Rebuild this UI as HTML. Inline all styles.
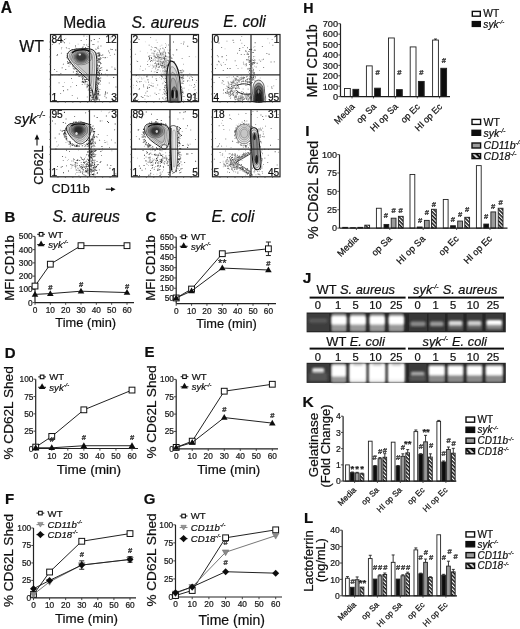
<!DOCTYPE html><html><head><meta charset="utf-8"><style>html,body{margin:0;padding:0;background:#fff;}svg{display:block;}text{stroke:#111;stroke-width:0.22px;}</style></head><body><svg width="520" height="629" viewBox="0 0 520 629" font-family='"Liberation Sans", sans-serif'><defs><filter id="gsoft" x="0" y="0" width="100%" height="100%"><feGaussianBlur stdDeviation="0.35"/></filter></defs><g filter="url(#gsoft)"><rect width="520" height="629" fill="#fff"/><text x="0.80" y="12.60" font-size="15.6" font-weight="bold" fill="#111">A</text>
<text x="84.40" y="28.20" font-size="15.6" text-anchor="middle" fill="#111">Media</text>
<text x="165.30" y="27.60" font-size="15.8" text-anchor="middle" font-style="italic" fill="#111">S. aureus</text>
<text x="244.60" y="27.20" font-size="15.6" text-anchor="middle" font-style="italic" fill="#111">E. coli</text>
<text x="19.30" y="51.90" font-size="15.8" fill="#111">WT</text>
<text x="14.3" y="124.3" font-size="15" font-style="italic" fill="#111">syk<tspan font-size="9" dy="-6.2">-/-</tspan></text>
<text x="43.00" y="165.20" font-size="12.6" text-anchor="middle" transform="rotate(-90 43.00 165.20)" fill="#111">CD62L</text>
<text x="51.60" y="193.40" font-size="12.6" fill="#111">CD11b</text>
<path d="M37 145.5 V138" stroke="#111" stroke-width="1.1"/><path d="M34.6 139.5 L37 134.3 L39.4 139.5 Z" fill="#111"/>
<path d="M105.8 189.2 H112" stroke="#111" stroke-width="1.1"/><path d="M111 186.9 L115.6 189.2 L111 191.5 Z" fill="#111"/>
<defs><filter id="soft" x="-5%" y="-5%" width="110%" height="110%"><feGaussianBlur stdDeviation="0.35"/></filter></defs>
<g filter="url(#soft)">
<path d="M92.7 97.2h0.9v0.9h-0.9zM95.6 92.0h0.9v0.9h-0.9zM95.5 74.2h0.9v0.9h-0.9zM91.7 86.1h0.9v0.9h-0.9zM95.9 84.0h0.9v0.9h-0.9zM93.7 78.2h0.9v0.9h-0.9zM95.1 93.2h0.9v0.9h-0.9zM97.5 93.0h0.9v0.9h-0.9zM93.9 94.1h0.9v0.9h-0.9zM94.1 99.9h0.9v0.9h-0.9zM89.1 92.2h0.9v0.9h-0.9zM96.6 80.0h0.9v0.9h-0.9zM95.0 89.5h0.9v0.9h-0.9zM97.1 87.6h0.9v0.9h-0.9zM97.5 84.1h0.9v0.9h-0.9zM92.8 72.9h0.9v0.9h-0.9zM97.6 72.0h0.9v0.9h-0.9zM95.7 83.0h0.9v0.9h-0.9zM96.6 86.7h0.9v0.9h-0.9zM95.9 95.1h0.9v0.9h-0.9zM96.4 77.4h0.9v0.9h-0.9zM95.5 57.4h0.9v0.9h-0.9zM98.4 98.8h0.9v0.9h-0.9zM95.7 84.8h0.9v0.9h-0.9zM94.5 97.5h0.9v0.9h-0.9zM92.9 85.9h0.9v0.9h-0.9zM95.9 54.3h0.9v0.9h-0.9zM95.8 92.3h0.9v0.9h-0.9zM90.3 87.5h0.9v0.9h-0.9zM94.0 86.8h0.9v0.9h-0.9zM94.7 86.1h0.9v0.9h-0.9zM94.4 98.2h0.9v0.9h-0.9zM94.6 97.8h0.9v0.9h-0.9zM92.4 53.7h0.9v0.9h-0.9zM92.5 72.6h0.9v0.9h-0.9zM94.3 87.9h0.9v0.9h-0.9zM95.8 84.7h0.9v0.9h-0.9zM97.1 97.1h0.9v0.9h-0.9zM95.0 100.0h0.9v0.9h-0.9zM94.1 88.6h0.9v0.9h-0.9zM93.2 90.8h0.9v0.9h-0.9zM94.1 75.5h0.9v0.9h-0.9zM90.8 100.1h0.9v0.9h-0.9zM95.9 88.4h0.9v0.9h-0.9zM96.0 94.6h0.9v0.9h-0.9zM96.1 95.7h0.9v0.9h-0.9zM93.9 87.7h0.9v0.9h-0.9zM96.8 58.2h0.9v0.9h-0.9zM95.6 98.2h0.9v0.9h-0.9zM93.1 69.5h0.9v0.9h-0.9zM95.1 93.3h0.9v0.9h-0.9zM97.0 92.7h0.9v0.9h-0.9zM94.4 81.4h0.9v0.9h-0.9zM93.6 72.8h0.9v0.9h-0.9zM92.6 79.9h0.9v0.9h-0.9zM92.0 97.4h0.9v0.9h-0.9zM97.4 94.4h0.9v0.9h-0.9zM94.5 97.5h0.9v0.9h-0.9zM92.3 65.4h0.9v0.9h-0.9zM96.3 98.1h0.9v0.9h-0.9zM95.2 89.2h0.9v0.9h-0.9zM95.8 53.7h0.9v0.9h-0.9zM96.5 94.4h0.9v0.9h-0.9zM92.3 74.8h0.9v0.9h-0.9zM95.3 85.0h0.9v0.9h-0.9zM96.0 94.3h0.9v0.9h-0.9zM97.3 94.4h0.9v0.9h-0.9zM95.0 99.6h0.9v0.9h-0.9zM99.4 89.0h0.9v0.9h-0.9zM94.8 93.8h0.9v0.9h-0.9zM95.5 88.4h0.9v0.9h-0.9zM92.8 93.9h0.9v0.9h-0.9zM94.6 87.5h0.9v0.9h-0.9zM89.6 66.8h0.9v0.9h-0.9zM90.9 95.7h0.9v0.9h-0.9zM97.0 67.4h0.9v0.9h-0.9zM96.3 93.6h0.9v0.9h-0.9zM94.5 76.7h0.9v0.9h-0.9zM94.0 95.0h0.9v0.9h-0.9zM93.7 92.0h0.9v0.9h-0.9zM95.6 89.3h0.9v0.9h-0.9zM99.7 83.8h0.9v0.9h-0.9zM95.7 91.5h0.9v0.9h-0.9zM93.4 98.1h0.9v0.9h-0.9zM96.6 53.2h0.9v0.9h-0.9zM95.6 95.6h0.9v0.9h-0.9zM95.9 92.3h0.9v0.9h-0.9zM95.0 91.8h0.9v0.9h-0.9zM92.8 66.4h0.9v0.9h-0.9zM93.4 88.2h0.9v0.9h-0.9zM98.1 59.1h0.9v0.9h-0.9zM96.1 68.4h0.9v0.9h-0.9zM95.6 70.6h0.9v0.9h-0.9zM97.5 66.4h0.9v0.9h-0.9zM99.7 55.0h0.9v0.9h-0.9zM99.2 69.9h0.9v0.9h-0.9zM96.9 59.4h0.9v0.9h-0.9zM98.5 53.2h0.9v0.9h-0.9zM97.7 53.6h0.9v0.9h-0.9zM99.0 73.8h0.9v0.9h-0.9zM99.3 72.0h0.9v0.9h-0.9zM98.4 72.9h0.9v0.9h-0.9zM95.4 61.2h0.9v0.9h-0.9zM99.3 58.7h0.9v0.9h-0.9zM97.0 79.4h0.9v0.9h-0.9zM98.1 52.8h0.9v0.9h-0.9zM96.0 76.3h0.9v0.9h-0.9zM101.2 55.0h0.9v0.9h-0.9zM99.0 73.2h0.9v0.9h-0.9zM98.8 57.7h0.9v0.9h-0.9zM75.7 73.4h0.9v0.9h-0.9zM76.6 67.4h0.9v0.9h-0.9zM66.8 58.3h0.9v0.9h-0.9zM78.1 68.5h0.9v0.9h-0.9zM75.9 71.3h0.9v0.9h-0.9zM74.4 60.8h0.9v0.9h-0.9zM80.4 75.5h0.9v0.9h-0.9zM72.1 63.5h0.9v0.9h-0.9zM76.7 67.8h0.9v0.9h-0.9zM90.0 83.7h0.9v0.9h-0.9zM83.3 82.2h0.9v0.9h-0.9zM78.0 72.9h0.9v0.9h-0.9zM77.9 75.5h0.9v0.9h-0.9zM88.6 83.7h0.9v0.9h-0.9zM82.9 75.6h0.9v0.9h-0.9zM82.1 76.2h0.9v0.9h-0.9zM79.3 69.0h0.9v0.9h-0.9zM85.0 81.1h0.9v0.9h-0.9zM73.8 66.7h0.9v0.9h-0.9zM88.8 87.5h0.9v0.9h-0.9zM82.7 77.0h0.9v0.9h-0.9zM71.7 61.9h0.9v0.9h-0.9zM90.1 82.8h0.9v0.9h-0.9zM83.6 77.5h0.9v0.9h-0.9zM88.4 76.0h0.9v0.9h-0.9zM72.8 62.0h0.9v0.9h-0.9zM68.9 58.6h0.9v0.9h-0.9zM92.1 90.5h0.9v0.9h-0.9zM82.4 80.4h0.9v0.9h-0.9zM91.3 87.5h0.9v0.9h-0.9zM88.4 85.6h0.9v0.9h-0.9zM73.0 68.2h0.9v0.9h-0.9zM89.2 88.3h0.9v0.9h-0.9zM79.5 60.3h0.9v0.9h-0.9zM82.9 46.6h0.9v0.9h-0.9zM81.0 48.4h0.9v0.9h-0.9zM61.3 46.9h0.9v0.9h-0.9zM109.8 55.2h0.9v0.9h-0.9zM87.7 47.7h0.9v0.9h-0.9zM81.9 55.0h0.9v0.9h-0.9zM82.8 52.8h0.9v0.9h-0.9zM61.1 48.4h0.9v0.9h-0.9zM97.8 45.8h0.9v0.9h-0.9zM79.8 54.6h0.9v0.9h-0.9zM71.3 53.3h0.9v0.9h-0.9zM68.3 62.1h0.9v0.9h-0.9zM71.8 95.1h0.9v0.9h-0.9zM110.5 38.4h0.9v0.9h-0.9zM55.8 40.4h0.9v0.9h-0.9zM68.9 48.3h0.9v0.9h-0.9zM99.6 61.9h0.9v0.9h-0.9zM111.5 66.5h0.9v0.9h-0.9zM54.6 93.1h0.9v0.9h-0.9zM108.8 82.6h0.9v0.9h-0.9zM76.5 62.7h0.9v0.9h-0.9zM114.7 97.2h0.9v0.9h-0.9zM86.1 39.1h0.9v0.9h-0.9zM86.8 96.5h0.9v0.9h-0.9zM68.5 65.8h0.9v0.9h-0.9zM69.8 50.8h0.9v0.9h-0.9zM106.8 75.4h0.9v0.9h-0.9zM76.2 73.8h0.9v0.9h-0.9zM70.3 86.3h0.9v0.9h-0.9z" fill="#888"/>
<path d="M92.8 92.6h0.9v0.9h-0.9zM95.6 89.4h0.9v0.9h-0.9zM93.4 87.7h0.9v0.9h-0.9zM93.9 99.1h0.9v0.9h-0.9zM94.4 86.3h0.9v0.9h-0.9zM97.5 90.6h0.9v0.9h-0.9zM93.0 89.6h0.9v0.9h-0.9zM94.9 90.6h0.9v0.9h-0.9zM94.6 84.4h0.9v0.9h-0.9zM93.7 89.2h0.9v0.9h-0.9zM99.5 94.6h0.9v0.9h-0.9zM96.1 72.4h0.9v0.9h-0.9zM97.5 97.7h0.9v0.9h-0.9zM93.1 82.7h0.9v0.9h-0.9zM93.3 85.2h0.9v0.9h-0.9zM91.3 90.2h0.9v0.9h-0.9zM92.8 87.1h0.9v0.9h-0.9zM93.3 66.0h0.9v0.9h-0.9zM90.1 85.2h0.9v0.9h-0.9zM96.2 87.5h0.9v0.9h-0.9zM98.0 93.3h0.9v0.9h-0.9zM94.5 91.6h0.9v0.9h-0.9zM98.8 82.3h0.9v0.9h-0.9zM98.0 83.2h0.9v0.9h-0.9zM94.5 91.6h0.9v0.9h-0.9zM93.1 98.8h0.9v0.9h-0.9zM94.3 78.3h0.9v0.9h-0.9zM95.6 97.8h0.9v0.9h-0.9zM97.6 88.3h0.9v0.9h-0.9zM96.6 81.5h0.9v0.9h-0.9zM93.9 85.3h0.9v0.9h-0.9zM92.5 89.7h0.9v0.9h-0.9zM96.8 85.1h0.9v0.9h-0.9zM94.2 68.2h0.9v0.9h-0.9zM96.2 84.2h0.9v0.9h-0.9zM95.9 69.3h0.9v0.9h-0.9zM93.3 75.7h0.9v0.9h-0.9zM94.4 88.9h0.9v0.9h-0.9zM94.9 76.2h0.9v0.9h-0.9zM93.2 76.6h0.9v0.9h-0.9zM92.4 98.9h0.9v0.9h-0.9zM93.6 99.1h0.9v0.9h-0.9zM96.8 98.8h0.9v0.9h-0.9zM93.2 86.4h0.9v0.9h-0.9zM97.6 80.6h0.9v0.9h-0.9zM97.3 79.1h0.9v0.9h-0.9zM94.5 95.4h0.9v0.9h-0.9zM95.5 96.8h0.9v0.9h-0.9zM92.8 98.1h0.9v0.9h-0.9zM96.1 98.9h0.9v0.9h-0.9zM95.2 91.7h0.9v0.9h-0.9zM94.9 93.7h0.9v0.9h-0.9zM94.1 94.4h0.9v0.9h-0.9zM94.6 82.4h0.9v0.9h-0.9zM95.6 99.1h0.9v0.9h-0.9zM98.3 91.0h0.9v0.9h-0.9zM94.9 98.3h0.9v0.9h-0.9zM96.4 88.6h0.9v0.9h-0.9zM92.6 76.5h0.9v0.9h-0.9zM93.6 88.9h0.9v0.9h-0.9zM95.7 91.1h0.9v0.9h-0.9zM94.7 87.5h0.9v0.9h-0.9zM94.7 96.3h0.9v0.9h-0.9zM93.5 85.0h0.9v0.9h-0.9zM95.6 72.8h0.9v0.9h-0.9zM95.8 86.7h0.9v0.9h-0.9zM97.9 78.7h0.9v0.9h-0.9zM96.2 94.3h0.9v0.9h-0.9zM94.3 84.5h0.9v0.9h-0.9zM95.9 98.3h0.9v0.9h-0.9zM91.5 83.5h0.9v0.9h-0.9zM94.5 62.5h0.9v0.9h-0.9zM97.1 88.2h0.9v0.9h-0.9zM92.5 92.1h0.9v0.9h-0.9zM95.7 73.1h0.9v0.9h-0.9zM93.2 91.0h0.9v0.9h-0.9zM97.1 96.2h0.9v0.9h-0.9zM99.0 65.3h0.9v0.9h-0.9zM95.6 76.5h0.9v0.9h-0.9zM95.5 93.1h0.9v0.9h-0.9zM92.3 86.8h0.9v0.9h-0.9zM96.2 77.2h0.9v0.9h-0.9zM93.6 79.5h0.9v0.9h-0.9zM99.0 55.3h0.9v0.9h-0.9zM91.3 85.6h0.9v0.9h-0.9zM93.4 98.4h0.9v0.9h-0.9zM97.1 98.9h0.9v0.9h-0.9zM93.0 85.5h0.9v0.9h-0.9zM90.1 95.6h0.9v0.9h-0.9zM96.4 93.0h0.9v0.9h-0.9zM95.1 91.5h0.9v0.9h-0.9zM94.9 88.6h0.9v0.9h-0.9zM95.0 83.2h0.9v0.9h-0.9zM92.6 99.0h0.9v0.9h-0.9zM94.6 96.0h0.9v0.9h-0.9zM93.4 90.0h0.9v0.9h-0.9zM92.3 89.5h0.9v0.9h-0.9zM97.3 97.3h0.9v0.9h-0.9zM96.4 90.4h0.9v0.9h-0.9zM94.1 95.4h0.9v0.9h-0.9zM94.2 68.1h0.9v0.9h-0.9zM94.6 90.4h0.9v0.9h-0.9zM97.1 65.2h0.9v0.9h-0.9zM99.7 68.2h0.9v0.9h-0.9zM100.2 56.9h0.9v0.9h-0.9zM97.4 55.8h0.9v0.9h-0.9zM97.4 72.5h0.9v0.9h-0.9zM101.3 66.9h0.9v0.9h-0.9zM98.6 56.0h0.9v0.9h-0.9zM98.8 60.7h0.9v0.9h-0.9zM101.1 73.9h0.9v0.9h-0.9zM98.5 61.4h0.9v0.9h-0.9zM96.1 59.4h0.9v0.9h-0.9zM98.0 66.7h0.9v0.9h-0.9zM98.3 58.6h0.9v0.9h-0.9zM96.1 71.5h0.9v0.9h-0.9zM98.9 54.2h0.9v0.9h-0.9zM99.1 53.2h0.9v0.9h-0.9zM97.8 71.5h0.9v0.9h-0.9zM96.8 72.6h0.9v0.9h-0.9zM100.1 62.2h0.9v0.9h-0.9zM98.7 74.7h0.9v0.9h-0.9zM96.9 69.7h0.9v0.9h-0.9zM79.0 68.4h0.9v0.9h-0.9zM91.4 91.5h0.9v0.9h-0.9zM84.8 81.8h0.9v0.9h-0.9zM81.9 72.7h0.9v0.9h-0.9zM72.3 64.6h0.9v0.9h-0.9zM78.8 76.0h0.9v0.9h-0.9zM71.4 61.4h0.9v0.9h-0.9zM72.9 71.6h0.9v0.9h-0.9zM69.2 60.3h0.9v0.9h-0.9zM77.3 71.4h0.9v0.9h-0.9zM75.1 67.2h0.9v0.9h-0.9zM87.0 86.1h0.9v0.9h-0.9zM84.8 79.3h0.9v0.9h-0.9zM76.7 64.4h0.9v0.9h-0.9zM81.8 83.9h0.9v0.9h-0.9zM72.1 57.5h0.9v0.9h-0.9zM75.6 61.2h0.9v0.9h-0.9zM86.0 79.0h0.9v0.9h-0.9zM87.8 89.7h0.9v0.9h-0.9zM77.1 71.7h0.9v0.9h-0.9zM90.9 85.5h0.9v0.9h-0.9zM81.6 76.8h0.9v0.9h-0.9zM82.4 78.8h0.9v0.9h-0.9zM84.5 83.5h0.9v0.9h-0.9zM84.7 81.0h0.9v0.9h-0.9zM86.4 85.7h0.9v0.9h-0.9zM67.2 55.5h0.9v0.9h-0.9zM89.0 85.4h0.9v0.9h-0.9zM86.6 81.4h0.9v0.9h-0.9zM66.8 53.0h0.9v0.9h-0.9zM82.4 55.0h0.9v0.9h-0.9zM81.8 53.2h0.9v0.9h-0.9zM81.9 46.8h0.9v0.9h-0.9zM56.6 55.1h0.9v0.9h-0.9zM64.1 42.3h0.9v0.9h-0.9zM110.2 48.7h0.9v0.9h-0.9zM85.3 53.0h0.9v0.9h-0.9zM76.3 48.2h0.9v0.9h-0.9zM74.0 52.4h0.9v0.9h-0.9zM80.4 54.8h0.9v0.9h-0.9zM60.2 92.9h0.9v0.9h-0.9zM60.9 52.7h0.9v0.9h-0.9zM54.3 94.6h0.9v0.9h-0.9zM95.3 48.7h0.9v0.9h-0.9zM98.2 47.7h0.9v0.9h-0.9zM91.5 82.0h0.9v0.9h-0.9zM106.9 92.5h0.9v0.9h-0.9zM83.5 35.5h0.9v0.9h-0.9zM80.4 69.1h0.9v0.9h-0.9zM67.3 89.3h0.9v0.9h-0.9zM52.5 41.0h0.9v0.9h-0.9zM51.7 74.7h0.9v0.9h-0.9zM89.1 69.6h0.9v0.9h-0.9zM97.6 41.4h0.9v0.9h-0.9zM100.5 45.5h0.9v0.9h-0.9zM106.8 69.8h0.9v0.9h-0.9zM67.2 62.8h0.9v0.9h-0.9zM51.9 43.9h0.9v0.9h-0.9zM114.2 53.8h0.9v0.9h-0.9zM86.3 44.5h0.9v0.9h-0.9zM70.2 61.8h0.9v0.9h-0.9zM56.4 71.2h0.9v0.9h-0.9zM81.4 71.3h0.9v0.9h-0.9zM108.2 50.5h0.9v0.9h-0.9zM87.8 67.5h0.9v0.9h-0.9zM61.1 39.0h0.9v0.9h-0.9z" fill="#555"/>
<path d="M94.1 91.8h0.9v0.9h-0.9zM91.3 85.6h0.9v0.9h-0.9zM93.3 70.1h0.9v0.9h-0.9zM95.7 79.5h0.9v0.9h-0.9zM93.6 79.0h0.9v0.9h-0.9zM90.6 95.2h0.9v0.9h-0.9zM95.3 87.7h0.9v0.9h-0.9zM96.5 91.5h0.9v0.9h-0.9zM90.7 89.6h0.9v0.9h-0.9zM96.3 68.4h0.9v0.9h-0.9zM94.2 82.6h0.9v0.9h-0.9zM92.8 84.0h0.9v0.9h-0.9zM97.1 78.2h0.9v0.9h-0.9zM95.3 98.4h0.9v0.9h-0.9zM98.3 54.8h0.9v0.9h-0.9zM92.4 96.6h0.9v0.9h-0.9zM95.2 91.6h0.9v0.9h-0.9zM94.5 83.8h0.9v0.9h-0.9zM93.9 89.8h0.9v0.9h-0.9zM96.8 74.9h0.9v0.9h-0.9zM94.9 88.3h0.9v0.9h-0.9zM95.8 83.7h0.9v0.9h-0.9zM90.7 75.7h0.9v0.9h-0.9zM94.8 77.1h0.9v0.9h-0.9zM90.8 81.5h0.9v0.9h-0.9zM90.7 81.8h0.9v0.9h-0.9zM93.4 96.8h0.9v0.9h-0.9zM94.2 78.3h0.9v0.9h-0.9zM94.6 86.5h0.9v0.9h-0.9zM94.9 79.8h0.9v0.9h-0.9zM92.2 94.4h0.9v0.9h-0.9zM94.0 92.5h0.9v0.9h-0.9zM92.8 99.4h0.9v0.9h-0.9zM92.6 94.5h0.9v0.9h-0.9zM91.8 89.0h0.9v0.9h-0.9zM93.1 91.6h0.9v0.9h-0.9zM94.6 90.3h0.9v0.9h-0.9zM97.9 83.5h0.9v0.9h-0.9zM94.0 81.8h0.9v0.9h-0.9zM94.8 54.3h0.9v0.9h-0.9zM94.7 96.5h0.9v0.9h-0.9zM92.0 91.9h0.9v0.9h-0.9zM94.2 95.4h0.9v0.9h-0.9zM95.5 90.0h0.9v0.9h-0.9zM95.6 93.6h0.9v0.9h-0.9zM93.1 96.6h0.9v0.9h-0.9zM96.1 83.9h0.9v0.9h-0.9zM95.6 81.6h0.9v0.9h-0.9zM93.0 96.4h0.9v0.9h-0.9zM95.9 92.4h0.9v0.9h-0.9zM94.6 86.9h0.9v0.9h-0.9zM91.1 68.8h0.9v0.9h-0.9zM94.5 95.4h0.9v0.9h-0.9zM94.6 75.1h0.9v0.9h-0.9zM93.7 88.4h0.9v0.9h-0.9zM94.7 87.1h0.9v0.9h-0.9zM90.8 85.1h0.9v0.9h-0.9zM95.5 91.5h0.9v0.9h-0.9zM91.0 75.1h0.9v0.9h-0.9zM91.6 97.2h0.9v0.9h-0.9zM94.4 99.5h0.9v0.9h-0.9zM97.6 94.1h0.9v0.9h-0.9zM94.1 90.1h0.9v0.9h-0.9zM93.2 58.4h0.9v0.9h-0.9zM92.1 63.2h0.9v0.9h-0.9zM95.0 96.4h0.9v0.9h-0.9zM93.8 39.0h0.9v0.9h-0.9zM94.6 96.4h0.9v0.9h-0.9zM93.6 85.9h0.9v0.9h-0.9zM95.6 98.4h0.9v0.9h-0.9zM95.5 83.8h0.9v0.9h-0.9zM96.8 94.8h0.9v0.9h-0.9zM95.3 99.6h0.9v0.9h-0.9zM93.8 88.8h0.9v0.9h-0.9zM94.4 72.5h0.9v0.9h-0.9zM96.1 73.2h0.9v0.9h-0.9zM94.6 94.4h0.9v0.9h-0.9zM94.8 82.4h0.9v0.9h-0.9zM94.1 93.1h0.9v0.9h-0.9zM94.5 89.0h0.9v0.9h-0.9zM96.2 97.2h0.9v0.9h-0.9zM97.2 97.0h0.9v0.9h-0.9zM95.0 84.1h0.9v0.9h-0.9zM93.8 91.1h0.9v0.9h-0.9zM94.1 89.8h0.9v0.9h-0.9zM98.9 99.6h0.9v0.9h-0.9zM97.0 87.7h0.9v0.9h-0.9zM96.4 87.8h0.9v0.9h-0.9zM96.4 56.8h0.9v0.9h-0.9zM96.9 86.8h0.9v0.9h-0.9zM95.1 93.3h0.9v0.9h-0.9zM92.6 87.7h0.9v0.9h-0.9zM94.9 69.8h0.9v0.9h-0.9zM89.6 98.7h0.9v0.9h-0.9zM95.7 60.6h0.9v0.9h-0.9zM95.0 87.4h0.9v0.9h-0.9zM95.8 98.4h0.9v0.9h-0.9zM96.3 73.5h0.9v0.9h-0.9zM97.3 76.7h0.9v0.9h-0.9zM97.5 68.2h0.9v0.9h-0.9zM97.1 64.4h0.9v0.9h-0.9zM97.6 77.1h0.9v0.9h-0.9zM99.2 52.6h0.9v0.9h-0.9zM98.5 54.7h0.9v0.9h-0.9zM100.1 63.3h0.9v0.9h-0.9zM100.4 67.7h0.9v0.9h-0.9zM97.6 78.2h0.9v0.9h-0.9zM99.1 66.2h0.9v0.9h-0.9zM100.2 70.0h0.9v0.9h-0.9zM101.0 72.9h0.9v0.9h-0.9zM98.4 58.3h0.9v0.9h-0.9zM98.9 73.0h0.9v0.9h-0.9zM97.7 71.9h0.9v0.9h-0.9zM97.2 74.1h0.9v0.9h-0.9zM100.4 58.1h0.9v0.9h-0.9zM98.7 59.3h0.9v0.9h-0.9zM100.3 77.5h0.9v0.9h-0.9zM96.7 60.0h0.9v0.9h-0.9zM89.1 86.6h0.9v0.9h-0.9zM74.3 59.4h0.9v0.9h-0.9zM86.4 79.0h0.9v0.9h-0.9zM88.7 88.6h0.9v0.9h-0.9zM86.7 83.8h0.9v0.9h-0.9zM67.0 61.3h0.9v0.9h-0.9zM81.8 75.9h0.9v0.9h-0.9zM90.6 84.9h0.9v0.9h-0.9zM68.3 63.0h0.9v0.9h-0.9zM85.1 81.1h0.9v0.9h-0.9zM86.9 85.9h0.9v0.9h-0.9zM75.3 67.5h0.9v0.9h-0.9zM86.9 83.8h0.9v0.9h-0.9zM75.8 69.3h0.9v0.9h-0.9zM91.0 87.7h0.9v0.9h-0.9zM89.6 87.9h0.9v0.9h-0.9zM81.7 81.6h0.9v0.9h-0.9zM85.0 79.5h0.9v0.9h-0.9zM90.1 87.8h0.9v0.9h-0.9zM76.8 65.4h0.9v0.9h-0.9zM88.1 79.7h0.9v0.9h-0.9zM81.4 73.0h0.9v0.9h-0.9zM69.7 63.7h0.9v0.9h-0.9zM79.0 71.9h0.9v0.9h-0.9zM82.4 78.0h0.9v0.9h-0.9zM72.6 65.9h0.9v0.9h-0.9zM80.8 71.3h0.9v0.9h-0.9zM90.5 82.6h0.9v0.9h-0.9zM82.1 81.3h0.9v0.9h-0.9zM89.1 48.0h0.9v0.9h-0.9zM71.6 56.9h0.9v0.9h-0.9zM91.1 56.4h0.9v0.9h-0.9zM72.5 49.4h0.9v0.9h-0.9zM72.9 50.4h0.9v0.9h-0.9zM81.6 50.7h0.9v0.9h-0.9zM83.6 44.3h0.9v0.9h-0.9zM80.7 40.2h0.9v0.9h-0.9zM79.3 51.3h0.9v0.9h-0.9zM102.3 54.6h0.9v0.9h-0.9zM98.8 58.6h0.9v0.9h-0.9zM87.7 46.1h0.9v0.9h-0.9zM85.0 46.9h0.9v0.9h-0.9zM98.3 71.6h0.9v0.9h-0.9zM82.5 53.7h0.9v0.9h-0.9zM57.0 53.9h0.9v0.9h-0.9zM104.6 57.4h0.9v0.9h-0.9zM106.3 69.8h0.9v0.9h-0.9zM98.9 38.2h0.9v0.9h-0.9zM104.8 57.0h0.9v0.9h-0.9zM108.9 52.4h0.9v0.9h-0.9zM63.0 90.3h0.9v0.9h-0.9zM75.1 45.5h0.9v0.9h-0.9zM58.6 82.4h0.9v0.9h-0.9zM76.1 84.9h0.9v0.9h-0.9zM114.4 67.7h0.9v0.9h-0.9zM84.9 70.1h0.9v0.9h-0.9zM62.7 41.4h0.9v0.9h-0.9zM97.3 47.6h0.9v0.9h-0.9zM60.4 72.9h0.9v0.9h-0.9zM77.0 97.7h0.9v0.9h-0.9zM102.6 57.2h0.9v0.9h-0.9zM66.6 57.0h0.9v0.9h-0.9zM54.1 69.2h0.9v0.9h-0.9zM115.5 86.6h0.9v0.9h-0.9zM104.7 93.8h0.9v0.9h-0.9zM93.5 52.3h0.9v0.9h-0.9zM85.4 63.6h0.9v0.9h-0.9zM71.0 77.9h0.9v0.9h-0.9zM58.6 74.4h0.9v0.9h-0.9zM58.8 43.3h0.9v0.9h-0.9zM71.3 50.8h0.9v0.9h-0.9z" fill="#3a3a3a"/>
<path d="M94.1 95.3h0.9v0.9h-0.9zM96.7 96.5h0.9v0.9h-0.9zM95.4 97.7h0.9v0.9h-0.9zM95.2 93.9h0.9v0.9h-0.9zM94.7 77.5h0.9v0.9h-0.9zM95.6 99.9h0.9v0.9h-0.9zM97.5 94.5h0.9v0.9h-0.9zM92.7 91.4h0.9v0.9h-0.9zM97.2 64.4h0.9v0.9h-0.9zM90.8 55.7h0.9v0.9h-0.9zM97.8 89.9h0.9v0.9h-0.9zM95.6 91.1h0.9v0.9h-0.9zM91.5 77.9h0.9v0.9h-0.9zM92.0 72.0h0.9v0.9h-0.9zM93.3 93.5h0.9v0.9h-0.9zM91.8 98.6h0.9v0.9h-0.9zM94.3 95.6h0.9v0.9h-0.9zM97.4 82.5h0.9v0.9h-0.9zM94.2 96.0h0.9v0.9h-0.9zM98.6 95.2h0.9v0.9h-0.9zM93.5 99.2h0.9v0.9h-0.9zM91.2 94.6h0.9v0.9h-0.9zM94.3 97.6h0.9v0.9h-0.9zM96.7 95.7h0.9v0.9h-0.9zM100.1 80.4h0.9v0.9h-0.9zM96.4 96.2h0.9v0.9h-0.9zM92.5 74.5h0.9v0.9h-0.9zM96.6 97.8h0.9v0.9h-0.9zM95.4 93.6h0.9v0.9h-0.9zM94.8 98.8h0.9v0.9h-0.9zM97.4 96.3h0.9v0.9h-0.9zM90.0 94.0h0.9v0.9h-0.9zM90.9 86.3h0.9v0.9h-0.9zM96.4 90.8h0.9v0.9h-0.9zM95.2 92.7h0.9v0.9h-0.9zM92.7 88.6h0.9v0.9h-0.9zM96.4 99.2h0.9v0.9h-0.9zM90.7 82.4h0.9v0.9h-0.9zM98.2 86.4h0.9v0.9h-0.9zM95.5 97.6h0.9v0.9h-0.9zM95.5 83.6h0.9v0.9h-0.9zM92.7 87.7h0.9v0.9h-0.9zM92.3 97.6h0.9v0.9h-0.9zM96.3 91.3h0.9v0.9h-0.9zM94.6 74.6h0.9v0.9h-0.9zM95.7 100.0h0.9v0.9h-0.9zM97.6 80.0h0.9v0.9h-0.9zM92.5 81.6h0.9v0.9h-0.9zM94.5 87.3h0.9v0.9h-0.9zM94.3 52.0h0.9v0.9h-0.9zM94.1 95.4h0.9v0.9h-0.9zM94.5 85.7h0.9v0.9h-0.9zM94.3 99.8h0.9v0.9h-0.9zM99.2 95.2h0.9v0.9h-0.9zM95.8 58.9h0.9v0.9h-0.9zM95.1 62.8h0.9v0.9h-0.9zM95.8 88.2h0.9v0.9h-0.9zM97.4 88.3h0.9v0.9h-0.9zM94.5 95.4h0.9v0.9h-0.9zM93.6 59.9h0.9v0.9h-0.9zM91.6 71.8h0.9v0.9h-0.9zM100.2 67.4h0.9v0.9h-0.9zM93.6 97.9h0.9v0.9h-0.9zM92.5 89.7h0.9v0.9h-0.9zM93.3 89.6h0.9v0.9h-0.9zM94.4 87.5h0.9v0.9h-0.9zM97.7 95.3h0.9v0.9h-0.9zM96.1 98.6h0.9v0.9h-0.9zM92.2 95.0h0.9v0.9h-0.9zM93.9 82.0h0.9v0.9h-0.9zM93.2 94.3h0.9v0.9h-0.9zM96.4 62.2h0.9v0.9h-0.9zM93.3 89.5h0.9v0.9h-0.9zM94.7 99.8h0.9v0.9h-0.9zM91.5 72.0h0.9v0.9h-0.9zM95.0 98.3h0.9v0.9h-0.9zM94.7 95.8h0.9v0.9h-0.9zM94.8 80.7h0.9v0.9h-0.9zM95.7 96.0h0.9v0.9h-0.9zM93.8 85.5h0.9v0.9h-0.9zM96.5 89.0h0.9v0.9h-0.9zM92.4 82.5h0.9v0.9h-0.9zM96.1 86.3h0.9v0.9h-0.9zM94.4 69.8h0.9v0.9h-0.9zM96.4 99.9h0.9v0.9h-0.9zM94.0 90.6h0.9v0.9h-0.9zM95.5 97.8h0.9v0.9h-0.9zM93.2 93.1h0.9v0.9h-0.9zM93.3 86.4h0.9v0.9h-0.9zM94.9 92.1h0.9v0.9h-0.9zM91.4 81.3h0.9v0.9h-0.9zM95.2 90.9h0.9v0.9h-0.9zM97.1 95.1h0.9v0.9h-0.9zM96.1 87.2h0.9v0.9h-0.9zM95.6 98.0h0.9v0.9h-0.9zM98.8 54.1h0.9v0.9h-0.9zM96.3 94.3h0.9v0.9h-0.9zM96.4 86.3h0.9v0.9h-0.9zM101.7 69.6h0.9v0.9h-0.9zM101.0 63.0h0.9v0.9h-0.9zM98.5 52.9h0.9v0.9h-0.9zM98.6 56.2h0.9v0.9h-0.9zM98.5 62.0h0.9v0.9h-0.9zM98.8 68.5h0.9v0.9h-0.9zM100.2 57.7h0.9v0.9h-0.9zM100.1 78.3h0.9v0.9h-0.9zM97.1 54.9h0.9v0.9h-0.9zM97.1 70.6h0.9v0.9h-0.9zM99.0 76.0h0.9v0.9h-0.9zM96.6 68.0h0.9v0.9h-0.9zM99.3 60.6h0.9v0.9h-0.9zM99.2 74.9h0.9v0.9h-0.9zM99.7 53.8h0.9v0.9h-0.9zM96.9 57.8h0.9v0.9h-0.9zM98.8 75.7h0.9v0.9h-0.9zM75.4 65.7h0.9v0.9h-0.9zM88.7 86.0h0.9v0.9h-0.9zM89.1 87.2h0.9v0.9h-0.9zM87.4 81.4h0.9v0.9h-0.9zM94.0 90.4h0.9v0.9h-0.9zM83.5 81.4h0.9v0.9h-0.9zM72.6 67.5h0.9v0.9h-0.9zM89.9 87.6h0.9v0.9h-0.9zM92.3 90.2h0.9v0.9h-0.9zM79.5 75.5h0.9v0.9h-0.9zM88.2 84.4h0.9v0.9h-0.9zM68.8 59.0h0.9v0.9h-0.9zM92.2 92.0h0.9v0.9h-0.9zM74.9 63.6h0.9v0.9h-0.9zM76.5 67.7h0.9v0.9h-0.9zM88.7 86.0h0.9v0.9h-0.9zM74.9 64.1h0.9v0.9h-0.9zM70.1 63.0h0.9v0.9h-0.9zM86.7 87.1h0.9v0.9h-0.9zM88.2 89.0h0.9v0.9h-0.9zM81.8 74.5h0.9v0.9h-0.9zM87.2 86.5h0.9v0.9h-0.9zM90.3 83.4h0.9v0.9h-0.9zM78.2 74.3h0.9v0.9h-0.9zM81.7 73.4h0.9v0.9h-0.9zM86.3 87.3h0.9v0.9h-0.9zM79.5 71.1h0.9v0.9h-0.9zM83.9 81.3h0.9v0.9h-0.9zM95.4 56.7h0.9v0.9h-0.9zM70.1 55.5h0.9v0.9h-0.9zM78.0 51.9h0.9v0.9h-0.9zM96.1 49.2h0.9v0.9h-0.9zM79.9 53.4h0.9v0.9h-0.9zM98.5 60.7h0.9v0.9h-0.9zM79.4 58.4h0.9v0.9h-0.9zM75.2 47.6h0.9v0.9h-0.9zM74.4 52.9h0.9v0.9h-0.9zM78.7 48.8h0.9v0.9h-0.9zM94.0 44.2h0.9v0.9h-0.9zM87.0 56.2h0.9v0.9h-0.9zM65.4 38.3h0.9v0.9h-0.9zM106.8 56.9h0.9v0.9h-0.9zM67.8 48.0h0.9v0.9h-0.9zM104.9 73.6h0.9v0.9h-0.9zM72.0 82.2h0.9v0.9h-0.9zM86.5 35.9h0.9v0.9h-0.9zM53.5 42.8h0.9v0.9h-0.9zM83.6 68.1h0.9v0.9h-0.9zM69.2 42.7h0.9v0.9h-0.9zM77.7 43.7h0.9v0.9h-0.9zM109.8 36.8h0.9v0.9h-0.9zM96.0 52.8h0.9v0.9h-0.9zM92.1 51.3h0.9v0.9h-0.9zM88.7 78.1h0.9v0.9h-0.9zM64.0 82.2h0.9v0.9h-0.9z" fill="#aaa"/>
<path d="M96.8 93.4h0.9v0.9h-0.9zM91.2 69.6h0.9v0.9h-0.9zM95.9 96.5h0.9v0.9h-0.9zM93.7 83.8h0.9v0.9h-0.9zM93.0 96.6h0.9v0.9h-0.9zM94.8 77.6h0.9v0.9h-0.9zM95.8 90.0h0.9v0.9h-0.9zM91.7 96.7h0.9v0.9h-0.9zM92.4 83.4h0.9v0.9h-0.9zM96.8 98.2h0.9v0.9h-0.9zM95.7 98.3h0.9v0.9h-0.9zM95.2 89.3h0.9v0.9h-0.9zM94.8 80.4h0.9v0.9h-0.9zM96.9 85.5h0.9v0.9h-0.9zM96.1 90.8h0.9v0.9h-0.9zM93.7 94.3h0.9v0.9h-0.9zM95.4 96.7h0.9v0.9h-0.9zM96.3 74.2h0.9v0.9h-0.9zM96.8 52.7h0.9v0.9h-0.9zM96.0 74.1h0.9v0.9h-0.9zM95.0 79.5h0.9v0.9h-0.9zM96.2 98.5h0.9v0.9h-0.9zM94.4 73.4h0.9v0.9h-0.9zM91.5 73.8h0.9v0.9h-0.9zM94.6 80.5h0.9v0.9h-0.9zM94.4 90.1h0.9v0.9h-0.9zM97.6 82.6h0.9v0.9h-0.9zM96.9 74.2h0.9v0.9h-0.9zM95.2 90.0h0.9v0.9h-0.9zM94.6 86.0h0.9v0.9h-0.9zM94.5 82.3h0.9v0.9h-0.9zM93.5 81.7h0.9v0.9h-0.9zM91.5 89.5h0.9v0.9h-0.9zM91.5 98.9h0.9v0.9h-0.9zM89.9 95.1h0.9v0.9h-0.9zM96.0 96.0h0.9v0.9h-0.9zM97.3 89.1h0.9v0.9h-0.9zM95.5 63.5h0.9v0.9h-0.9zM98.5 69.4h0.9v0.9h-0.9zM95.2 86.1h0.9v0.9h-0.9zM99.9 80.5h0.9v0.9h-0.9zM95.2 88.4h0.9v0.9h-0.9zM97.3 68.4h0.9v0.9h-0.9zM95.2 97.7h0.9v0.9h-0.9zM93.8 83.5h0.9v0.9h-0.9zM92.2 76.8h0.9v0.9h-0.9zM92.9 96.3h0.9v0.9h-0.9zM95.5 94.2h0.9v0.9h-0.9zM95.9 97.2h0.9v0.9h-0.9zM95.4 82.0h0.9v0.9h-0.9zM90.8 99.9h0.9v0.9h-0.9zM93.8 76.4h0.9v0.9h-0.9zM94.2 55.2h0.9v0.9h-0.9zM95.3 80.7h0.9v0.9h-0.9zM93.7 64.8h0.9v0.9h-0.9zM98.3 91.7h0.9v0.9h-0.9zM90.9 81.8h0.9v0.9h-0.9zM95.6 72.4h0.9v0.9h-0.9zM91.6 97.4h0.9v0.9h-0.9zM95.2 78.0h0.9v0.9h-0.9zM97.0 82.7h0.9v0.9h-0.9zM93.2 88.1h0.9v0.9h-0.9zM92.7 94.6h0.9v0.9h-0.9zM95.7 63.2h0.9v0.9h-0.9zM96.1 95.5h0.9v0.9h-0.9zM92.8 89.5h0.9v0.9h-0.9zM96.4 69.5h0.9v0.9h-0.9zM95.5 94.4h0.9v0.9h-0.9zM97.6 90.7h0.9v0.9h-0.9zM98.0 93.3h0.9v0.9h-0.9zM95.1 60.8h0.9v0.9h-0.9zM95.2 96.5h0.9v0.9h-0.9zM93.5 92.7h0.9v0.9h-0.9zM96.3 87.4h0.9v0.9h-0.9zM95.2 71.1h0.9v0.9h-0.9zM94.9 82.6h0.9v0.9h-0.9zM93.9 87.8h0.9v0.9h-0.9zM93.4 92.0h0.9v0.9h-0.9zM95.7 72.5h0.9v0.9h-0.9zM92.0 56.2h0.9v0.9h-0.9zM94.5 93.5h0.9v0.9h-0.9zM94.1 82.0h0.9v0.9h-0.9zM94.6 66.1h0.9v0.9h-0.9zM97.0 70.3h0.9v0.9h-0.9zM93.0 93.4h0.9v0.9h-0.9zM95.5 98.2h0.9v0.9h-0.9zM95.5 91.6h0.9v0.9h-0.9zM95.3 79.2h0.9v0.9h-0.9zM92.6 87.1h0.9v0.9h-0.9zM92.8 59.3h0.9v0.9h-0.9zM94.4 89.0h0.9v0.9h-0.9zM91.2 80.3h0.9v0.9h-0.9zM91.8 70.5h0.9v0.9h-0.9zM93.9 63.1h0.9v0.9h-0.9zM92.0 89.1h0.9v0.9h-0.9zM92.6 94.7h0.9v0.9h-0.9zM93.7 99.6h0.9v0.9h-0.9zM94.2 70.0h0.9v0.9h-0.9zM98.8 79.7h0.9v0.9h-0.9zM98.5 75.0h0.9v0.9h-0.9zM99.1 70.3h0.9v0.9h-0.9zM97.5 78.2h0.9v0.9h-0.9zM98.6 61.8h0.9v0.9h-0.9zM97.8 60.4h0.9v0.9h-0.9zM98.6 65.0h0.9v0.9h-0.9zM98.3 79.0h0.9v0.9h-0.9zM97.7 77.4h0.9v0.9h-0.9zM98.7 55.0h0.9v0.9h-0.9zM98.7 78.0h0.9v0.9h-0.9zM97.9 52.6h0.9v0.9h-0.9zM99.7 59.2h0.9v0.9h-0.9zM74.8 64.7h0.9v0.9h-0.9zM70.0 60.4h0.9v0.9h-0.9zM90.4 90.3h0.9v0.9h-0.9zM87.8 85.1h0.9v0.9h-0.9zM81.2 72.7h0.9v0.9h-0.9zM73.8 68.6h0.9v0.9h-0.9zM93.7 91.9h0.9v0.9h-0.9zM93.5 88.3h0.9v0.9h-0.9zM82.8 81.6h0.9v0.9h-0.9zM78.5 67.4h0.9v0.9h-0.9zM76.3 71.1h0.9v0.9h-0.9zM76.5 73.2h0.9v0.9h-0.9zM83.4 82.2h0.9v0.9h-0.9zM92.5 93.2h0.9v0.9h-0.9zM78.5 70.3h0.9v0.9h-0.9zM76.3 73.7h0.9v0.9h-0.9zM89.1 82.3h0.9v0.9h-0.9zM78.4 68.8h0.9v0.9h-0.9zM93.0 88.4h0.9v0.9h-0.9zM75.9 67.2h0.9v0.9h-0.9zM75.2 62.0h0.9v0.9h-0.9zM85.7 80.9h0.9v0.9h-0.9zM82.4 80.9h0.9v0.9h-0.9zM81.4 71.2h0.9v0.9h-0.9zM75.5 68.1h0.9v0.9h-0.9zM79.8 72.0h0.9v0.9h-0.9zM84.0 79.3h0.9v0.9h-0.9zM81.7 74.5h0.9v0.9h-0.9zM81.1 74.2h0.9v0.9h-0.9zM77.2 74.0h0.9v0.9h-0.9zM84.0 74.8h0.9v0.9h-0.9zM77.5 68.3h0.9v0.9h-0.9zM79.4 67.4h0.9v0.9h-0.9zM79.6 74.7h0.9v0.9h-0.9zM72.4 58.6h0.9v0.9h-0.9zM74.5 61.9h0.9v0.9h-0.9zM68.7 62.0h0.9v0.9h-0.9zM91.2 83.5h0.9v0.9h-0.9zM87.6 85.2h0.9v0.9h-0.9zM82.0 78.7h0.9v0.9h-0.9zM91.6 92.4h0.9v0.9h-0.9zM86.6 59.0h0.9v0.9h-0.9zM89.7 51.9h0.9v0.9h-0.9zM81.4 49.2h0.9v0.9h-0.9zM90.8 40.3h0.9v0.9h-0.9zM83.1 51.0h0.9v0.9h-0.9zM71.8 49.1h0.9v0.9h-0.9zM80.5 53.4h0.9v0.9h-0.9zM79.7 56.7h0.9v0.9h-0.9zM62.4 40.4h0.9v0.9h-0.9zM65.9 47.4h0.9v0.9h-0.9zM87.0 54.7h0.9v0.9h-0.9zM84.3 63.5h0.9v0.9h-0.9zM92.6 44.1h0.9v0.9h-0.9zM61.7 67.4h0.9v0.9h-0.9zM99.2 54.2h0.9v0.9h-0.9zM62.9 63.7h0.9v0.9h-0.9zM111.6 49.1h0.9v0.9h-0.9zM88.8 43.8h0.9v0.9h-0.9zM62.6 86.2h0.9v0.9h-0.9zM91.3 67.7h0.9v0.9h-0.9zM64.1 38.9h0.9v0.9h-0.9zM75.4 74.4h0.9v0.9h-0.9zM105.2 92.6h0.9v0.9h-0.9zM115.3 49.5h0.9v0.9h-0.9zM90.2 92.3h0.9v0.9h-0.9zM105.8 97.4h0.9v0.9h-0.9zM104.4 95.7h0.9v0.9h-0.9zM105.1 91.4h0.9v0.9h-0.9zM92.9 59.0h0.9v0.9h-0.9zM79.5 68.4h0.9v0.9h-0.9zM113.3 77.0h0.9v0.9h-0.9zM114.6 69.0h0.9v0.9h-0.9zM91.6 66.0h0.9v0.9h-0.9zM65.3 68.9h0.9v0.9h-0.9z" fill="#222"/>
<path d="M67.40 54.50C67.72 53.45 68.48 52.03 69.50 51.20C70.52 50.37 71.75 49.90 73.50 49.50C75.25 49.10 77.92 48.95 80.00 48.80C82.08 48.65 84.17 48.53 86.00 48.60C87.83 48.67 89.57 48.75 91.00 49.20C92.43 49.65 93.70 50.17 94.60 51.30C95.50 52.43 96.02 54.05 96.40 56.00C96.78 57.95 96.85 60.67 96.90 63.00C96.95 65.33 96.82 67.67 96.70 70.00C96.58 72.33 96.35 74.67 96.20 77.00C96.05 79.33 95.93 81.83 95.80 84.00C95.67 86.17 95.60 88.25 95.40 90.00C95.20 91.75 94.93 93.62 94.60 94.50C94.27 95.38 93.75 95.88 93.40 95.30C93.05 94.72 92.83 92.63 92.50 91.00C92.17 89.37 91.90 87.17 91.40 85.50C90.90 83.83 90.57 82.45 89.50 81.00C88.43 79.55 86.67 78.33 85.00 76.80C83.33 75.27 81.33 73.52 79.50 71.80C77.67 70.08 75.63 68.30 74.00 66.50C72.37 64.70 70.77 62.50 69.70 61.00C68.63 59.50 67.98 58.58 67.60 57.50C67.22 56.42 67.08 55.55 67.40 54.50Z" fill="#ececec" stroke="#1a1a1a" stroke-width="1.0"/>
<path d="M69.44 54.92C69.72 54.02 70.38 52.80 71.25 52.08C72.12 51.37 73.19 50.96 74.69 50.62C76.19 50.28 78.49 50.15 80.28 50.02C82.07 49.89 83.86 49.79 85.44 49.85C87.02 49.90 88.51 49.98 89.74 50.36C90.97 50.75 92.06 51.19 92.84 52.17C93.61 53.14 94.05 54.53 94.38 56.21C94.71 57.89 94.77 60.22 94.81 62.23C94.86 64.24 94.74 66.24 94.64 68.25C94.54 70.26 94.34 72.26 94.21 74.27C94.08 76.28 93.98 78.43 93.87 80.29C93.75 82.15 93.70 83.95 93.52 85.45C93.35 86.95 93.12 88.56 92.84 89.32C92.55 90.08 92.11 90.51 91.80 90.01C91.50 89.51 91.32 87.71 91.03 86.31C90.74 84.91 90.51 83.01 90.08 81.58C89.65 80.15 89.37 78.96 88.45 77.71C87.53 76.46 86.01 75.42 84.58 74.10C83.15 72.78 81.43 71.27 79.85 69.80C78.27 68.32 76.52 66.79 75.12 65.24C73.72 63.69 72.34 61.80 71.42 60.51C70.50 59.22 69.95 58.43 69.62 57.50C69.29 56.57 69.17 55.82 69.44 54.92Z" fill="#dcdcdc" stroke="#555" stroke-width="0.5"/>
<path d="M71.49 55.34C71.72 54.58 72.27 53.56 73.00 52.96C73.73 52.36 74.62 52.03 75.88 51.74C77.14 51.45 79.06 51.34 80.56 51.24C82.06 51.13 83.56 51.04 84.88 51.09C86.20 51.14 87.45 51.20 88.48 51.52C89.51 51.85 90.42 52.22 91.07 53.04C91.72 53.85 92.09 55.02 92.37 56.42C92.64 57.82 92.69 59.78 92.73 61.46C92.76 63.14 92.67 64.82 92.58 66.50C92.50 68.18 92.33 69.86 92.22 71.54C92.12 73.22 92.03 75.02 91.94 76.58C91.84 78.14 91.79 79.64 91.65 80.90C91.50 82.16 91.31 83.50 91.07 84.14C90.83 84.78 90.46 85.14 90.21 84.72C89.96 84.30 89.80 82.80 89.56 81.62C89.32 80.44 89.13 78.86 88.77 77.66C88.41 76.46 88.17 75.46 87.40 74.42C86.63 73.38 85.36 72.50 84.16 71.40C82.96 70.29 81.52 69.03 80.20 67.80C78.88 66.56 77.42 65.28 76.24 63.98C75.06 62.68 73.91 61.10 73.14 60.02C72.38 58.94 71.91 58.28 71.63 57.50C71.36 56.72 71.26 56.10 71.49 55.34Z" fill="#cacaca" stroke="#555" stroke-width="0.5"/>
<ellipse cx="81.20" cy="57.00" rx="10.50" ry="7.80" transform="rotate(0 81.20 57.00)" fill="#c4c4c4" stroke="#333" stroke-width="0.45"/>
<ellipse cx="81.20" cy="57.00" rx="8.71" ry="6.47" transform="rotate(0 81.20 57.00)" fill="#adadad" stroke="#333" stroke-width="0.45"/>
<ellipse cx="81.20" cy="57.00" rx="7.23" ry="5.37" transform="rotate(0 81.20 57.00)" fill="#939393" stroke="#333" stroke-width="0.45"/>
<ellipse cx="81.20" cy="57.00" rx="6.00" ry="4.46" transform="rotate(0 81.20 57.00)" fill="#777" stroke="#333" stroke-width="0.45"/>
<ellipse cx="81.20" cy="57.00" rx="4.98" ry="3.70" transform="rotate(0 81.20 57.00)" fill="#555" stroke="#333" stroke-width="0.45"/>
<ellipse cx="81.20" cy="57.00" rx="4.14" ry="3.07" transform="rotate(0 81.20 57.00)" fill="#383838" stroke="#333" stroke-width="0.45"/>
<path d="M72 53 C74.5 50.3 79 49.6 84 49.8 C87 50 89 50.8 90 52" fill="none" stroke="#111" stroke-width="1.6"/>
<ellipse cx="79.8" cy="54.6" rx="1.3" ry="1.1" fill="#ddd"/>
<path d="M160.4 58.4h0.9v0.9h-0.9zM164.5 65.0h0.9v0.9h-0.9zM165.0 42.9h0.9v0.9h-0.9zM164.9 65.5h0.9v0.9h-0.9zM161.4 44.7h0.9v0.9h-0.9zM163.3 62.8h0.9v0.9h-0.9zM170.1 63.2h0.9v0.9h-0.9zM158.6 54.5h0.9v0.9h-0.9zM170.7 71.5h0.9v0.9h-0.9zM151.9 64.8h0.9v0.9h-0.9zM171.1 61.1h0.9v0.9h-0.9zM175.9 78.7h0.9v0.9h-0.9zM161.3 57.7h0.9v0.9h-0.9zM163.6 73.8h0.9v0.9h-0.9zM159.3 59.7h0.9v0.9h-0.9zM166.2 80.4h0.9v0.9h-0.9zM155.6 63.1h0.9v0.9h-0.9zM155.7 39.7h0.9v0.9h-0.9zM150.9 46.3h0.9v0.9h-0.9zM168.8 53.3h0.9v0.9h-0.9zM162.2 54.0h0.9v0.9h-0.9zM164.4 57.0h0.9v0.9h-0.9zM167.4 66.9h0.9v0.9h-0.9zM145.0 68.5h0.9v0.9h-0.9zM162.7 57.1h0.9v0.9h-0.9zM159.9 53.9h0.9v0.9h-0.9zM161.6 61.5h0.9v0.9h-0.9zM156.1 64.5h0.9v0.9h-0.9zM157.4 48.8h0.9v0.9h-0.9zM161.0 61.6h0.9v0.9h-0.9zM159.0 51.5h0.9v0.9h-0.9zM167.8 65.0h0.9v0.9h-0.9zM156.0 56.9h0.9v0.9h-0.9zM160.8 72.7h0.9v0.9h-0.9zM165.3 53.2h0.9v0.9h-0.9zM147.9 59.7h0.9v0.9h-0.9zM168.5 67.8h0.9v0.9h-0.9zM169.9 60.8h0.9v0.9h-0.9zM170.2 69.9h0.9v0.9h-0.9zM170.0 78.7h0.9v0.9h-0.9zM167.7 57.4h0.9v0.9h-0.9zM163.9 73.2h0.9v0.9h-0.9zM165.4 66.7h0.9v0.9h-0.9zM164.0 66.3h0.9v0.9h-0.9zM173.7 63.1h0.9v0.9h-0.9zM163.0 65.8h0.9v0.9h-0.9zM157.8 67.1h0.9v0.9h-0.9zM154.9 68.7h0.9v0.9h-0.9zM168.5 61.7h0.9v0.9h-0.9zM156.5 63.7h0.9v0.9h-0.9zM162.3 60.9h0.9v0.9h-0.9zM170.6 68.8h0.9v0.9h-0.9zM147.1 60.9h0.9v0.9h-0.9zM152.8 55.6h0.9v0.9h-0.9zM166.2 74.7h0.9v0.9h-0.9zM165.4 84.9h0.9v0.9h-0.9zM165.5 91.7h0.9v0.9h-0.9zM164.4 99.6h0.9v0.9h-0.9zM165.1 75.5h0.9v0.9h-0.9zM167.4 99.5h0.9v0.9h-0.9zM167.0 79.6h0.9v0.9h-0.9zM168.9 94.6h0.9v0.9h-0.9zM164.7 74.3h0.9v0.9h-0.9zM166.3 83.8h0.9v0.9h-0.9zM164.7 88.2h0.9v0.9h-0.9zM166.2 76.1h0.9v0.9h-0.9zM164.3 72.4h0.9v0.9h-0.9zM166.9 88.4h0.9v0.9h-0.9zM167.3 75.6h0.9v0.9h-0.9zM165.8 92.8h0.9v0.9h-0.9zM164.7 70.3h0.9v0.9h-0.9zM166.8 62.1h0.9v0.9h-0.9zM164.0 63.5h0.9v0.9h-0.9zM166.8 75.3h0.9v0.9h-0.9zM166.4 90.3h0.9v0.9h-0.9zM164.8 69.7h0.9v0.9h-0.9zM168.3 99.0h0.9v0.9h-0.9zM166.0 77.0h0.9v0.9h-0.9zM164.5 86.8h0.9v0.9h-0.9zM165.7 90.3h0.9v0.9h-0.9zM166.4 89.8h0.9v0.9h-0.9zM163.8 90.9h0.9v0.9h-0.9zM166.8 100.1h0.9v0.9h-0.9zM166.3 98.3h0.9v0.9h-0.9zM167.1 68.0h0.9v0.9h-0.9zM168.0 96.7h0.9v0.9h-0.9zM166.2 93.2h0.9v0.9h-0.9zM166.6 83.3h0.9v0.9h-0.9zM164.1 66.8h0.9v0.9h-0.9zM167.5 79.2h0.9v0.9h-0.9zM169.0 89.6h0.9v0.9h-0.9zM166.2 71.7h0.9v0.9h-0.9zM163.2 77.9h0.9v0.9h-0.9zM163.0 70.3h0.9v0.9h-0.9zM165.5 62.5h0.9v0.9h-0.9zM169.0 72.1h0.9v0.9h-0.9zM143.3 86.5h0.9v0.9h-0.9zM196.1 92.0h0.9v0.9h-0.9zM149.8 95.4h0.9v0.9h-0.9zM141.1 77.4h0.9v0.9h-0.9zM148.4 84.6h0.9v0.9h-0.9zM174.5 87.4h0.9v0.9h-0.9zM162.3 93.9h0.9v0.9h-0.9zM137.1 81.9h0.9v0.9h-0.9zM141.2 96.3h0.9v0.9h-0.9zM160.9 78.6h0.9v0.9h-0.9zM158.4 93.0h0.9v0.9h-0.9zM141.5 78.5h0.9v0.9h-0.9zM170.7 86.9h0.9v0.9h-0.9zM180.8 99.7h0.9v0.9h-0.9zM181.4 99.7h0.9v0.9h-0.9zM183.0 77.2h0.9v0.9h-0.9zM181.9 82.6h0.9v0.9h-0.9zM182.0 87.9h0.9v0.9h-0.9zM181.1 91.0h0.9v0.9h-0.9zM182.0 79.3h0.9v0.9h-0.9zM182.0 96.3h0.9v0.9h-0.9zM180.6 70.5h0.9v0.9h-0.9zM182.9 77.1h0.9v0.9h-0.9zM181.6 89.3h0.9v0.9h-0.9zM181.3 87.4h0.9v0.9h-0.9zM181.5 81.9h0.9v0.9h-0.9zM181.0 77.5h0.9v0.9h-0.9zM181.2 86.5h0.9v0.9h-0.9zM180.1 89.1h0.9v0.9h-0.9zM152.6 82.9h0.9v0.9h-0.9zM135.2 75.4h0.9v0.9h-0.9zM137.5 37.8h0.9v0.9h-0.9zM183.1 63.8h0.9v0.9h-0.9zM137.8 99.2h0.9v0.9h-0.9zM143.1 85.8h0.9v0.9h-0.9zM163.2 98.7h0.9v0.9h-0.9zM162.7 82.5h0.9v0.9h-0.9zM148.6 66.0h0.9v0.9h-0.9zM159.5 89.6h0.9v0.9h-0.9zM156.8 41.9h0.9v0.9h-0.9zM190.9 85.2h0.9v0.9h-0.9z" fill="#aaa"/>
<path d="M160.6 63.4h0.9v0.9h-0.9zM165.6 70.3h0.9v0.9h-0.9zM158.4 56.2h0.9v0.9h-0.9zM161.5 60.8h0.9v0.9h-0.9zM165.2 55.3h0.9v0.9h-0.9zM153.5 53.9h0.9v0.9h-0.9zM162.6 58.0h0.9v0.9h-0.9zM168.3 60.8h0.9v0.9h-0.9zM164.8 54.5h0.9v0.9h-0.9zM163.3 66.6h0.9v0.9h-0.9zM157.8 58.9h0.9v0.9h-0.9zM159.7 61.3h0.9v0.9h-0.9zM182.2 71.7h0.9v0.9h-0.9zM158.9 50.1h0.9v0.9h-0.9zM169.8 56.0h0.9v0.9h-0.9zM162.2 70.5h0.9v0.9h-0.9zM164.2 60.5h0.9v0.9h-0.9zM173.3 65.4h0.9v0.9h-0.9zM153.7 55.8h0.9v0.9h-0.9zM155.2 56.9h0.9v0.9h-0.9zM153.5 59.8h0.9v0.9h-0.9zM163.9 58.3h0.9v0.9h-0.9zM165.3 66.5h0.9v0.9h-0.9zM157.8 58.4h0.9v0.9h-0.9zM160.3 64.8h0.9v0.9h-0.9zM164.5 68.9h0.9v0.9h-0.9zM161.2 62.0h0.9v0.9h-0.9zM156.7 61.0h0.9v0.9h-0.9zM161.2 54.8h0.9v0.9h-0.9zM172.6 63.1h0.9v0.9h-0.9zM171.1 66.0h0.9v0.9h-0.9zM166.1 56.3h0.9v0.9h-0.9zM173.1 71.3h0.9v0.9h-0.9zM162.7 52.0h0.9v0.9h-0.9zM171.9 68.4h0.9v0.9h-0.9zM174.5 65.7h0.9v0.9h-0.9zM165.0 59.2h0.9v0.9h-0.9zM181.9 69.6h0.9v0.9h-0.9zM161.7 66.1h0.9v0.9h-0.9zM157.1 55.5h0.9v0.9h-0.9zM164.1 59.6h0.9v0.9h-0.9zM164.9 54.1h0.9v0.9h-0.9zM161.3 65.1h0.9v0.9h-0.9zM154.3 63.0h0.9v0.9h-0.9zM161.8 76.0h0.9v0.9h-0.9zM161.0 56.7h0.9v0.9h-0.9zM171.9 68.6h0.9v0.9h-0.9zM168.1 44.5h0.9v0.9h-0.9zM155.7 65.1h0.9v0.9h-0.9zM161.6 53.2h0.9v0.9h-0.9zM161.1 57.3h0.9v0.9h-0.9zM165.1 60.7h0.9v0.9h-0.9zM159.0 66.2h0.9v0.9h-0.9zM159.8 58.8h0.9v0.9h-0.9zM156.5 54.2h0.9v0.9h-0.9zM170.1 65.9h0.9v0.9h-0.9zM148.8 55.3h0.9v0.9h-0.9zM163.3 60.8h0.9v0.9h-0.9zM174.0 65.4h0.9v0.9h-0.9zM162.4 57.2h0.9v0.9h-0.9zM171.4 58.0h0.9v0.9h-0.9zM170.3 62.0h0.9v0.9h-0.9zM162.3 74.3h0.9v0.9h-0.9zM167.6 56.6h0.9v0.9h-0.9zM156.3 66.4h0.9v0.9h-0.9zM158.2 54.2h0.9v0.9h-0.9zM150.9 70.8h0.9v0.9h-0.9zM174.1 70.3h0.9v0.9h-0.9zM152.2 60.6h0.9v0.9h-0.9zM170.6 57.1h0.9v0.9h-0.9zM165.4 73.4h0.9v0.9h-0.9zM165.7 72.8h0.9v0.9h-0.9zM164.0 93.0h0.9v0.9h-0.9zM165.6 66.2h0.9v0.9h-0.9zM165.2 99.6h0.9v0.9h-0.9zM164.5 67.9h0.9v0.9h-0.9zM165.8 84.1h0.9v0.9h-0.9zM167.7 91.4h0.9v0.9h-0.9zM164.2 66.3h0.9v0.9h-0.9zM167.4 74.0h0.9v0.9h-0.9zM164.9 91.0h0.9v0.9h-0.9zM165.4 77.7h0.9v0.9h-0.9zM167.8 81.5h0.9v0.9h-0.9zM168.4 91.0h0.9v0.9h-0.9zM164.5 94.0h0.9v0.9h-0.9zM164.6 67.1h0.9v0.9h-0.9zM165.8 86.6h0.9v0.9h-0.9zM168.8 93.4h0.9v0.9h-0.9zM165.5 79.7h0.9v0.9h-0.9zM164.8 69.4h0.9v0.9h-0.9zM166.4 86.6h0.9v0.9h-0.9zM166.9 93.0h0.9v0.9h-0.9zM164.8 70.2h0.9v0.9h-0.9zM169.0 89.7h0.9v0.9h-0.9zM164.3 86.9h0.9v0.9h-0.9zM166.4 64.1h0.9v0.9h-0.9zM166.6 71.4h0.9v0.9h-0.9zM167.3 79.9h0.9v0.9h-0.9zM165.9 95.1h0.9v0.9h-0.9zM167.3 74.7h0.9v0.9h-0.9zM168.2 96.7h0.9v0.9h-0.9zM167.9 83.0h0.9v0.9h-0.9zM177.5 93.3h0.9v0.9h-0.9zM155.7 78.6h0.9v0.9h-0.9zM139.1 88.0h0.9v0.9h-0.9zM151.8 85.8h0.9v0.9h-0.9zM187.3 75.6h0.9v0.9h-0.9zM187.0 80.9h0.9v0.9h-0.9zM188.8 96.3h0.9v0.9h-0.9zM192.1 79.0h0.9v0.9h-0.9zM175.2 90.1h0.9v0.9h-0.9zM146.5 76.5h0.9v0.9h-0.9zM157.2 84.6h0.9v0.9h-0.9zM147.0 86.6h0.9v0.9h-0.9zM181.4 89.9h0.9v0.9h-0.9zM194.7 88.9h0.9v0.9h-0.9zM145.3 92.6h0.9v0.9h-0.9zM155.7 78.0h0.9v0.9h-0.9zM191.9 77.0h0.9v0.9h-0.9zM147.1 87.6h0.9v0.9h-0.9zM169.1 93.9h0.9v0.9h-0.9zM190.9 76.3h0.9v0.9h-0.9zM175.3 88.5h0.9v0.9h-0.9zM196.0 80.0h0.9v0.9h-0.9zM182.5 75.6h0.9v0.9h-0.9zM180.4 81.4h0.9v0.9h-0.9zM180.3 94.8h0.9v0.9h-0.9zM182.6 76.4h0.9v0.9h-0.9zM181.2 90.6h0.9v0.9h-0.9zM181.4 83.0h0.9v0.9h-0.9zM181.3 75.0h0.9v0.9h-0.9zM181.4 72.6h0.9v0.9h-0.9zM181.1 92.6h0.9v0.9h-0.9zM183.4 80.6h0.9v0.9h-0.9zM180.5 98.8h0.9v0.9h-0.9zM182.0 91.5h0.9v0.9h-0.9zM181.8 93.9h0.9v0.9h-0.9zM179.5 70.0h0.9v0.9h-0.9zM152.8 66.5h0.9v0.9h-0.9zM162.0 77.2h0.9v0.9h-0.9zM150.2 37.0h0.9v0.9h-0.9zM140.1 65.8h0.9v0.9h-0.9zM173.0 54.6h0.9v0.9h-0.9zM136.1 84.9h0.9v0.9h-0.9zM134.9 53.8h0.9v0.9h-0.9zM180.7 43.2h0.9v0.9h-0.9zM138.7 89.1h0.9v0.9h-0.9zM154.2 51.1h0.9v0.9h-0.9zM188.8 56.1h0.9v0.9h-0.9zM154.4 47.1h0.9v0.9h-0.9zM146.7 95.5h0.9v0.9h-0.9z" fill="#888"/>
<path d="M169.1 56.6h0.9v0.9h-0.9zM166.5 60.3h0.9v0.9h-0.9zM160.0 54.2h0.9v0.9h-0.9zM158.7 66.5h0.9v0.9h-0.9zM154.6 50.4h0.9v0.9h-0.9zM162.8 58.1h0.9v0.9h-0.9zM154.1 55.4h0.9v0.9h-0.9zM163.1 61.9h0.9v0.9h-0.9zM169.6 66.9h0.9v0.9h-0.9zM158.6 57.9h0.9v0.9h-0.9zM163.4 56.2h0.9v0.9h-0.9zM156.2 72.0h0.9v0.9h-0.9zM156.2 80.0h0.9v0.9h-0.9zM166.0 58.4h0.9v0.9h-0.9zM156.7 54.2h0.9v0.9h-0.9zM150.7 49.3h0.9v0.9h-0.9zM155.3 67.5h0.9v0.9h-0.9zM176.3 49.4h0.9v0.9h-0.9zM157.1 72.0h0.9v0.9h-0.9zM167.0 68.4h0.9v0.9h-0.9zM147.2 64.0h0.9v0.9h-0.9zM163.2 61.3h0.9v0.9h-0.9zM160.5 54.4h0.9v0.9h-0.9zM160.0 54.4h0.9v0.9h-0.9zM156.9 52.4h0.9v0.9h-0.9zM164.0 71.1h0.9v0.9h-0.9zM151.0 58.1h0.9v0.9h-0.9zM162.7 54.2h0.9v0.9h-0.9zM171.4 57.7h0.9v0.9h-0.9zM163.8 49.6h0.9v0.9h-0.9zM160.7 52.4h0.9v0.9h-0.9zM163.9 57.1h0.9v0.9h-0.9zM159.1 57.1h0.9v0.9h-0.9zM166.3 60.2h0.9v0.9h-0.9zM161.2 65.4h0.9v0.9h-0.9zM167.4 59.7h0.9v0.9h-0.9zM164.5 58.4h0.9v0.9h-0.9zM181.7 57.9h0.9v0.9h-0.9zM162.5 52.8h0.9v0.9h-0.9zM148.7 44.7h0.9v0.9h-0.9zM168.3 70.1h0.9v0.9h-0.9zM164.2 64.2h0.9v0.9h-0.9zM167.9 68.5h0.9v0.9h-0.9zM166.6 70.1h0.9v0.9h-0.9zM164.6 60.0h0.9v0.9h-0.9zM165.2 54.8h0.9v0.9h-0.9zM165.1 47.0h0.9v0.9h-0.9zM169.0 53.4h0.9v0.9h-0.9zM169.7 49.4h0.9v0.9h-0.9zM165.5 61.1h0.9v0.9h-0.9zM148.3 56.0h0.9v0.9h-0.9zM173.8 60.9h0.9v0.9h-0.9zM160.2 61.7h0.9v0.9h-0.9zM168.5 52.7h0.9v0.9h-0.9zM165.1 55.3h0.9v0.9h-0.9zM158.5 55.4h0.9v0.9h-0.9zM166.9 65.7h0.9v0.9h-0.9zM164.6 67.0h0.9v0.9h-0.9zM164.7 76.5h0.9v0.9h-0.9zM169.9 61.7h0.9v0.9h-0.9zM169.6 79.0h0.9v0.9h-0.9zM151.1 60.0h0.9v0.9h-0.9zM162.5 67.5h0.9v0.9h-0.9zM159.1 51.4h0.9v0.9h-0.9zM168.8 67.6h0.9v0.9h-0.9zM167.0 72.4h0.9v0.9h-0.9zM165.2 97.8h0.9v0.9h-0.9zM163.5 89.0h0.9v0.9h-0.9zM165.5 93.4h0.9v0.9h-0.9zM168.6 82.3h0.9v0.9h-0.9zM167.4 81.6h0.9v0.9h-0.9zM164.1 89.5h0.9v0.9h-0.9zM166.8 93.5h0.9v0.9h-0.9zM165.8 97.9h0.9v0.9h-0.9zM168.4 79.7h0.9v0.9h-0.9zM163.8 67.0h0.9v0.9h-0.9zM165.6 71.8h0.9v0.9h-0.9zM166.6 76.8h0.9v0.9h-0.9zM167.9 62.4h0.9v0.9h-0.9zM167.4 64.8h0.9v0.9h-0.9zM164.3 80.9h0.9v0.9h-0.9zM167.3 69.8h0.9v0.9h-0.9zM168.0 85.4h0.9v0.9h-0.9zM168.1 86.9h0.9v0.9h-0.9zM168.4 82.0h0.9v0.9h-0.9zM164.4 85.2h0.9v0.9h-0.9zM166.3 62.9h0.9v0.9h-0.9zM165.5 66.3h0.9v0.9h-0.9zM167.8 75.7h0.9v0.9h-0.9zM166.0 65.7h0.9v0.9h-0.9zM164.8 77.9h0.9v0.9h-0.9zM163.9 93.1h0.9v0.9h-0.9zM168.2 94.6h0.9v0.9h-0.9zM166.6 66.1h0.9v0.9h-0.9zM167.0 82.7h0.9v0.9h-0.9zM171.6 93.4h0.9v0.9h-0.9zM151.9 76.5h0.9v0.9h-0.9zM180.3 77.3h0.9v0.9h-0.9zM194.0 84.0h0.9v0.9h-0.9zM175.7 90.5h0.9v0.9h-0.9zM175.8 79.6h0.9v0.9h-0.9zM140.8 95.9h0.9v0.9h-0.9zM147.2 75.6h0.9v0.9h-0.9zM189.0 77.7h0.9v0.9h-0.9zM180.5 76.8h0.9v0.9h-0.9zM181.1 89.2h0.9v0.9h-0.9zM172.0 92.3h0.9v0.9h-0.9zM146.7 90.8h0.9v0.9h-0.9zM146.0 75.8h0.9v0.9h-0.9zM144.3 94.9h0.9v0.9h-0.9zM153.1 85.7h0.9v0.9h-0.9zM154.5 92.7h0.9v0.9h-0.9zM140.7 81.2h0.9v0.9h-0.9zM166.5 90.4h0.9v0.9h-0.9zM158.9 98.6h0.9v0.9h-0.9zM194.6 85.7h0.9v0.9h-0.9zM196.3 98.1h0.9v0.9h-0.9zM183.6 87.7h0.9v0.9h-0.9zM179.5 72.3h0.9v0.9h-0.9zM181.0 93.0h0.9v0.9h-0.9zM182.8 75.4h0.9v0.9h-0.9zM183.2 77.9h0.9v0.9h-0.9zM180.9 86.6h0.9v0.9h-0.9zM181.2 72.2h0.9v0.9h-0.9zM183.1 74.6h0.9v0.9h-0.9zM181.1 94.7h0.9v0.9h-0.9zM182.0 77.2h0.9v0.9h-0.9zM181.6 90.5h0.9v0.9h-0.9zM180.7 94.6h0.9v0.9h-0.9zM183.5 41.6h0.9v0.9h-0.9zM163.9 51.4h0.9v0.9h-0.9zM179.2 86.2h0.9v0.9h-0.9zM156.4 64.5h0.9v0.9h-0.9zM193.6 97.2h0.9v0.9h-0.9zM183.0 43.6h0.9v0.9h-0.9zM143.1 84.5h0.9v0.9h-0.9zM149.3 59.0h0.9v0.9h-0.9z" fill="#666"/>
<path d="M168.8 66.1h0.9v0.9h-0.9zM171.3 67.3h0.9v0.9h-0.9zM147.2 52.4h0.9v0.9h-0.9zM153.1 58.8h0.9v0.9h-0.9zM163.4 54.8h0.9v0.9h-0.9zM170.3 67.5h0.9v0.9h-0.9zM162.0 68.3h0.9v0.9h-0.9zM163.0 51.2h0.9v0.9h-0.9zM164.3 70.6h0.9v0.9h-0.9zM169.7 75.6h0.9v0.9h-0.9zM167.7 72.1h0.9v0.9h-0.9zM154.7 71.2h0.9v0.9h-0.9zM159.7 45.7h0.9v0.9h-0.9zM164.2 61.4h0.9v0.9h-0.9zM170.3 56.5h0.9v0.9h-0.9zM170.0 66.3h0.9v0.9h-0.9zM154.6 55.4h0.9v0.9h-0.9zM155.5 75.4h0.9v0.9h-0.9zM167.2 56.2h0.9v0.9h-0.9zM161.0 53.6h0.9v0.9h-0.9zM163.1 65.1h0.9v0.9h-0.9zM163.8 60.0h0.9v0.9h-0.9zM154.1 47.1h0.9v0.9h-0.9zM164.8 55.8h0.9v0.9h-0.9zM166.3 60.4h0.9v0.9h-0.9zM155.5 60.0h0.9v0.9h-0.9zM150.4 55.1h0.9v0.9h-0.9zM165.6 58.0h0.9v0.9h-0.9zM169.7 59.6h0.9v0.9h-0.9zM157.2 56.4h0.9v0.9h-0.9zM159.9 70.6h0.9v0.9h-0.9zM161.2 58.8h0.9v0.9h-0.9zM169.9 59.8h0.9v0.9h-0.9zM164.8 63.8h0.9v0.9h-0.9zM174.4 69.3h0.9v0.9h-0.9zM159.0 58.1h0.9v0.9h-0.9zM163.9 70.3h0.9v0.9h-0.9zM149.6 57.1h0.9v0.9h-0.9zM155.9 53.3h0.9v0.9h-0.9zM165.5 64.3h0.9v0.9h-0.9zM165.1 57.9h0.9v0.9h-0.9zM164.0 60.8h0.9v0.9h-0.9zM153.8 71.5h0.9v0.9h-0.9zM162.7 72.6h0.9v0.9h-0.9zM160.5 56.6h0.9v0.9h-0.9zM156.4 70.3h0.9v0.9h-0.9zM154.4 58.0h0.9v0.9h-0.9zM163.5 64.9h0.9v0.9h-0.9zM178.0 68.9h0.9v0.9h-0.9zM157.1 58.2h0.9v0.9h-0.9zM164.4 61.5h0.9v0.9h-0.9zM155.2 50.7h0.9v0.9h-0.9zM165.4 71.5h0.9v0.9h-0.9zM167.7 52.1h0.9v0.9h-0.9zM158.5 49.2h0.9v0.9h-0.9zM153.6 65.1h0.9v0.9h-0.9zM165.2 51.8h0.9v0.9h-0.9zM160.2 64.3h0.9v0.9h-0.9zM160.4 52.9h0.9v0.9h-0.9zM151.9 47.2h0.9v0.9h-0.9zM169.1 69.0h0.9v0.9h-0.9zM170.1 57.6h0.9v0.9h-0.9zM165.9 67.3h0.9v0.9h-0.9zM164.3 68.3h0.9v0.9h-0.9zM167.4 68.3h0.9v0.9h-0.9zM165.4 64.1h0.9v0.9h-0.9zM165.8 99.7h0.9v0.9h-0.9zM168.7 71.5h0.9v0.9h-0.9zM167.2 82.7h0.9v0.9h-0.9zM164.8 67.2h0.9v0.9h-0.9zM163.8 75.2h0.9v0.9h-0.9zM166.7 95.2h0.9v0.9h-0.9zM164.7 84.4h0.9v0.9h-0.9zM166.3 88.4h0.9v0.9h-0.9zM165.2 86.5h0.9v0.9h-0.9zM165.4 94.3h0.9v0.9h-0.9zM166.9 86.5h0.9v0.9h-0.9zM168.4 63.1h0.9v0.9h-0.9zM165.9 64.8h0.9v0.9h-0.9zM165.8 75.3h0.9v0.9h-0.9zM165.8 64.4h0.9v0.9h-0.9zM167.4 86.7h0.9v0.9h-0.9zM164.5 93.4h0.9v0.9h-0.9zM166.7 68.0h0.9v0.9h-0.9zM166.6 66.2h0.9v0.9h-0.9zM167.6 66.9h0.9v0.9h-0.9zM166.7 89.6h0.9v0.9h-0.9zM164.9 88.2h0.9v0.9h-0.9zM168.1 80.4h0.9v0.9h-0.9zM170.0 77.3h0.9v0.9h-0.9zM166.6 98.3h0.9v0.9h-0.9zM166.2 100.0h0.9v0.9h-0.9zM165.6 89.7h0.9v0.9h-0.9zM168.7 83.7h0.9v0.9h-0.9zM166.4 73.3h0.9v0.9h-0.9zM163.4 92.0h0.9v0.9h-0.9zM166.0 85.8h0.9v0.9h-0.9zM168.3 90.0h0.9v0.9h-0.9zM163.9 96.2h0.9v0.9h-0.9zM165.5 76.3h0.9v0.9h-0.9zM165.5 97.6h0.9v0.9h-0.9zM164.9 65.5h0.9v0.9h-0.9zM181.5 95.0h0.9v0.9h-0.9zM133.4 93.3h0.9v0.9h-0.9zM176.4 82.2h0.9v0.9h-0.9zM148.1 96.1h0.9v0.9h-0.9zM144.5 80.7h0.9v0.9h-0.9zM189.8 76.2h0.9v0.9h-0.9zM176.0 97.2h0.9v0.9h-0.9zM163.6 79.5h0.9v0.9h-0.9zM155.7 87.4h0.9v0.9h-0.9zM194.3 89.7h0.9v0.9h-0.9zM161.9 83.3h0.9v0.9h-0.9zM143.6 75.1h0.9v0.9h-0.9zM175.2 88.6h0.9v0.9h-0.9zM133.1 87.4h0.9v0.9h-0.9zM188.9 84.7h0.9v0.9h-0.9zM170.6 100.0h0.9v0.9h-0.9zM173.1 80.6h0.9v0.9h-0.9zM133.0 84.8h0.9v0.9h-0.9zM147.2 79.3h0.9v0.9h-0.9zM175.8 97.9h0.9v0.9h-0.9zM159.6 89.0h0.9v0.9h-0.9zM180.7 94.4h0.9v0.9h-0.9zM179.8 97.1h0.9v0.9h-0.9zM183.4 100.1h0.9v0.9h-0.9zM180.5 74.3h0.9v0.9h-0.9zM180.0 76.0h0.9v0.9h-0.9zM181.7 79.0h0.9v0.9h-0.9zM182.0 95.6h0.9v0.9h-0.9zM165.9 44.6h0.9v0.9h-0.9zM166.4 58.8h0.9v0.9h-0.9zM139.8 50.8h0.9v0.9h-0.9zM196.6 42.3h0.9v0.9h-0.9zM148.9 84.2h0.9v0.9h-0.9zM144.5 98.8h0.9v0.9h-0.9zM189.3 73.1h0.9v0.9h-0.9zM195.3 56.4h0.9v0.9h-0.9zM188.3 89.4h0.9v0.9h-0.9zM156.6 58.2h0.9v0.9h-0.9zM147.9 96.2h0.9v0.9h-0.9z" fill="#bbb"/>
<path d="M157.5 69.3h0.9v0.9h-0.9zM170.0 59.9h0.9v0.9h-0.9zM159.9 48.4h0.9v0.9h-0.9zM157.5 60.6h0.9v0.9h-0.9zM171.1 68.5h0.9v0.9h-0.9zM148.9 56.8h0.9v0.9h-0.9zM162.1 62.3h0.9v0.9h-0.9zM176.8 67.7h0.9v0.9h-0.9zM168.7 72.8h0.9v0.9h-0.9zM165.7 64.8h0.9v0.9h-0.9zM168.0 68.8h0.9v0.9h-0.9zM167.8 59.9h0.9v0.9h-0.9zM161.9 65.1h0.9v0.9h-0.9zM162.3 63.6h0.9v0.9h-0.9zM157.9 62.8h0.9v0.9h-0.9zM157.6 63.6h0.9v0.9h-0.9zM163.5 64.7h0.9v0.9h-0.9zM161.2 75.8h0.9v0.9h-0.9zM169.7 60.1h0.9v0.9h-0.9zM154.6 56.5h0.9v0.9h-0.9zM168.9 50.4h0.9v0.9h-0.9zM153.5 66.4h0.9v0.9h-0.9zM159.8 60.8h0.9v0.9h-0.9zM160.1 52.8h0.9v0.9h-0.9zM158.4 64.0h0.9v0.9h-0.9zM165.1 70.7h0.9v0.9h-0.9zM163.9 58.9h0.9v0.9h-0.9zM164.9 52.6h0.9v0.9h-0.9zM155.8 65.8h0.9v0.9h-0.9zM155.0 56.6h0.9v0.9h-0.9zM149.0 58.0h0.9v0.9h-0.9zM171.7 68.3h0.9v0.9h-0.9zM155.0 62.6h0.9v0.9h-0.9zM158.5 66.7h0.9v0.9h-0.9zM160.6 65.2h0.9v0.9h-0.9zM156.4 57.0h0.9v0.9h-0.9zM167.9 65.1h0.9v0.9h-0.9zM150.0 60.8h0.9v0.9h-0.9zM164.4 58.4h0.9v0.9h-0.9zM157.5 56.0h0.9v0.9h-0.9zM164.1 58.5h0.9v0.9h-0.9zM161.0 66.7h0.9v0.9h-0.9zM160.7 75.0h0.9v0.9h-0.9zM161.3 58.7h0.9v0.9h-0.9zM167.4 74.2h0.9v0.9h-0.9zM161.8 63.2h0.9v0.9h-0.9zM151.6 52.7h0.9v0.9h-0.9zM151.0 57.3h0.9v0.9h-0.9zM153.5 52.8h0.9v0.9h-0.9zM158.3 56.9h0.9v0.9h-0.9zM164.9 56.0h0.9v0.9h-0.9zM168.7 60.9h0.9v0.9h-0.9zM171.1 70.6h0.9v0.9h-0.9zM160.2 63.5h0.9v0.9h-0.9zM168.3 52.4h0.9v0.9h-0.9zM156.6 54.6h0.9v0.9h-0.9zM157.9 60.5h0.9v0.9h-0.9zM155.4 47.2h0.9v0.9h-0.9zM170.0 64.3h0.9v0.9h-0.9zM165.6 62.6h0.9v0.9h-0.9zM156.2 47.7h0.9v0.9h-0.9zM169.7 71.2h0.9v0.9h-0.9zM174.2 69.1h0.9v0.9h-0.9zM164.4 58.1h0.9v0.9h-0.9zM165.8 87.3h0.9v0.9h-0.9zM166.9 76.8h0.9v0.9h-0.9zM167.5 72.1h0.9v0.9h-0.9zM164.1 86.7h0.9v0.9h-0.9zM166.8 100.0h0.9v0.9h-0.9zM166.6 89.3h0.9v0.9h-0.9zM166.9 64.3h0.9v0.9h-0.9zM167.0 79.4h0.9v0.9h-0.9zM165.4 70.5h0.9v0.9h-0.9zM166.6 81.7h0.9v0.9h-0.9zM165.1 82.0h0.9v0.9h-0.9zM165.5 85.0h0.9v0.9h-0.9zM166.1 89.4h0.9v0.9h-0.9zM167.2 89.3h0.9v0.9h-0.9zM166.1 68.4h0.9v0.9h-0.9zM166.6 92.3h0.9v0.9h-0.9zM162.3 97.6h0.9v0.9h-0.9zM167.6 90.6h0.9v0.9h-0.9zM167.1 67.2h0.9v0.9h-0.9zM164.2 63.7h0.9v0.9h-0.9zM165.2 74.6h0.9v0.9h-0.9zM166.5 97.3h0.9v0.9h-0.9zM167.1 76.9h0.9v0.9h-0.9zM166.3 89.0h0.9v0.9h-0.9zM168.4 64.4h0.9v0.9h-0.9zM166.5 70.9h0.9v0.9h-0.9zM166.3 93.3h0.9v0.9h-0.9zM165.7 62.7h0.9v0.9h-0.9zM163.7 66.0h0.9v0.9h-0.9zM165.5 91.7h0.9v0.9h-0.9zM167.0 67.8h0.9v0.9h-0.9zM164.0 62.3h0.9v0.9h-0.9zM165.2 78.1h0.9v0.9h-0.9zM167.1 96.6h0.9v0.9h-0.9zM166.0 87.3h0.9v0.9h-0.9zM148.1 81.7h0.9v0.9h-0.9zM136.0 75.2h0.9v0.9h-0.9zM177.7 86.7h0.9v0.9h-0.9zM155.9 94.2h0.9v0.9h-0.9zM150.6 85.0h0.9v0.9h-0.9zM182.7 80.8h0.9v0.9h-0.9zM136.3 80.8h0.9v0.9h-0.9zM147.6 79.4h0.9v0.9h-0.9zM193.4 87.2h0.9v0.9h-0.9zM147.2 88.2h0.9v0.9h-0.9zM194.9 94.6h0.9v0.9h-0.9zM192.0 79.7h0.9v0.9h-0.9zM187.4 80.2h0.9v0.9h-0.9zM142.4 97.0h0.9v0.9h-0.9zM148.8 87.0h0.9v0.9h-0.9zM135.0 99.3h0.9v0.9h-0.9zM139.3 81.3h0.9v0.9h-0.9zM181.0 77.3h0.9v0.9h-0.9zM181.4 92.0h0.9v0.9h-0.9zM178.7 97.9h0.9v0.9h-0.9zM180.2 93.8h0.9v0.9h-0.9zM181.9 76.7h0.9v0.9h-0.9zM183.5 95.9h0.9v0.9h-0.9zM180.4 70.1h0.9v0.9h-0.9zM183.2 70.6h0.9v0.9h-0.9zM182.6 82.9h0.9v0.9h-0.9zM180.4 71.7h0.9v0.9h-0.9zM181.7 91.6h0.9v0.9h-0.9zM180.5 94.9h0.9v0.9h-0.9zM182.2 91.9h0.9v0.9h-0.9zM182.6 92.5h0.9v0.9h-0.9zM182.3 78.1h0.9v0.9h-0.9zM193.9 93.4h0.9v0.9h-0.9zM162.4 47.8h0.9v0.9h-0.9zM176.3 49.4h0.9v0.9h-0.9zM173.0 41.5h0.9v0.9h-0.9zM137.2 60.9h0.9v0.9h-0.9zM138.6 39.2h0.9v0.9h-0.9zM142.5 70.2h0.9v0.9h-0.9zM187.3 45.8h0.9v0.9h-0.9zM160.0 57.2h0.9v0.9h-0.9zM191.2 95.2h0.9v0.9h-0.9zM172.1 94.8h0.9v0.9h-0.9z" fill="#444"/>
<path d="M167.3 49.6h0.9v0.9h-0.9zM158.6 53.6h0.9v0.9h-0.9zM164.7 61.7h0.9v0.9h-0.9zM161.1 63.2h0.9v0.9h-0.9zM157.8 55.4h0.9v0.9h-0.9zM162.2 55.5h0.9v0.9h-0.9zM163.4 55.4h0.9v0.9h-0.9zM167.2 62.6h0.9v0.9h-0.9zM165.9 63.0h0.9v0.9h-0.9zM150.2 64.5h0.9v0.9h-0.9zM163.0 65.9h0.9v0.9h-0.9zM162.6 48.0h0.9v0.9h-0.9zM161.3 66.7h0.9v0.9h-0.9zM165.9 76.5h0.9v0.9h-0.9zM165.2 58.7h0.9v0.9h-0.9zM161.8 58.9h0.9v0.9h-0.9zM166.8 72.4h0.9v0.9h-0.9zM168.9 72.8h0.9v0.9h-0.9zM157.9 65.7h0.9v0.9h-0.9zM161.9 61.5h0.9v0.9h-0.9zM159.5 61.9h0.9v0.9h-0.9zM159.0 63.2h0.9v0.9h-0.9zM157.5 51.9h0.9v0.9h-0.9zM144.9 41.4h0.9v0.9h-0.9zM163.4 71.2h0.9v0.9h-0.9zM152.3 58.7h0.9v0.9h-0.9zM168.2 74.8h0.9v0.9h-0.9zM165.1 54.0h0.9v0.9h-0.9zM166.3 64.1h0.9v0.9h-0.9zM161.5 55.1h0.9v0.9h-0.9zM154.6 63.4h0.9v0.9h-0.9zM161.3 62.9h0.9v0.9h-0.9zM155.5 61.2h0.9v0.9h-0.9zM165.9 65.7h0.9v0.9h-0.9zM164.7 63.7h0.9v0.9h-0.9zM167.7 56.2h0.9v0.9h-0.9zM155.7 57.8h0.9v0.9h-0.9zM170.3 54.8h0.9v0.9h-0.9zM163.1 63.4h0.9v0.9h-0.9zM155.2 59.8h0.9v0.9h-0.9zM169.0 66.3h0.9v0.9h-0.9zM158.0 49.8h0.9v0.9h-0.9zM165.9 45.5h0.9v0.9h-0.9zM161.2 61.6h0.9v0.9h-0.9zM158.7 64.9h0.9v0.9h-0.9zM164.9 59.5h0.9v0.9h-0.9zM156.3 58.2h0.9v0.9h-0.9zM164.6 68.6h0.9v0.9h-0.9zM163.3 75.5h0.9v0.9h-0.9zM168.9 64.9h0.9v0.9h-0.9zM153.1 50.3h0.9v0.9h-0.9zM161.9 58.3h0.9v0.9h-0.9zM162.7 70.6h0.9v0.9h-0.9zM160.2 61.7h0.9v0.9h-0.9zM162.8 72.6h0.9v0.9h-0.9zM160.9 56.7h0.9v0.9h-0.9zM160.5 63.4h0.9v0.9h-0.9zM153.8 74.3h0.9v0.9h-0.9zM154.9 59.0h0.9v0.9h-0.9zM162.6 51.0h0.9v0.9h-0.9zM172.0 62.6h0.9v0.9h-0.9zM166.3 58.2h0.9v0.9h-0.9zM156.8 54.0h0.9v0.9h-0.9zM166.7 62.4h0.9v0.9h-0.9zM151.8 68.0h0.9v0.9h-0.9zM168.9 59.0h0.9v0.9h-0.9zM165.8 77.3h0.9v0.9h-0.9zM166.0 91.1h0.9v0.9h-0.9zM167.2 96.2h0.9v0.9h-0.9zM166.1 74.2h0.9v0.9h-0.9zM166.6 98.8h0.9v0.9h-0.9zM167.2 69.7h0.9v0.9h-0.9zM165.1 86.6h0.9v0.9h-0.9zM166.0 72.1h0.9v0.9h-0.9zM166.3 94.2h0.9v0.9h-0.9zM166.4 98.7h0.9v0.9h-0.9zM168.7 94.7h0.9v0.9h-0.9zM167.3 91.4h0.9v0.9h-0.9zM165.7 72.7h0.9v0.9h-0.9zM164.5 64.6h0.9v0.9h-0.9zM164.3 72.6h0.9v0.9h-0.9zM165.0 64.8h0.9v0.9h-0.9zM167.7 92.9h0.9v0.9h-0.9zM168.6 82.9h0.9v0.9h-0.9zM166.3 88.6h0.9v0.9h-0.9zM165.3 69.6h0.9v0.9h-0.9zM166.8 90.7h0.9v0.9h-0.9zM166.5 83.9h0.9v0.9h-0.9zM164.2 70.0h0.9v0.9h-0.9zM168.8 90.2h0.9v0.9h-0.9zM167.3 63.7h0.9v0.9h-0.9zM166.1 68.8h0.9v0.9h-0.9zM166.6 98.9h0.9v0.9h-0.9zM163.9 62.5h0.9v0.9h-0.9zM167.3 80.1h0.9v0.9h-0.9zM166.8 86.7h0.9v0.9h-0.9zM167.1 68.3h0.9v0.9h-0.9zM167.6 97.7h0.9v0.9h-0.9zM166.2 94.0h0.9v0.9h-0.9zM166.1 91.1h0.9v0.9h-0.9zM165.7 78.7h0.9v0.9h-0.9zM166.8 89.0h0.9v0.9h-0.9zM166.5 85.4h0.9v0.9h-0.9zM164.5 90.6h0.9v0.9h-0.9zM164.9 63.2h0.9v0.9h-0.9zM165.1 78.8h0.9v0.9h-0.9zM166.2 75.6h0.9v0.9h-0.9zM167.0 87.5h0.9v0.9h-0.9zM166.3 97.9h0.9v0.9h-0.9zM165.1 92.2h0.9v0.9h-0.9zM164.7 94.2h0.9v0.9h-0.9zM145.5 81.8h0.9v0.9h-0.9zM171.1 92.4h0.9v0.9h-0.9zM196.5 93.2h0.9v0.9h-0.9zM143.4 77.5h0.9v0.9h-0.9zM166.5 77.8h0.9v0.9h-0.9zM160.9 77.9h0.9v0.9h-0.9zM137.8 78.0h0.9v0.9h-0.9zM139.4 76.6h0.9v0.9h-0.9zM189.4 80.5h0.9v0.9h-0.9zM195.6 82.0h0.9v0.9h-0.9zM138.5 75.3h0.9v0.9h-0.9zM150.9 82.5h0.9v0.9h-0.9zM188.4 96.4h0.9v0.9h-0.9zM175.6 90.5h0.9v0.9h-0.9zM185.2 98.9h0.9v0.9h-0.9zM180.3 90.8h0.9v0.9h-0.9zM182.7 91.0h0.9v0.9h-0.9zM181.9 78.2h0.9v0.9h-0.9zM182.7 99.2h0.9v0.9h-0.9zM180.1 83.6h0.9v0.9h-0.9zM179.2 93.8h0.9v0.9h-0.9zM180.2 91.9h0.9v0.9h-0.9zM180.0 100.0h0.9v0.9h-0.9zM182.2 70.1h0.9v0.9h-0.9zM180.6 79.9h0.9v0.9h-0.9zM182.6 75.9h0.9v0.9h-0.9zM179.3 72.9h0.9v0.9h-0.9zM180.8 89.7h0.9v0.9h-0.9zM183.2 76.9h0.9v0.9h-0.9zM179.9 98.0h0.9v0.9h-0.9zM178.3 79.6h0.9v0.9h-0.9zM139.5 68.5h0.9v0.9h-0.9zM136.2 60.5h0.9v0.9h-0.9zM172.0 53.9h0.9v0.9h-0.9zM159.0 77.2h0.9v0.9h-0.9z" fill="#ccc"/>
<path d="M168.30 101.30C167.03 99.67 167.63 94.88 167.40 92.00C167.17 89.12 167.00 86.50 166.90 84.00C166.80 81.50 166.72 79.42 166.80 77.00C166.88 74.58 167.07 71.67 167.40 69.50C167.73 67.33 168.23 65.37 168.80 64.00C169.37 62.63 170.07 61.67 170.80 61.30C171.53 60.93 172.40 61.27 173.20 61.80C174.00 62.33 174.83 63.22 175.60 64.50C176.37 65.78 177.17 67.42 177.80 69.50C178.43 71.58 178.98 74.42 179.40 77.00C179.82 79.58 180.05 82.33 180.30 85.00C180.55 87.67 180.75 90.28 180.90 93.00C181.05 95.72 182.18 99.83 181.20 101.30C180.22 102.77 177.15 101.80 175.00 101.80C172.85 101.80 169.57 102.93 168.30 101.30Z" fill="#e6e6e6" stroke="#111" stroke-width="1.2"/>
<path d="M169.48 101.26C168.47 99.85 168.95 95.74 168.76 93.26C168.57 90.78 168.44 88.53 168.36 86.38C168.28 84.23 168.21 82.44 168.28 80.36C168.35 78.28 168.49 75.77 168.76 73.91C169.03 72.05 169.43 70.36 169.88 69.18C170.33 68.00 170.89 67.17 171.48 66.86C172.07 66.54 172.76 66.83 173.40 67.29C174.04 67.75 174.71 68.51 175.32 69.61C175.93 70.71 176.57 72.12 177.08 73.91C177.59 75.70 178.03 78.14 178.36 80.36C178.69 82.58 178.88 84.95 179.08 87.24C179.28 89.53 179.44 91.78 179.56 94.12C179.68 96.46 180.59 100.00 179.80 101.26C179.01 102.52 176.56 101.69 174.84 101.69C173.12 101.69 170.49 102.66 169.48 101.26Z" fill="#d6d6d6" stroke="#555" stroke-width="0.5"/>
<path d="M170.42 101.22C169.61 100.04 170.00 96.60 169.85 94.52C169.70 92.44 169.59 90.56 169.53 88.76C169.46 86.96 169.41 85.46 169.46 83.72C169.52 81.98 169.63 79.88 169.85 78.32C170.06 76.76 170.38 75.34 170.74 74.36C171.11 73.38 171.55 72.68 172.02 72.42C172.49 72.15 173.05 72.39 173.56 72.78C174.07 73.16 174.61 73.80 175.10 74.72C175.59 75.64 176.10 76.82 176.50 78.32C176.91 79.82 177.26 81.86 177.53 83.72C177.79 85.58 177.94 87.56 178.10 89.48C178.26 91.40 178.39 93.28 178.49 95.24C178.58 97.20 179.31 100.16 178.68 101.22C178.05 102.27 176.09 101.58 174.71 101.58C173.34 101.58 171.23 102.39 170.42 101.22Z" fill="#c4c4c4" stroke="#555" stroke-width="0.5"/>
<path d="M171.25 101.17C170.62 100.23 170.92 97.45 170.80 95.78C170.68 94.11 170.60 92.59 170.55 91.14C170.50 89.69 170.46 88.48 170.50 87.08C170.54 85.68 170.63 83.99 170.80 82.73C170.97 81.47 171.22 80.33 171.50 79.54C171.78 78.75 172.13 78.19 172.50 77.97C172.87 77.76 173.30 77.95 173.70 78.26C174.10 78.57 174.52 79.09 174.90 79.83C175.28 80.57 175.68 81.52 176.00 82.73C176.32 83.94 176.59 85.58 176.80 87.08C177.01 88.58 177.12 90.17 177.25 91.72C177.38 93.27 177.48 94.78 177.55 96.36C177.62 97.94 178.19 100.32 177.70 101.17C177.21 102.02 175.67 101.46 174.60 101.46C173.53 101.46 171.88 102.12 171.25 101.17Z" fill="#aaaaaa" stroke="#444" stroke-width="0.5"/>
<path d="M170.6 101.3 C170.6 95 171 89 174.2 86.5 C177.4 89 177.8 95 178 101.3 Z" fill="#6a6a6a" stroke="#333" stroke-width="0.6"/>
<ellipse cx="172.6" cy="94" rx="1.3" ry="4.3" fill="#111"/>
<ellipse cx="176.6" cy="94" rx="1.2" ry="4" fill="#1a1a1a"/>
<ellipse cx="174.6" cy="95" rx="0.7" ry="4" fill="#aaa"/>
<path d="M249.9 98.2h0.9v0.9h-0.9zM240.8 82.4h0.9v0.9h-0.9zM229.2 91.9h0.9v0.9h-0.9zM231.2 89.8h0.9v0.9h-0.9zM249.1 94.4h0.9v0.9h-0.9zM240.3 96.1h0.9v0.9h-0.9zM249.8 81.0h0.9v0.9h-0.9zM240.1 96.8h0.9v0.9h-0.9zM234.2 86.7h0.9v0.9h-0.9zM234.1 98.3h0.9v0.9h-0.9zM233.6 90.0h0.9v0.9h-0.9zM248.4 84.2h0.9v0.9h-0.9zM245.0 80.7h0.9v0.9h-0.9zM242.2 94.3h0.9v0.9h-0.9zM235.5 97.1h0.9v0.9h-0.9zM246.5 97.0h0.9v0.9h-0.9zM231.0 90.2h0.9v0.9h-0.9zM228.9 93.8h0.9v0.9h-0.9zM243.8 98.9h0.9v0.9h-0.9zM250.0 93.3h0.9v0.9h-0.9zM235.5 93.2h0.9v0.9h-0.9zM248.6 99.5h0.9v0.9h-0.9zM240.8 94.5h0.9v0.9h-0.9zM230.4 81.2h0.9v0.9h-0.9zM231.5 86.8h0.9v0.9h-0.9zM234.5 78.1h0.9v0.9h-0.9zM232.8 86.7h0.9v0.9h-0.9zM244.5 98.0h0.9v0.9h-0.9zM239.2 98.0h0.9v0.9h-0.9zM244.4 94.3h0.9v0.9h-0.9zM234.3 77.4h0.9v0.9h-0.9zM235.4 96.2h0.9v0.9h-0.9zM229.9 94.9h0.9v0.9h-0.9zM245.1 96.9h0.9v0.9h-0.9zM238.6 83.9h0.9v0.9h-0.9zM229.5 93.5h0.9v0.9h-0.9zM250.6 78.7h0.9v0.9h-0.9zM249.6 81.1h0.9v0.9h-0.9zM245.2 80.7h0.9v0.9h-0.9zM235.7 90.1h0.9v0.9h-0.9zM243.4 96.6h0.9v0.9h-0.9zM237.9 86.0h0.9v0.9h-0.9zM248.1 99.3h0.9v0.9h-0.9zM235.1 96.0h0.9v0.9h-0.9zM241.6 95.8h0.9v0.9h-0.9zM233.4 87.5h0.9v0.9h-0.9zM249.8 76.2h0.9v0.9h-0.9zM235.4 88.3h0.9v0.9h-0.9zM251.5 94.2h0.9v0.9h-0.9zM235.1 78.5h0.9v0.9h-0.9zM234.4 80.7h0.9v0.9h-0.9zM231.9 82.0h0.9v0.9h-0.9zM237.3 82.6h0.9v0.9h-0.9zM238.7 81.8h0.9v0.9h-0.9zM243.7 77.8h0.9v0.9h-0.9zM237.7 76.5h0.9v0.9h-0.9zM236.4 92.0h0.9v0.9h-0.9zM241.0 78.8h0.9v0.9h-0.9zM223.5 84.1h0.9v0.9h-0.9zM250.9 97.8h0.9v0.9h-0.9zM230.3 90.4h0.9v0.9h-0.9zM233.8 96.5h0.9v0.9h-0.9zM235.0 96.6h0.9v0.9h-0.9zM235.4 87.8h0.9v0.9h-0.9zM232.2 92.9h0.9v0.9h-0.9zM245.9 63.6h0.9v0.9h-0.9zM254.8 50.1h0.9v0.9h-0.9zM252.8 73.0h0.9v0.9h-0.9zM250.4 75.5h0.9v0.9h-0.9zM254.0 61.4h0.9v0.9h-0.9zM253.9 65.7h0.9v0.9h-0.9zM254.9 59.7h0.9v0.9h-0.9zM250.0 65.6h0.9v0.9h-0.9zM246.4 59.2h0.9v0.9h-0.9zM253.2 56.1h0.9v0.9h-0.9zM248.4 62.2h0.9v0.9h-0.9zM245.2 63.9h0.9v0.9h-0.9zM248.3 71.5h0.9v0.9h-0.9zM249.7 49.4h0.9v0.9h-0.9zM254.3 49.6h0.9v0.9h-0.9zM249.9 49.0h0.9v0.9h-0.9zM249.7 58.6h0.9v0.9h-0.9zM258.8 59.5h0.9v0.9h-0.9zM253.3 79.3h0.9v0.9h-0.9zM242.7 88.6h0.9v0.9h-0.9zM222.8 81.1h0.9v0.9h-0.9zM226.1 55.1h0.9v0.9h-0.9zM258.3 88.6h0.9v0.9h-0.9zM235.9 65.0h0.9v0.9h-0.9zM271.7 39.0h0.9v0.9h-0.9zM220.4 63.8h0.9v0.9h-0.9zM242.5 47.1h0.9v0.9h-0.9zM241.4 67.7h0.9v0.9h-0.9zM221.2 56.3h0.9v0.9h-0.9zM252.3 75.6h0.9v0.9h-0.9zM248.7 67.8h0.9v0.9h-0.9zM238.8 49.7h0.9v0.9h-0.9zM263.1 85.5h0.9v0.9h-0.9zM275.7 78.9h0.9v0.9h-0.9zM241.4 42.8h0.9v0.9h-0.9zM261.6 59.4h0.9v0.9h-0.9zM237.6 68.0h0.9v0.9h-0.9zM226.6 77.0h0.9v0.9h-0.9z" fill="#999"/>
<path d="M235.7 97.2h0.9v0.9h-0.9zM240.6 97.6h0.9v0.9h-0.9zM233.2 91.8h0.9v0.9h-0.9zM250.1 96.8h0.9v0.9h-0.9zM246.5 95.7h0.9v0.9h-0.9zM230.7 91.2h0.9v0.9h-0.9zM242.1 97.4h0.9v0.9h-0.9zM231.8 91.0h0.9v0.9h-0.9zM227.9 92.3h0.9v0.9h-0.9zM238.0 100.1h0.9v0.9h-0.9zM228.4 83.6h0.9v0.9h-0.9zM227.4 91.5h0.9v0.9h-0.9zM245.8 78.9h0.9v0.9h-0.9zM243.0 79.7h0.9v0.9h-0.9zM233.1 95.2h0.9v0.9h-0.9zM234.4 91.3h0.9v0.9h-0.9zM254.0 99.4h0.9v0.9h-0.9zM240.6 98.5h0.9v0.9h-0.9zM231.7 89.6h0.9v0.9h-0.9zM239.2 78.6h0.9v0.9h-0.9zM241.4 91.3h0.9v0.9h-0.9zM249.7 77.8h0.9v0.9h-0.9zM251.9 95.2h0.9v0.9h-0.9zM234.9 83.3h0.9v0.9h-0.9zM235.4 84.5h0.9v0.9h-0.9zM235.4 95.9h0.9v0.9h-0.9zM253.4 78.2h0.9v0.9h-0.9zM238.3 80.2h0.9v0.9h-0.9zM242.1 99.8h0.9v0.9h-0.9zM231.0 86.0h0.9v0.9h-0.9zM249.9 83.2h0.9v0.9h-0.9zM253.6 95.6h0.9v0.9h-0.9zM232.7 94.3h0.9v0.9h-0.9zM248.0 94.6h0.9v0.9h-0.9zM236.9 84.5h0.9v0.9h-0.9zM249.0 81.2h0.9v0.9h-0.9zM243.1 80.9h0.9v0.9h-0.9zM235.2 84.8h0.9v0.9h-0.9zM252.4 78.5h0.9v0.9h-0.9zM248.7 97.9h0.9v0.9h-0.9zM241.3 76.7h0.9v0.9h-0.9zM235.5 99.2h0.9v0.9h-0.9zM234.3 96.9h0.9v0.9h-0.9zM231.6 82.9h0.9v0.9h-0.9zM242.1 99.3h0.9v0.9h-0.9zM229.4 91.6h0.9v0.9h-0.9zM246.5 81.0h0.9v0.9h-0.9zM226.7 92.4h0.9v0.9h-0.9zM234.8 99.3h0.9v0.9h-0.9zM244.0 77.1h0.9v0.9h-0.9zM246.8 75.9h0.9v0.9h-0.9zM239.7 97.6h0.9v0.9h-0.9zM245.9 76.6h0.9v0.9h-0.9zM226.9 91.2h0.9v0.9h-0.9zM236.7 94.0h0.9v0.9h-0.9zM238.9 80.2h0.9v0.9h-0.9zM241.5 99.7h0.9v0.9h-0.9zM231.2 82.1h0.9v0.9h-0.9zM232.0 92.9h0.9v0.9h-0.9zM250.7 96.7h0.9v0.9h-0.9zM240.8 78.7h0.9v0.9h-0.9zM250.4 76.9h0.9v0.9h-0.9zM225.1 92.1h0.9v0.9h-0.9zM231.4 94.0h0.9v0.9h-0.9zM235.1 88.0h0.9v0.9h-0.9zM243.0 98.9h0.9v0.9h-0.9zM232.5 80.9h0.9v0.9h-0.9zM228.2 93.7h0.9v0.9h-0.9zM233.6 85.6h0.9v0.9h-0.9zM236.8 93.3h0.9v0.9h-0.9zM237.3 99.5h0.9v0.9h-0.9zM226.4 85.7h0.9v0.9h-0.9zM246.3 58.9h0.9v0.9h-0.9zM252.5 63.6h0.9v0.9h-0.9zM246.0 64.8h0.9v0.9h-0.9zM252.7 52.0h0.9v0.9h-0.9zM245.8 63.4h0.9v0.9h-0.9zM249.9 74.5h0.9v0.9h-0.9zM247.8 59.3h0.9v0.9h-0.9zM251.4 71.6h0.9v0.9h-0.9zM252.9 52.1h0.9v0.9h-0.9zM247.3 53.4h0.9v0.9h-0.9zM249.3 60.0h0.9v0.9h-0.9zM248.6 51.2h0.9v0.9h-0.9zM243.9 53.9h0.9v0.9h-0.9zM251.0 48.9h0.9v0.9h-0.9zM253.8 72.0h0.9v0.9h-0.9zM254.3 61.9h0.9v0.9h-0.9zM252.9 60.1h0.9v0.9h-0.9zM249.1 72.9h0.9v0.9h-0.9zM251.6 76.9h0.9v0.9h-0.9zM253.6 72.4h0.9v0.9h-0.9zM251.9 78.2h0.9v0.9h-0.9zM251.5 64.7h0.9v0.9h-0.9zM251.2 66.4h0.9v0.9h-0.9zM249.6 78.4h0.9v0.9h-0.9zM253.0 77.1h0.9v0.9h-0.9zM253.0 79.1h0.9v0.9h-0.9zM252.7 77.1h0.9v0.9h-0.9zM250.0 67.9h0.9v0.9h-0.9zM255.0 77.4h0.9v0.9h-0.9zM252.8 70.3h0.9v0.9h-0.9zM229.9 94.8h0.9v0.9h-0.9zM224.8 63.9h0.9v0.9h-0.9zM247.7 88.7h0.9v0.9h-0.9zM254.0 59.5h0.9v0.9h-0.9zM262.5 96.2h0.9v0.9h-0.9zM216.1 97.8h0.9v0.9h-0.9zM271.6 87.9h0.9v0.9h-0.9zM247.0 47.3h0.9v0.9h-0.9zM268.9 99.2h0.9v0.9h-0.9zM271.6 93.1h0.9v0.9h-0.9zM233.3 42.2h0.9v0.9h-0.9zM247.0 78.9h0.9v0.9h-0.9zM232.7 94.9h0.9v0.9h-0.9zM240.1 39.7h0.9v0.9h-0.9zM262.9 58.8h0.9v0.9h-0.9zM270.6 61.5h0.9v0.9h-0.9zM244.1 45.2h0.9v0.9h-0.9zM216.9 54.9h0.9v0.9h-0.9zM241.6 76.9h0.9v0.9h-0.9z" fill="#666"/>
<path d="M236.7 76.1h0.9v0.9h-0.9zM237.4 80.2h0.9v0.9h-0.9zM232.9 94.0h0.9v0.9h-0.9zM230.2 92.4h0.9v0.9h-0.9zM247.7 96.3h0.9v0.9h-0.9zM247.2 82.3h0.9v0.9h-0.9zM250.9 82.5h0.9v0.9h-0.9zM249.0 97.1h0.9v0.9h-0.9zM243.1 77.8h0.9v0.9h-0.9zM230.3 92.9h0.9v0.9h-0.9zM246.4 97.8h0.9v0.9h-0.9zM244.2 98.4h0.9v0.9h-0.9zM245.5 84.9h0.9v0.9h-0.9zM239.8 77.4h0.9v0.9h-0.9zM236.0 78.8h0.9v0.9h-0.9zM249.5 83.7h0.9v0.9h-0.9zM248.8 93.3h0.9v0.9h-0.9zM251.4 96.9h0.9v0.9h-0.9zM235.9 91.9h0.9v0.9h-0.9zM232.4 86.9h0.9v0.9h-0.9zM232.8 79.7h0.9v0.9h-0.9zM235.6 78.1h0.9v0.9h-0.9zM246.8 95.1h0.9v0.9h-0.9zM242.9 76.7h0.9v0.9h-0.9zM229.4 95.9h0.9v0.9h-0.9zM247.2 78.6h0.9v0.9h-0.9zM229.9 97.7h0.9v0.9h-0.9zM230.8 89.7h0.9v0.9h-0.9zM252.0 79.6h0.9v0.9h-0.9zM237.8 98.6h0.9v0.9h-0.9zM250.0 96.4h0.9v0.9h-0.9zM254.7 80.6h0.9v0.9h-0.9zM240.1 79.4h0.9v0.9h-0.9zM235.1 79.7h0.9v0.9h-0.9zM231.5 85.6h0.9v0.9h-0.9zM236.4 83.9h0.9v0.9h-0.9zM237.7 86.7h0.9v0.9h-0.9zM249.2 79.0h0.9v0.9h-0.9zM228.0 87.0h0.9v0.9h-0.9zM228.4 86.4h0.9v0.9h-0.9zM234.6 79.5h0.9v0.9h-0.9zM232.7 92.2h0.9v0.9h-0.9zM241.8 77.9h0.9v0.9h-0.9zM245.3 80.1h0.9v0.9h-0.9zM247.2 80.7h0.9v0.9h-0.9zM242.3 96.6h0.9v0.9h-0.9zM227.9 82.6h0.9v0.9h-0.9zM241.0 96.8h0.9v0.9h-0.9zM234.4 96.6h0.9v0.9h-0.9zM248.9 82.0h0.9v0.9h-0.9zM233.8 85.1h0.9v0.9h-0.9zM229.9 91.3h0.9v0.9h-0.9zM229.8 83.9h0.9v0.9h-0.9zM241.8 80.8h0.9v0.9h-0.9zM243.0 97.4h0.9v0.9h-0.9zM235.5 79.7h0.9v0.9h-0.9zM223.0 89.5h0.9v0.9h-0.9zM225.5 92.6h0.9v0.9h-0.9zM241.5 77.7h0.9v0.9h-0.9zM238.6 81.0h0.9v0.9h-0.9zM240.0 98.4h0.9v0.9h-0.9zM229.7 87.6h0.9v0.9h-0.9zM249.6 98.3h0.9v0.9h-0.9zM241.7 94.4h0.9v0.9h-0.9zM246.3 98.4h0.9v0.9h-0.9zM236.4 89.9h0.9v0.9h-0.9zM229.4 88.3h0.9v0.9h-0.9zM248.4 84.0h0.9v0.9h-0.9zM231.1 88.1h0.9v0.9h-0.9zM226.8 90.5h0.9v0.9h-0.9zM238.0 96.6h0.9v0.9h-0.9zM236.5 82.6h0.9v0.9h-0.9zM248.2 81.4h0.9v0.9h-0.9zM252.3 79.4h0.9v0.9h-0.9zM249.2 49.0h0.9v0.9h-0.9zM251.5 63.3h0.9v0.9h-0.9zM256.7 62.8h0.9v0.9h-0.9zM248.5 56.1h0.9v0.9h-0.9zM249.8 60.9h0.9v0.9h-0.9zM248.6 60.6h0.9v0.9h-0.9zM246.7 53.9h0.9v0.9h-0.9zM247.3 68.4h0.9v0.9h-0.9zM245.1 50.4h0.9v0.9h-0.9zM251.7 59.5h0.9v0.9h-0.9zM249.1 70.1h0.9v0.9h-0.9zM245.6 50.8h0.9v0.9h-0.9zM254.1 62.8h0.9v0.9h-0.9zM248.6 68.5h0.9v0.9h-0.9zM253.0 62.1h0.9v0.9h-0.9zM248.8 68.3h0.9v0.9h-0.9zM253.7 72.9h0.9v0.9h-0.9zM253.0 69.2h0.9v0.9h-0.9zM254.0 73.9h0.9v0.9h-0.9zM252.6 75.2h0.9v0.9h-0.9zM249.6 75.9h0.9v0.9h-0.9zM252.9 77.2h0.9v0.9h-0.9zM253.4 76.3h0.9v0.9h-0.9zM253.2 75.4h0.9v0.9h-0.9zM252.6 71.8h0.9v0.9h-0.9zM263.2 67.2h0.9v0.9h-0.9zM221.2 46.9h0.9v0.9h-0.9zM222.3 79.9h0.9v0.9h-0.9zM213.9 93.1h0.9v0.9h-0.9zM249.0 64.2h0.9v0.9h-0.9zM273.8 61.4h0.9v0.9h-0.9zM254.7 42.3h0.9v0.9h-0.9zM239.3 48.0h0.9v0.9h-0.9zM252.2 63.7h0.9v0.9h-0.9zM218.5 42.5h0.9v0.9h-0.9zM218.2 60.8h0.9v0.9h-0.9zM268.6 53.8h0.9v0.9h-0.9zM271.3 86.5h0.9v0.9h-0.9zM229.6 68.1h0.9v0.9h-0.9zM266.4 52.9h0.9v0.9h-0.9zM259.6 80.3h0.9v0.9h-0.9zM218.8 77.2h0.9v0.9h-0.9zM226.2 59.4h0.9v0.9h-0.9zM257.2 80.5h0.9v0.9h-0.9zM234.7 60.4h0.9v0.9h-0.9zM232.6 39.8h0.9v0.9h-0.9zM227.0 67.9h0.9v0.9h-0.9zM222.8 69.9h0.9v0.9h-0.9zM264.0 98.0h0.9v0.9h-0.9zM251.2 49.3h0.9v0.9h-0.9z" fill="#444"/>
<path d="M249.1 79.8h0.9v0.9h-0.9zM230.4 97.4h0.9v0.9h-0.9zM250.5 83.1h0.9v0.9h-0.9zM241.4 83.3h0.9v0.9h-0.9zM229.6 87.5h0.9v0.9h-0.9zM237.7 99.7h0.9v0.9h-0.9zM245.7 94.3h0.9v0.9h-0.9zM238.7 96.3h0.9v0.9h-0.9zM230.4 82.1h0.9v0.9h-0.9zM229.8 84.2h0.9v0.9h-0.9zM241.4 83.0h0.9v0.9h-0.9zM238.5 95.5h0.9v0.9h-0.9zM241.0 97.4h0.9v0.9h-0.9zM228.4 85.4h0.9v0.9h-0.9zM250.8 95.5h0.9v0.9h-0.9zM245.0 96.4h0.9v0.9h-0.9zM236.4 80.8h0.9v0.9h-0.9zM233.6 81.0h0.9v0.9h-0.9zM254.0 80.6h0.9v0.9h-0.9zM232.5 85.5h0.9v0.9h-0.9zM247.0 96.5h0.9v0.9h-0.9zM249.3 93.3h0.9v0.9h-0.9zM242.7 98.6h0.9v0.9h-0.9zM250.4 79.5h0.9v0.9h-0.9zM231.5 77.4h0.9v0.9h-0.9zM228.0 82.7h0.9v0.9h-0.9zM229.9 87.1h0.9v0.9h-0.9zM247.2 92.9h0.9v0.9h-0.9zM249.5 97.1h0.9v0.9h-0.9zM231.3 88.4h0.9v0.9h-0.9zM236.4 78.8h0.9v0.9h-0.9zM234.4 97.2h0.9v0.9h-0.9zM249.5 98.5h0.9v0.9h-0.9zM254.6 97.8h0.9v0.9h-0.9zM246.5 84.9h0.9v0.9h-0.9zM234.8 87.0h0.9v0.9h-0.9zM253.8 95.8h0.9v0.9h-0.9zM241.2 93.2h0.9v0.9h-0.9zM229.1 89.2h0.9v0.9h-0.9zM248.8 77.2h0.9v0.9h-0.9zM237.7 96.5h0.9v0.9h-0.9zM235.9 87.2h0.9v0.9h-0.9zM242.8 96.8h0.9v0.9h-0.9zM227.0 91.7h0.9v0.9h-0.9zM246.2 95.3h0.9v0.9h-0.9zM229.6 83.8h0.9v0.9h-0.9zM233.7 94.5h0.9v0.9h-0.9zM240.7 75.2h0.9v0.9h-0.9zM240.8 97.6h0.9v0.9h-0.9zM237.9 99.0h0.9v0.9h-0.9zM239.1 81.1h0.9v0.9h-0.9zM232.8 94.9h0.9v0.9h-0.9zM240.5 95.0h0.9v0.9h-0.9zM242.5 79.0h0.9v0.9h-0.9zM250.9 83.1h0.9v0.9h-0.9zM247.9 78.1h0.9v0.9h-0.9zM227.5 89.2h0.9v0.9h-0.9zM228.3 95.4h0.9v0.9h-0.9zM233.4 92.5h0.9v0.9h-0.9zM232.9 84.6h0.9v0.9h-0.9zM227.5 88.2h0.9v0.9h-0.9zM228.6 84.8h0.9v0.9h-0.9zM237.5 84.2h0.9v0.9h-0.9zM246.5 95.2h0.9v0.9h-0.9zM232.5 94.0h0.9v0.9h-0.9zM236.2 94.8h0.9v0.9h-0.9zM244.3 94.6h0.9v0.9h-0.9zM254.5 97.0h0.9v0.9h-0.9zM234.1 83.4h0.9v0.9h-0.9zM235.0 82.7h0.9v0.9h-0.9zM228.0 85.2h0.9v0.9h-0.9zM233.6 82.2h0.9v0.9h-0.9zM247.9 52.9h0.9v0.9h-0.9zM256.8 75.2h0.9v0.9h-0.9zM251.9 73.7h0.9v0.9h-0.9zM250.8 74.6h0.9v0.9h-0.9zM250.3 60.3h0.9v0.9h-0.9zM254.4 48.9h0.9v0.9h-0.9zM244.2 64.4h0.9v0.9h-0.9zM253.0 57.7h0.9v0.9h-0.9zM259.2 70.0h0.9v0.9h-0.9zM252.5 68.8h0.9v0.9h-0.9zM250.2 74.4h0.9v0.9h-0.9zM247.2 68.8h0.9v0.9h-0.9zM249.6 70.8h0.9v0.9h-0.9zM246.9 75.6h0.9v0.9h-0.9zM245.5 65.6h0.9v0.9h-0.9zM253.3 62.9h0.9v0.9h-0.9zM250.2 69.7h0.9v0.9h-0.9zM254.2 74.8h0.9v0.9h-0.9zM251.9 79.6h0.9v0.9h-0.9zM251.4 76.5h0.9v0.9h-0.9zM251.5 76.7h0.9v0.9h-0.9zM253.3 78.0h0.9v0.9h-0.9zM251.7 71.5h0.9v0.9h-0.9zM253.3 78.8h0.9v0.9h-0.9zM269.0 42.6h0.9v0.9h-0.9zM253.3 46.8h0.9v0.9h-0.9zM224.6 48.4h0.9v0.9h-0.9zM259.8 77.5h0.9v0.9h-0.9zM235.6 77.5h0.9v0.9h-0.9zM223.0 62.0h0.9v0.9h-0.9zM254.4 46.1h0.9v0.9h-0.9zM228.7 76.6h0.9v0.9h-0.9zM267.4 38.3h0.9v0.9h-0.9zM267.3 85.7h0.9v0.9h-0.9zM228.4 88.8h0.9v0.9h-0.9zM254.3 55.9h0.9v0.9h-0.9z" fill="#bbb"/>
<path d="M251.8 82.0h0.9v0.9h-0.9zM241.3 97.6h0.9v0.9h-0.9zM243.0 98.9h0.9v0.9h-0.9zM230.4 87.9h0.9v0.9h-0.9zM247.4 82.3h0.9v0.9h-0.9zM237.6 79.0h0.9v0.9h-0.9zM238.7 99.6h0.9v0.9h-0.9zM232.6 93.2h0.9v0.9h-0.9zM248.6 95.6h0.9v0.9h-0.9zM248.6 95.9h0.9v0.9h-0.9zM242.4 99.7h0.9v0.9h-0.9zM235.6 95.6h0.9v0.9h-0.9zM243.4 81.0h0.9v0.9h-0.9zM244.9 95.4h0.9v0.9h-0.9zM237.1 98.6h0.9v0.9h-0.9zM247.9 98.6h0.9v0.9h-0.9zM231.6 81.9h0.9v0.9h-0.9zM227.8 92.7h0.9v0.9h-0.9zM225.5 87.9h0.9v0.9h-0.9zM242.1 97.7h0.9v0.9h-0.9zM235.3 94.8h0.9v0.9h-0.9zM229.0 87.7h0.9v0.9h-0.9zM238.3 98.3h0.9v0.9h-0.9zM230.6 89.8h0.9v0.9h-0.9zM245.1 80.7h0.9v0.9h-0.9zM227.6 81.4h0.9v0.9h-0.9zM235.5 79.3h0.9v0.9h-0.9zM247.5 99.8h0.9v0.9h-0.9zM239.6 98.3h0.9v0.9h-0.9zM230.3 94.6h0.9v0.9h-0.9zM237.2 93.2h0.9v0.9h-0.9zM246.3 99.0h0.9v0.9h-0.9zM232.3 88.1h0.9v0.9h-0.9zM239.7 95.4h0.9v0.9h-0.9zM233.0 80.8h0.9v0.9h-0.9zM245.5 81.5h0.9v0.9h-0.9zM241.0 81.2h0.9v0.9h-0.9zM249.2 78.1h0.9v0.9h-0.9zM226.6 93.0h0.9v0.9h-0.9zM233.2 82.1h0.9v0.9h-0.9zM235.7 97.5h0.9v0.9h-0.9zM236.8 82.2h0.9v0.9h-0.9zM250.2 82.2h0.9v0.9h-0.9zM233.6 82.9h0.9v0.9h-0.9zM243.0 92.0h0.9v0.9h-0.9zM246.3 92.8h0.9v0.9h-0.9zM227.6 89.0h0.9v0.9h-0.9zM227.1 86.6h0.9v0.9h-0.9zM254.9 76.3h0.9v0.9h-0.9zM245.5 95.7h0.9v0.9h-0.9zM236.0 90.2h0.9v0.9h-0.9zM251.8 94.7h0.9v0.9h-0.9zM235.7 90.2h0.9v0.9h-0.9zM232.7 85.3h0.9v0.9h-0.9zM233.5 82.5h0.9v0.9h-0.9zM231.6 83.5h0.9v0.9h-0.9zM231.4 82.0h0.9v0.9h-0.9zM234.4 85.2h0.9v0.9h-0.9zM247.9 95.3h0.9v0.9h-0.9zM222.9 92.7h0.9v0.9h-0.9zM235.8 95.4h0.9v0.9h-0.9zM239.7 100.0h0.9v0.9h-0.9zM236.2 96.2h0.9v0.9h-0.9zM232.8 84.9h0.9v0.9h-0.9zM231.0 84.1h0.9v0.9h-0.9zM251.7 78.8h0.9v0.9h-0.9zM232.2 81.7h0.9v0.9h-0.9zM251.9 51.9h0.9v0.9h-0.9zM251.3 69.9h0.9v0.9h-0.9zM248.0 54.0h0.9v0.9h-0.9zM246.8 52.5h0.9v0.9h-0.9zM255.7 66.6h0.9v0.9h-0.9zM249.0 62.0h0.9v0.9h-0.9zM252.7 62.7h0.9v0.9h-0.9zM250.9 73.8h0.9v0.9h-0.9zM248.2 57.3h0.9v0.9h-0.9zM253.6 49.9h0.9v0.9h-0.9zM254.4 62.1h0.9v0.9h-0.9zM246.5 59.6h0.9v0.9h-0.9zM250.7 48.8h0.9v0.9h-0.9zM242.9 61.7h0.9v0.9h-0.9zM248.3 50.9h0.9v0.9h-0.9zM249.5 61.1h0.9v0.9h-0.9zM252.3 67.5h0.9v0.9h-0.9zM250.2 74.0h0.9v0.9h-0.9zM252.5 70.4h0.9v0.9h-0.9zM250.6 64.6h0.9v0.9h-0.9zM250.7 62.8h0.9v0.9h-0.9zM252.2 62.0h0.9v0.9h-0.9zM272.4 44.8h0.9v0.9h-0.9zM233.2 95.0h0.9v0.9h-0.9zM216.2 95.7h0.9v0.9h-0.9zM260.2 60.8h0.9v0.9h-0.9zM218.8 61.5h0.9v0.9h-0.9zM221.0 64.9h0.9v0.9h-0.9zM236.9 91.6h0.9v0.9h-0.9zM240.8 54.1h0.9v0.9h-0.9zM233.0 76.3h0.9v0.9h-0.9zM216.7 64.3h0.9v0.9h-0.9zM239.2 50.0h0.9v0.9h-0.9zM250.1 83.0h0.9v0.9h-0.9zM213.6 82.1h0.9v0.9h-0.9zM241.3 35.9h0.9v0.9h-0.9zM243.2 63.6h0.9v0.9h-0.9zM251.0 77.0h0.9v0.9h-0.9zM215.0 68.0h0.9v0.9h-0.9zM261.9 46.1h0.9v0.9h-0.9zM226.5 40.7h0.9v0.9h-0.9zM222.1 56.3h0.9v0.9h-0.9zM217.8 56.3h0.9v0.9h-0.9zM273.3 85.4h0.9v0.9h-0.9zM221.6 82.5h0.9v0.9h-0.9zM237.0 52.8h0.9v0.9h-0.9zM250.0 60.3h0.9v0.9h-0.9z" fill="#777"/>
<path d="M236.5 86 C240 83.6 245 83 250.5 85.2" fill="none" stroke="#222" stroke-width="1"/>
<path d="M237 91.5 C241 94 246 94.8 250.5 94" fill="none" stroke="#222" stroke-width="1"/>
<path d="M235 89 C237 87.8 238.5 87.8 240 88.5" fill="none" stroke="#555" stroke-width="0.6"/>
<path d="M252.60 101.30C250.58 99.75 252.57 94.68 252.70 92.00C252.83 89.32 252.92 86.97 253.40 85.20C253.88 83.43 254.73 82.25 255.60 81.40C256.47 80.55 257.60 80.10 258.60 80.10C259.60 80.10 260.72 80.55 261.60 81.40C262.48 82.25 263.40 83.43 263.90 85.20C264.40 86.97 264.45 89.32 264.60 92.00C264.75 94.68 266.80 99.75 264.80 101.30C262.80 102.85 254.62 102.85 252.60 101.30Z" fill="#e8e8e8" stroke="#444" stroke-width="0.8"/>
<path d="M253.82 101.26C252.21 99.92 253.79 95.57 253.90 93.26C254.01 90.95 254.07 88.93 254.46 87.41C254.85 85.89 255.53 84.88 256.22 84.14C256.91 83.41 257.82 83.03 258.62 83.03C259.42 83.03 260.31 83.41 261.02 84.14C261.73 84.88 262.46 85.89 262.86 87.41C263.26 88.93 263.30 90.95 263.42 93.26C263.54 95.57 265.18 99.92 263.58 101.26C261.98 102.59 255.43 102.59 253.82 101.26Z" fill="#8a8a8a" stroke="#222" stroke-width="0.6"/>
<path d="M254.67 101.22C253.34 100.10 254.65 96.45 254.74 94.52C254.83 92.59 254.88 90.90 255.20 89.62C255.52 88.35 256.08 87.50 256.65 86.89C257.23 86.28 257.97 85.95 258.63 85.95C259.29 85.95 260.03 86.28 260.61 86.89C261.20 87.50 261.80 88.35 262.13 89.62C262.46 90.90 262.50 92.59 262.59 94.52C262.69 96.45 264.05 100.10 262.73 101.22C261.41 102.33 256.00 102.33 254.67 101.22Z" fill="#5a5a5a" stroke="#222" stroke-width="0.6"/>
<path d="M255.53 101.17C254.48 100.30 255.51 97.46 255.58 95.96C255.65 94.46 255.69 93.14 255.94 92.15C256.20 91.16 256.64 90.50 257.09 90.02C257.54 89.55 258.13 89.30 258.65 89.30C259.17 89.30 259.75 89.55 260.21 90.02C260.67 90.50 261.14 91.16 261.40 92.15C261.66 93.14 261.69 94.46 261.77 95.96C261.85 97.46 262.91 100.30 261.87 101.17C260.83 102.04 256.58 102.04 255.53 101.17Z" fill="#3a3a3a" stroke="#111" stroke-width="0.6"/>
<path d="M256.38 101.12C255.62 100.50 256.37 98.47 256.42 97.40C256.47 96.33 256.50 95.39 256.69 94.68C256.87 93.97 257.19 93.50 257.52 93.16C257.85 92.82 258.28 92.64 258.66 92.64C259.04 92.64 259.47 92.82 259.80 93.16C260.14 93.50 260.49 93.97 260.68 94.68C260.87 95.39 260.88 96.33 260.94 97.40C261.00 98.47 261.78 100.50 261.02 101.12C260.26 101.74 257.15 101.74 256.38 101.12Z" fill="#1a1a1a" stroke="#111" stroke-width="0.5"/>
<ellipse cx="258.5" cy="91.5" rx="0.7" ry="2.2" fill="#888"/>
<path d="M93.0 143.6h0.9v0.9h-0.9zM91.2 149.5h0.9v0.9h-0.9zM91.7 150.4h0.9v0.9h-0.9zM90.0 165.5h0.9v0.9h-0.9zM91.3 152.5h0.9v0.9h-0.9zM87.5 151.4h0.9v0.9h-0.9zM90.3 169.2h0.9v0.9h-0.9zM92.6 173.9h0.9v0.9h-0.9zM91.8 163.0h0.9v0.9h-0.9zM92.2 174.3h0.9v0.9h-0.9zM91.1 144.0h0.9v0.9h-0.9zM94.7 159.8h0.9v0.9h-0.9zM92.5 142.9h0.9v0.9h-0.9zM89.4 166.7h0.9v0.9h-0.9zM89.9 164.9h0.9v0.9h-0.9zM94.0 171.3h0.9v0.9h-0.9zM92.0 152.6h0.9v0.9h-0.9zM85.4 147.9h0.9v0.9h-0.9zM89.7 139.0h0.9v0.9h-0.9zM92.7 159.9h0.9v0.9h-0.9zM88.5 172.2h0.9v0.9h-0.9zM90.8 138.7h0.9v0.9h-0.9zM91.8 165.2h0.9v0.9h-0.9zM90.6 151.6h0.9v0.9h-0.9zM91.7 169.2h0.9v0.9h-0.9zM89.0 138.1h0.9v0.9h-0.9zM89.8 169.5h0.9v0.9h-0.9zM94.1 144.8h0.9v0.9h-0.9zM91.1 152.2h0.9v0.9h-0.9zM87.9 138.7h0.9v0.9h-0.9zM93.6 155.7h0.9v0.9h-0.9zM90.9 146.7h0.9v0.9h-0.9zM91.0 155.0h0.9v0.9h-0.9zM90.9 174.3h0.9v0.9h-0.9zM87.8 164.1h0.9v0.9h-0.9zM88.5 165.3h0.9v0.9h-0.9zM91.5 164.2h0.9v0.9h-0.9zM90.9 151.6h0.9v0.9h-0.9zM87.2 142.7h0.9v0.9h-0.9zM90.8 142.7h0.9v0.9h-0.9zM91.8 155.0h0.9v0.9h-0.9zM91.0 158.3h0.9v0.9h-0.9zM88.9 167.0h0.9v0.9h-0.9zM89.6 150.1h0.9v0.9h-0.9zM90.8 153.9h0.9v0.9h-0.9zM92.0 170.2h0.9v0.9h-0.9zM91.4 153.4h0.9v0.9h-0.9zM93.7 162.7h0.9v0.9h-0.9zM94.7 174.4h0.9v0.9h-0.9zM93.7 173.5h0.9v0.9h-0.9zM73.2 160.6h0.9v0.9h-0.9zM95.3 167.4h0.9v0.9h-0.9zM80.8 162.1h0.9v0.9h-0.9zM88.3 168.6h0.9v0.9h-0.9zM85.8 166.4h0.9v0.9h-0.9zM92.8 171.0h0.9v0.9h-0.9zM83.5 174.0h0.9v0.9h-0.9zM89.2 164.0h0.9v0.9h-0.9zM78.6 171.8h0.9v0.9h-0.9zM76.5 172.1h0.9v0.9h-0.9zM79.5 169.5h0.9v0.9h-0.9zM71.4 160.6h0.9v0.9h-0.9zM81.7 158.9h0.9v0.9h-0.9zM79.5 166.6h0.9v0.9h-0.9zM81.4 158.7h0.9v0.9h-0.9zM77.6 170.2h0.9v0.9h-0.9zM85.9 164.2h0.9v0.9h-0.9zM84.0 165.9h0.9v0.9h-0.9zM88.7 168.7h0.9v0.9h-0.9zM89.0 165.0h0.9v0.9h-0.9zM74.9 165.3h0.9v0.9h-0.9zM90.1 140.8h0.9v0.9h-0.9zM92.7 137.4h0.9v0.9h-0.9zM82.7 122.1h0.9v0.9h-0.9zM89.8 141.7h0.9v0.9h-0.9zM93.3 131.4h0.9v0.9h-0.9zM89.1 124.1h0.9v0.9h-0.9zM68.0 125.5h0.9v0.9h-0.9zM80.9 121.8h0.9v0.9h-0.9zM81.5 145.4h0.9v0.9h-0.9zM93.9 132.5h0.9v0.9h-0.9zM64.7 135.5h0.9v0.9h-0.9zM64.6 131.0h0.9v0.9h-0.9zM92.1 125.8h0.9v0.9h-0.9zM71.9 143.2h0.9v0.9h-0.9zM64.9 136.2h0.9v0.9h-0.9zM65.1 133.5h0.9v0.9h-0.9zM65.2 136.2h0.9v0.9h-0.9zM74.8 121.7h0.9v0.9h-0.9zM63.8 136.4h0.9v0.9h-0.9zM91.0 126.7h0.9v0.9h-0.9zM88.7 124.8h0.9v0.9h-0.9zM75.0 122.4h0.9v0.9h-0.9zM65.2 129.6h0.9v0.9h-0.9zM93.7 133.2h0.9v0.9h-0.9zM90.9 127.0h0.9v0.9h-0.9zM68.4 126.6h0.9v0.9h-0.9zM79.7 121.1h0.9v0.9h-0.9zM67.1 139.7h0.9v0.9h-0.9zM66.1 134.2h0.9v0.9h-0.9zM69.7 123.3h0.9v0.9h-0.9zM68.6 140.8h0.9v0.9h-0.9zM89.2 124.2h0.9v0.9h-0.9zM93.1 134.1h0.9v0.9h-0.9zM81.5 122.2h0.9v0.9h-0.9zM65.1 135.5h0.9v0.9h-0.9zM76.3 122.8h0.9v0.9h-0.9zM69.2 124.9h0.9v0.9h-0.9zM93.8 133.0h0.9v0.9h-0.9zM72.1 144.3h0.9v0.9h-0.9zM65.7 137.9h0.9v0.9h-0.9zM64.3 135.2h0.9v0.9h-0.9zM64.1 133.0h0.9v0.9h-0.9zM70.5 123.8h0.9v0.9h-0.9zM79.5 120.7h0.9v0.9h-0.9zM94.1 136.7h0.9v0.9h-0.9zM65.6 138.8h0.9v0.9h-0.9zM70.6 144.4h0.9v0.9h-0.9zM87.7 142.8h0.9v0.9h-0.9zM91.9 129.7h0.9v0.9h-0.9zM81.3 121.1h0.9v0.9h-0.9zM93.0 130.7h0.9v0.9h-0.9zM88.0 143.3h0.9v0.9h-0.9zM65.2 129.9h0.9v0.9h-0.9zM89.2 124.5h0.9v0.9h-0.9zM65.6 127.9h0.9v0.9h-0.9zM70.6 124.1h0.9v0.9h-0.9zM64.4 131.7h0.9v0.9h-0.9zM84.5 144.2h0.9v0.9h-0.9zM88.6 140.4h0.9v0.9h-0.9zM67.5 141.3h0.9v0.9h-0.9zM66.2 129.5h0.9v0.9h-0.9zM65.2 156.8h0.9v0.9h-0.9zM91.9 157.4h0.9v0.9h-0.9zM109.0 111.7h0.9v0.9h-0.9zM101.0 155.1h0.9v0.9h-0.9zM69.8 146.3h0.9v0.9h-0.9zM62.2 130.2h0.9v0.9h-0.9zM111.1 139.5h0.9v0.9h-0.9zM111.4 150.4h0.9v0.9h-0.9zM75.6 141.5h0.9v0.9h-0.9zM61.3 130.6h0.9v0.9h-0.9zM101.6 120.4h0.9v0.9h-0.9zM92.9 125.6h0.9v0.9h-0.9zM59.9 129.8h0.9v0.9h-0.9zM92.8 146.3h0.9v0.9h-0.9z" fill="#888"/>
<path d="M92.0 142.9h0.9v0.9h-0.9zM94.4 167.8h0.9v0.9h-0.9zM87.1 158.9h0.9v0.9h-0.9zM91.7 142.6h0.9v0.9h-0.9zM95.7 149.9h0.9v0.9h-0.9zM92.0 159.6h0.9v0.9h-0.9zM92.7 168.4h0.9v0.9h-0.9zM90.2 158.6h0.9v0.9h-0.9zM89.8 157.0h0.9v0.9h-0.9zM89.9 165.8h0.9v0.9h-0.9zM91.3 160.2h0.9v0.9h-0.9zM94.6 170.2h0.9v0.9h-0.9zM91.5 140.2h0.9v0.9h-0.9zM91.6 145.3h0.9v0.9h-0.9zM92.1 138.2h0.9v0.9h-0.9zM95.3 154.2h0.9v0.9h-0.9zM90.4 160.7h0.9v0.9h-0.9zM89.2 158.2h0.9v0.9h-0.9zM87.6 153.9h0.9v0.9h-0.9zM86.8 145.8h0.9v0.9h-0.9zM93.2 145.2h0.9v0.9h-0.9zM89.8 154.1h0.9v0.9h-0.9zM89.7 141.6h0.9v0.9h-0.9zM91.2 165.1h0.9v0.9h-0.9zM93.4 150.6h0.9v0.9h-0.9zM88.4 147.7h0.9v0.9h-0.9zM92.7 150.5h0.9v0.9h-0.9zM95.5 166.7h0.9v0.9h-0.9zM89.6 148.4h0.9v0.9h-0.9zM89.5 173.9h0.9v0.9h-0.9zM92.0 170.9h0.9v0.9h-0.9zM91.1 170.3h0.9v0.9h-0.9zM89.4 151.3h0.9v0.9h-0.9zM91.2 154.1h0.9v0.9h-0.9zM91.5 142.8h0.9v0.9h-0.9zM92.6 140.3h0.9v0.9h-0.9zM90.1 156.8h0.9v0.9h-0.9zM94.4 164.7h0.9v0.9h-0.9zM83.9 166.9h0.9v0.9h-0.9zM83.1 166.4h0.9v0.9h-0.9zM79.3 170.1h0.9v0.9h-0.9zM85.6 164.1h0.9v0.9h-0.9zM92.9 170.7h0.9v0.9h-0.9zM88.2 155.7h0.9v0.9h-0.9zM86.4 169.7h0.9v0.9h-0.9zM77.1 159.4h0.9v0.9h-0.9zM83.3 161.8h0.9v0.9h-0.9zM80.2 156.7h0.9v0.9h-0.9zM75.1 167.4h0.9v0.9h-0.9zM83.8 166.9h0.9v0.9h-0.9zM98.9 169.4h0.9v0.9h-0.9zM92.8 170.0h0.9v0.9h-0.9zM86.6 163.4h0.9v0.9h-0.9zM89.0 168.8h0.9v0.9h-0.9zM87.7 162.4h0.9v0.9h-0.9zM88.8 161.7h0.9v0.9h-0.9zM82.8 169.4h0.9v0.9h-0.9zM73.0 158.4h0.9v0.9h-0.9zM85.5 169.8h0.9v0.9h-0.9zM76.7 162.7h0.9v0.9h-0.9zM85.4 165.8h0.9v0.9h-0.9zM88.7 170.0h0.9v0.9h-0.9zM80.8 164.3h0.9v0.9h-0.9zM83.0 159.7h0.9v0.9h-0.9zM87.1 164.1h0.9v0.9h-0.9zM86.4 163.0h0.9v0.9h-0.9zM85.6 166.8h0.9v0.9h-0.9zM90.0 170.6h0.9v0.9h-0.9zM77.5 167.8h0.9v0.9h-0.9zM86.0 123.0h0.9v0.9h-0.9zM93.5 131.1h0.9v0.9h-0.9zM79.9 123.6h0.9v0.9h-0.9zM66.8 126.2h0.9v0.9h-0.9zM78.9 145.8h0.9v0.9h-0.9zM92.9 130.8h0.9v0.9h-0.9zM69.8 141.8h0.9v0.9h-0.9zM69.4 124.0h0.9v0.9h-0.9zM72.3 145.1h0.9v0.9h-0.9zM69.1 124.8h0.9v0.9h-0.9zM63.2 133.5h0.9v0.9h-0.9zM65.6 137.8h0.9v0.9h-0.9zM82.0 145.3h0.9v0.9h-0.9zM92.3 128.8h0.9v0.9h-0.9zM92.0 128.1h0.9v0.9h-0.9zM91.8 135.9h0.9v0.9h-0.9zM94.1 137.1h0.9v0.9h-0.9zM86.2 143.5h0.9v0.9h-0.9zM70.1 123.8h0.9v0.9h-0.9zM88.9 124.2h0.9v0.9h-0.9zM89.6 140.4h0.9v0.9h-0.9zM91.4 139.3h0.9v0.9h-0.9zM90.3 126.9h0.9v0.9h-0.9zM64.1 134.8h0.9v0.9h-0.9zM70.8 123.0h0.9v0.9h-0.9zM63.6 134.6h0.9v0.9h-0.9zM91.9 136.9h0.9v0.9h-0.9zM78.2 145.7h0.9v0.9h-0.9zM70.5 144.5h0.9v0.9h-0.9zM94.0 128.3h0.9v0.9h-0.9zM76.8 144.4h0.9v0.9h-0.9zM92.4 139.1h0.9v0.9h-0.9zM76.6 145.6h0.9v0.9h-0.9zM91.1 138.6h0.9v0.9h-0.9zM92.4 139.3h0.9v0.9h-0.9zM91.6 129.9h0.9v0.9h-0.9zM71.6 143.5h0.9v0.9h-0.9zM72.0 144.9h0.9v0.9h-0.9zM64.8 131.6h0.9v0.9h-0.9zM66.3 138.1h0.9v0.9h-0.9zM85.2 145.0h0.9v0.9h-0.9zM69.3 141.9h0.9v0.9h-0.9zM64.5 132.5h0.9v0.9h-0.9zM74.2 123.9h0.9v0.9h-0.9zM92.8 135.3h0.9v0.9h-0.9zM90.1 143.3h0.9v0.9h-0.9zM74.0 145.0h0.9v0.9h-0.9zM63.9 133.7h0.9v0.9h-0.9zM90.9 146.7h0.9v0.9h-0.9zM88.4 110.8h0.9v0.9h-0.9zM94.3 150.8h0.9v0.9h-0.9zM62.1 156.0h0.9v0.9h-0.9zM110.4 165.1h0.9v0.9h-0.9zM94.4 145.9h0.9v0.9h-0.9zM65.6 118.6h0.9v0.9h-0.9zM96.9 172.0h0.9v0.9h-0.9zM62.8 159.9h0.9v0.9h-0.9zM99.2 139.8h0.9v0.9h-0.9zM54.8 123.4h0.9v0.9h-0.9zM60.7 166.8h0.9v0.9h-0.9zM66.1 149.8h0.9v0.9h-0.9zM93.9 115.6h0.9v0.9h-0.9zM54.7 137.6h0.9v0.9h-0.9zM109.0 147.2h0.9v0.9h-0.9zM100.4 161.0h0.9v0.9h-0.9zM112.0 169.7h0.9v0.9h-0.9zM61.9 131.2h0.9v0.9h-0.9zM65.2 122.8h0.9v0.9h-0.9zM98.8 148.9h0.9v0.9h-0.9z" fill="#555"/>
<path d="M91.2 161.5h0.9v0.9h-0.9zM88.8 159.5h0.9v0.9h-0.9zM91.3 150.9h0.9v0.9h-0.9zM93.7 153.9h0.9v0.9h-0.9zM90.7 169.0h0.9v0.9h-0.9zM92.4 150.4h0.9v0.9h-0.9zM92.7 167.1h0.9v0.9h-0.9zM88.4 159.0h0.9v0.9h-0.9zM88.5 141.5h0.9v0.9h-0.9zM87.7 140.0h0.9v0.9h-0.9zM90.0 168.5h0.9v0.9h-0.9zM89.0 163.3h0.9v0.9h-0.9zM90.2 155.5h0.9v0.9h-0.9zM92.6 141.0h0.9v0.9h-0.9zM90.6 146.6h0.9v0.9h-0.9zM89.1 164.3h0.9v0.9h-0.9zM90.4 156.1h0.9v0.9h-0.9zM88.5 149.2h0.9v0.9h-0.9zM87.4 169.8h0.9v0.9h-0.9zM90.9 151.8h0.9v0.9h-0.9zM88.4 150.8h0.9v0.9h-0.9zM93.7 166.6h0.9v0.9h-0.9zM90.4 152.1h0.9v0.9h-0.9zM91.3 163.4h0.9v0.9h-0.9zM90.6 170.9h0.9v0.9h-0.9zM89.4 171.5h0.9v0.9h-0.9zM91.9 142.2h0.9v0.9h-0.9zM89.9 144.3h0.9v0.9h-0.9zM93.4 153.7h0.9v0.9h-0.9zM87.6 161.8h0.9v0.9h-0.9zM91.6 154.5h0.9v0.9h-0.9zM92.0 159.4h0.9v0.9h-0.9zM93.9 150.8h0.9v0.9h-0.9zM88.3 145.9h0.9v0.9h-0.9zM91.8 149.9h0.9v0.9h-0.9zM90.9 156.6h0.9v0.9h-0.9zM91.0 154.8h0.9v0.9h-0.9zM88.9 148.3h0.9v0.9h-0.9zM91.4 168.4h0.9v0.9h-0.9zM90.0 153.2h0.9v0.9h-0.9zM88.6 155.1h0.9v0.9h-0.9zM90.5 151.3h0.9v0.9h-0.9zM93.6 169.8h0.9v0.9h-0.9zM93.4 142.4h0.9v0.9h-0.9zM91.1 166.3h0.9v0.9h-0.9zM91.5 160.7h0.9v0.9h-0.9zM93.7 165.4h0.9v0.9h-0.9zM92.1 162.0h0.9v0.9h-0.9zM91.8 157.9h0.9v0.9h-0.9zM85.2 168.1h0.9v0.9h-0.9zM82.4 159.0h0.9v0.9h-0.9zM95.3 167.2h0.9v0.9h-0.9zM92.3 156.2h0.9v0.9h-0.9zM75.8 169.5h0.9v0.9h-0.9zM84.0 158.6h0.9v0.9h-0.9zM81.1 157.6h0.9v0.9h-0.9zM99.7 162.0h0.9v0.9h-0.9zM84.8 175.3h0.9v0.9h-0.9zM106.9 164.6h0.9v0.9h-0.9zM84.6 161.5h0.9v0.9h-0.9zM82.1 167.1h0.9v0.9h-0.9zM81.9 168.6h0.9v0.9h-0.9zM76.7 164.9h0.9v0.9h-0.9zM86.5 166.1h0.9v0.9h-0.9zM84.7 171.5h0.9v0.9h-0.9zM85.8 161.2h0.9v0.9h-0.9zM74.6 164.3h0.9v0.9h-0.9zM82.0 172.9h0.9v0.9h-0.9zM86.2 165.6h0.9v0.9h-0.9zM80.9 166.0h0.9v0.9h-0.9zM87.3 171.6h0.9v0.9h-0.9zM80.0 166.6h0.9v0.9h-0.9zM91.4 163.7h0.9v0.9h-0.9zM95.5 169.8h0.9v0.9h-0.9zM66.0 165.4h0.9v0.9h-0.9zM94.3 130.9h0.9v0.9h-0.9zM93.4 134.2h0.9v0.9h-0.9zM67.1 129.4h0.9v0.9h-0.9zM66.9 125.3h0.9v0.9h-0.9zM88.6 123.3h0.9v0.9h-0.9zM65.6 135.8h0.9v0.9h-0.9zM70.1 143.0h0.9v0.9h-0.9zM69.0 124.4h0.9v0.9h-0.9zM82.2 122.1h0.9v0.9h-0.9zM92.9 135.8h0.9v0.9h-0.9zM67.0 126.0h0.9v0.9h-0.9zM70.0 123.7h0.9v0.9h-0.9zM63.0 130.1h0.9v0.9h-0.9zM71.9 123.5h0.9v0.9h-0.9zM89.8 142.9h0.9v0.9h-0.9zM65.3 132.7h0.9v0.9h-0.9zM93.2 135.2h0.9v0.9h-0.9zM87.7 124.2h0.9v0.9h-0.9zM78.2 121.6h0.9v0.9h-0.9zM70.1 142.7h0.9v0.9h-0.9zM63.2 133.4h0.9v0.9h-0.9zM93.7 131.4h0.9v0.9h-0.9zM79.9 121.8h0.9v0.9h-0.9zM87.2 124.7h0.9v0.9h-0.9zM88.7 142.4h0.9v0.9h-0.9zM65.9 130.1h0.9v0.9h-0.9zM66.1 138.3h0.9v0.9h-0.9zM72.5 123.7h0.9v0.9h-0.9zM71.1 123.6h0.9v0.9h-0.9zM68.3 125.6h0.9v0.9h-0.9zM69.0 125.7h0.9v0.9h-0.9zM66.5 128.1h0.9v0.9h-0.9zM69.7 124.8h0.9v0.9h-0.9zM94.3 136.1h0.9v0.9h-0.9zM99.8 120.5h0.9v0.9h-0.9zM52.0 120.6h0.9v0.9h-0.9zM114.7 142.4h0.9v0.9h-0.9zM96.3 136.3h0.9v0.9h-0.9zM68.0 170.6h0.9v0.9h-0.9zM56.4 168.9h0.9v0.9h-0.9zM87.6 173.3h0.9v0.9h-0.9zM84.5 145.9h0.9v0.9h-0.9zM74.2 116.2h0.9v0.9h-0.9zM73.0 144.2h0.9v0.9h-0.9zM76.8 137.8h0.9v0.9h-0.9zM94.9 142.8h0.9v0.9h-0.9zM100.4 151.0h0.9v0.9h-0.9zM97.7 164.1h0.9v0.9h-0.9zM69.1 151.2h0.9v0.9h-0.9zM64.0 111.9h0.9v0.9h-0.9zM58.8 133.6h0.9v0.9h-0.9zM107.0 121.1h0.9v0.9h-0.9zM88.4 145.0h0.9v0.9h-0.9zM91.6 131.4h0.9v0.9h-0.9zM105.9 115.5h0.9v0.9h-0.9z" fill="#3a3a3a"/>
<path d="M89.8 171.2h0.9v0.9h-0.9zM90.0 169.0h0.9v0.9h-0.9zM90.1 174.4h0.9v0.9h-0.9zM88.1 148.0h0.9v0.9h-0.9zM94.6 169.7h0.9v0.9h-0.9zM89.9 158.0h0.9v0.9h-0.9zM88.0 152.1h0.9v0.9h-0.9zM91.8 139.5h0.9v0.9h-0.9zM92.0 164.2h0.9v0.9h-0.9zM94.1 153.5h0.9v0.9h-0.9zM88.8 156.7h0.9v0.9h-0.9zM87.9 164.7h0.9v0.9h-0.9zM87.2 158.6h0.9v0.9h-0.9zM92.1 141.0h0.9v0.9h-0.9zM92.5 154.5h0.9v0.9h-0.9zM91.1 148.7h0.9v0.9h-0.9zM90.7 159.9h0.9v0.9h-0.9zM93.5 162.0h0.9v0.9h-0.9zM91.1 166.8h0.9v0.9h-0.9zM93.5 170.9h0.9v0.9h-0.9zM93.7 161.0h0.9v0.9h-0.9zM86.3 174.9h0.9v0.9h-0.9zM93.8 160.4h0.9v0.9h-0.9zM90.7 148.0h0.9v0.9h-0.9zM89.5 160.9h0.9v0.9h-0.9zM93.3 152.4h0.9v0.9h-0.9zM93.4 173.0h0.9v0.9h-0.9zM91.9 139.4h0.9v0.9h-0.9zM89.1 152.0h0.9v0.9h-0.9zM89.0 168.4h0.9v0.9h-0.9zM91.0 161.8h0.9v0.9h-0.9zM92.5 168.9h0.9v0.9h-0.9zM85.8 141.2h0.9v0.9h-0.9zM91.9 150.1h0.9v0.9h-0.9zM94.5 162.1h0.9v0.9h-0.9zM93.9 148.5h0.9v0.9h-0.9zM82.8 166.2h0.9v0.9h-0.9zM84.7 174.7h0.9v0.9h-0.9zM82.3 166.0h0.9v0.9h-0.9zM82.6 171.9h0.9v0.9h-0.9zM82.7 170.5h0.9v0.9h-0.9zM75.8 159.9h0.9v0.9h-0.9zM82.5 173.8h0.9v0.9h-0.9zM80.8 167.9h0.9v0.9h-0.9zM90.2 160.3h0.9v0.9h-0.9zM76.3 162.0h0.9v0.9h-0.9zM77.2 165.0h0.9v0.9h-0.9zM93.3 151.0h0.9v0.9h-0.9zM76.6 163.3h0.9v0.9h-0.9zM76.2 166.4h0.9v0.9h-0.9zM80.5 166.2h0.9v0.9h-0.9zM67.0 160.2h0.9v0.9h-0.9zM78.5 175.0h0.9v0.9h-0.9zM71.4 166.5h0.9v0.9h-0.9zM77.8 169.5h0.9v0.9h-0.9zM89.8 164.6h0.9v0.9h-0.9zM68.1 158.9h0.9v0.9h-0.9zM85.1 156.7h0.9v0.9h-0.9zM83.9 163.1h0.9v0.9h-0.9zM85.9 159.8h0.9v0.9h-0.9zM88.1 171.5h0.9v0.9h-0.9zM88.4 161.8h0.9v0.9h-0.9zM67.5 125.5h0.9v0.9h-0.9zM66.3 127.6h0.9v0.9h-0.9zM73.8 143.7h0.9v0.9h-0.9zM92.4 128.9h0.9v0.9h-0.9zM94.1 135.5h0.9v0.9h-0.9zM69.6 124.1h0.9v0.9h-0.9zM91.3 127.8h0.9v0.9h-0.9zM65.4 135.7h0.9v0.9h-0.9zM83.5 144.4h0.9v0.9h-0.9zM65.3 135.3h0.9v0.9h-0.9zM74.9 122.7h0.9v0.9h-0.9zM63.9 129.8h0.9v0.9h-0.9zM65.4 129.2h0.9v0.9h-0.9zM91.8 130.3h0.9v0.9h-0.9zM88.0 143.7h0.9v0.9h-0.9zM74.6 121.1h0.9v0.9h-0.9zM73.4 145.2h0.9v0.9h-0.9zM75.6 122.4h0.9v0.9h-0.9zM63.6 130.0h0.9v0.9h-0.9zM63.9 132.4h0.9v0.9h-0.9zM87.1 123.6h0.9v0.9h-0.9zM89.1 122.8h0.9v0.9h-0.9zM64.2 131.4h0.9v0.9h-0.9zM75.6 144.3h0.9v0.9h-0.9zM68.1 141.2h0.9v0.9h-0.9zM87.8 143.1h0.9v0.9h-0.9zM74.1 146.1h0.9v0.9h-0.9zM76.0 146.1h0.9v0.9h-0.9zM70.9 123.9h0.9v0.9h-0.9zM85.1 144.9h0.9v0.9h-0.9zM91.2 126.9h0.9v0.9h-0.9zM78.9 144.8h0.9v0.9h-0.9zM69.3 142.7h0.9v0.9h-0.9zM92.0 140.2h0.9v0.9h-0.9zM64.2 134.5h0.9v0.9h-0.9zM89.3 125.7h0.9v0.9h-0.9zM106.8 135.0h0.9v0.9h-0.9zM108.0 112.4h0.9v0.9h-0.9zM106.5 141.6h0.9v0.9h-0.9zM65.0 136.9h0.9v0.9h-0.9zM101.7 149.9h0.9v0.9h-0.9zM73.2 164.8h0.9v0.9h-0.9zM104.2 140.1h0.9v0.9h-0.9zM77.0 163.1h0.9v0.9h-0.9zM78.0 149.7h0.9v0.9h-0.9zM81.5 137.3h0.9v0.9h-0.9zM56.7 145.8h0.9v0.9h-0.9zM70.7 167.9h0.9v0.9h-0.9zM65.5 142.1h0.9v0.9h-0.9zM68.7 143.9h0.9v0.9h-0.9zM58.1 144.5h0.9v0.9h-0.9zM87.3 130.4h0.9v0.9h-0.9zM75.1 173.6h0.9v0.9h-0.9zM53.0 173.8h0.9v0.9h-0.9zM56.2 141.3h0.9v0.9h-0.9zM83.5 174.5h0.9v0.9h-0.9zM101.9 148.1h0.9v0.9h-0.9zM107.3 143.7h0.9v0.9h-0.9zM97.1 136.9h0.9v0.9h-0.9zM100.9 110.7h0.9v0.9h-0.9z" fill="#aaa"/>
<path d="M90.6 164.8h0.9v0.9h-0.9zM89.9 163.7h0.9v0.9h-0.9zM91.9 153.7h0.9v0.9h-0.9zM92.9 153.7h0.9v0.9h-0.9zM94.8 150.6h0.9v0.9h-0.9zM86.5 143.7h0.9v0.9h-0.9zM93.5 156.0h0.9v0.9h-0.9zM92.6 165.0h0.9v0.9h-0.9zM89.6 153.7h0.9v0.9h-0.9zM93.5 159.7h0.9v0.9h-0.9zM87.1 144.1h0.9v0.9h-0.9zM96.8 164.5h0.9v0.9h-0.9zM94.5 169.1h0.9v0.9h-0.9zM94.6 155.6h0.9v0.9h-0.9zM95.9 165.9h0.9v0.9h-0.9zM91.2 157.1h0.9v0.9h-0.9zM91.8 151.2h0.9v0.9h-0.9zM88.6 155.3h0.9v0.9h-0.9zM89.9 151.5h0.9v0.9h-0.9zM90.0 140.9h0.9v0.9h-0.9zM89.6 148.6h0.9v0.9h-0.9zM89.2 142.4h0.9v0.9h-0.9zM95.3 149.9h0.9v0.9h-0.9zM96.3 170.2h0.9v0.9h-0.9zM92.7 152.3h0.9v0.9h-0.9zM94.6 141.7h0.9v0.9h-0.9zM92.0 174.1h0.9v0.9h-0.9zM91.4 143.7h0.9v0.9h-0.9zM87.4 138.2h0.9v0.9h-0.9zM90.4 169.1h0.9v0.9h-0.9zM89.1 145.2h0.9v0.9h-0.9zM92.9 173.8h0.9v0.9h-0.9zM94.0 164.1h0.9v0.9h-0.9zM93.2 167.6h0.9v0.9h-0.9zM93.3 156.4h0.9v0.9h-0.9zM88.2 164.9h0.9v0.9h-0.9zM93.3 174.6h0.9v0.9h-0.9zM87.2 151.5h0.9v0.9h-0.9zM93.8 162.7h0.9v0.9h-0.9zM91.5 145.9h0.9v0.9h-0.9zM91.0 172.4h0.9v0.9h-0.9zM90.4 149.7h0.9v0.9h-0.9zM91.4 170.4h0.9v0.9h-0.9zM96.8 173.2h0.9v0.9h-0.9zM89.3 171.4h0.9v0.9h-0.9zM91.1 154.2h0.9v0.9h-0.9zM91.0 150.7h0.9v0.9h-0.9zM90.9 143.0h0.9v0.9h-0.9zM86.4 171.1h0.9v0.9h-0.9zM88.0 160.1h0.9v0.9h-0.9zM94.5 166.5h0.9v0.9h-0.9zM74.8 162.0h0.9v0.9h-0.9zM80.0 171.5h0.9v0.9h-0.9zM87.7 166.1h0.9v0.9h-0.9zM88.8 162.1h0.9v0.9h-0.9zM74.7 165.9h0.9v0.9h-0.9zM87.2 169.5h0.9v0.9h-0.9zM76.7 160.0h0.9v0.9h-0.9zM81.2 167.6h0.9v0.9h-0.9zM85.8 170.9h0.9v0.9h-0.9zM84.2 162.3h0.9v0.9h-0.9zM70.4 164.2h0.9v0.9h-0.9zM83.1 161.9h0.9v0.9h-0.9zM79.1 165.2h0.9v0.9h-0.9zM83.2 169.4h0.9v0.9h-0.9zM86.9 168.2h0.9v0.9h-0.9zM74.9 162.7h0.9v0.9h-0.9zM79.3 159.9h0.9v0.9h-0.9zM89.6 163.6h0.9v0.9h-0.9zM86.3 171.7h0.9v0.9h-0.9zM81.8 171.5h0.9v0.9h-0.9zM77.5 159.7h0.9v0.9h-0.9zM96.6 160.9h0.9v0.9h-0.9zM71.7 164.8h0.9v0.9h-0.9zM85.1 170.5h0.9v0.9h-0.9zM82.6 164.5h0.9v0.9h-0.9zM68.6 124.9h0.9v0.9h-0.9zM90.5 141.5h0.9v0.9h-0.9zM70.5 123.3h0.9v0.9h-0.9zM83.0 122.5h0.9v0.9h-0.9zM64.7 132.9h0.9v0.9h-0.9zM63.9 132.7h0.9v0.9h-0.9zM69.7 142.3h0.9v0.9h-0.9zM89.8 140.3h0.9v0.9h-0.9zM65.2 127.8h0.9v0.9h-0.9zM70.2 143.1h0.9v0.9h-0.9zM87.5 125.5h0.9v0.9h-0.9zM84.3 122.4h0.9v0.9h-0.9zM65.8 127.8h0.9v0.9h-0.9zM64.2 130.1h0.9v0.9h-0.9zM71.4 123.2h0.9v0.9h-0.9zM75.5 122.3h0.9v0.9h-0.9zM66.1 139.4h0.9v0.9h-0.9zM75.8 121.6h0.9v0.9h-0.9zM93.5 131.3h0.9v0.9h-0.9zM77.4 145.6h0.9v0.9h-0.9zM90.9 139.4h0.9v0.9h-0.9zM64.1 131.8h0.9v0.9h-0.9zM75.9 145.7h0.9v0.9h-0.9zM68.7 143.7h0.9v0.9h-0.9zM73.0 121.8h0.9v0.9h-0.9zM91.7 138.5h0.9v0.9h-0.9zM65.4 133.7h0.9v0.9h-0.9zM69.7 142.4h0.9v0.9h-0.9zM93.4 138.4h0.9v0.9h-0.9zM65.6 129.0h0.9v0.9h-0.9zM93.9 131.0h0.9v0.9h-0.9zM83.9 122.5h0.9v0.9h-0.9zM92.5 139.4h0.9v0.9h-0.9zM64.3 136.6h0.9v0.9h-0.9zM83.3 122.2h0.9v0.9h-0.9zM92.4 128.7h0.9v0.9h-0.9zM88.5 142.8h0.9v0.9h-0.9zM64.2 131.9h0.9v0.9h-0.9zM76.1 145.8h0.9v0.9h-0.9zM73.1 123.6h0.9v0.9h-0.9zM75.1 145.7h0.9v0.9h-0.9zM66.2 136.5h0.9v0.9h-0.9zM87.9 143.3h0.9v0.9h-0.9zM84.2 122.6h0.9v0.9h-0.9zM68.3 126.3h0.9v0.9h-0.9zM89.4 142.6h0.9v0.9h-0.9zM90.2 124.1h0.9v0.9h-0.9zM76.5 145.6h0.9v0.9h-0.9zM65.5 129.4h0.9v0.9h-0.9zM93.4 136.9h0.9v0.9h-0.9zM76.0 145.0h0.9v0.9h-0.9zM63.0 172.3h0.9v0.9h-0.9zM63.9 111.8h0.9v0.9h-0.9zM55.5 148.6h0.9v0.9h-0.9zM114.2 129.4h0.9v0.9h-0.9zM115.4 173.4h0.9v0.9h-0.9zM96.0 166.0h0.9v0.9h-0.9zM57.0 166.2h0.9v0.9h-0.9zM96.7 117.1h0.9v0.9h-0.9zM101.5 146.1h0.9v0.9h-0.9zM109.5 167.8h0.9v0.9h-0.9zM104.6 141.9h0.9v0.9h-0.9zM108.0 122.1h0.9v0.9h-0.9zM97.8 133.9h0.9v0.9h-0.9zM114.7 123.5h0.9v0.9h-0.9zM85.2 112.4h0.9v0.9h-0.9zM62.8 122.1h0.9v0.9h-0.9zM69.5 141.0h0.9v0.9h-0.9zM86.0 154.4h0.9v0.9h-0.9zM61.8 165.9h0.9v0.9h-0.9zM73.7 159.2h0.9v0.9h-0.9z" fill="#222"/>
<path d="M66.50 128.00C66.58 126.83 67.17 125.73 68.00 125.00C68.83 124.27 70.17 123.93 71.50 123.60C72.83 123.27 74.42 123.10 76.00 123.00C77.58 122.90 79.33 122.93 81.00 123.00C82.67 123.07 84.58 123.07 86.00 123.40C87.42 123.73 88.67 124.07 89.50 125.00C90.33 125.93 90.83 127.58 91.00 129.00C91.17 130.42 90.92 132.00 90.50 133.50C90.08 135.00 89.33 136.67 88.50 138.00C87.67 139.33 86.67 140.53 85.50 141.50C84.33 142.47 82.83 143.55 81.50 143.80C80.17 144.05 78.83 143.63 77.50 143.00C76.17 142.37 74.75 141.17 73.50 140.00C72.25 138.83 71.00 137.33 70.00 136.00C69.00 134.67 68.08 133.33 67.50 132.00C66.92 130.67 66.42 129.17 66.50 128.00Z" fill="#f4f4f4" stroke="#222" stroke-width="1.0"/>
<path d="M67.94 128.18C68.01 127.15 68.53 126.19 69.26 125.54C69.99 124.89 71.17 124.60 72.34 124.31C73.51 124.01 74.91 123.87 76.30 123.78C77.69 123.69 79.23 123.72 80.70 123.78C82.17 123.84 83.85 123.84 85.10 124.13C86.35 124.43 87.45 124.72 88.18 125.54C88.91 126.36 89.35 127.81 89.50 129.06C89.65 130.31 89.43 131.70 89.06 133.02C88.69 134.34 88.03 135.81 87.30 136.98C86.57 138.15 85.69 139.21 84.66 140.06C83.63 140.91 82.31 141.86 81.14 142.08C79.97 142.30 78.79 141.94 77.62 141.38C76.45 140.82 75.20 139.77 74.10 138.74C73.00 137.71 71.90 136.39 71.02 135.22C70.14 134.05 69.33 132.87 68.82 131.70C68.31 130.53 67.87 129.21 67.94 128.18Z" fill="#e4e4e4" stroke="#555" stroke-width="0.5"/>
<path d="M69.38 128.36C69.44 127.47 69.89 126.64 70.52 126.08C71.15 125.52 72.17 125.27 73.18 125.02C74.19 124.76 75.40 124.64 76.60 124.56C77.80 124.48 79.13 124.51 80.40 124.56C81.67 124.61 83.12 124.61 84.20 124.86C85.28 125.12 86.23 125.37 86.86 126.08C87.49 126.79 87.87 128.04 88.00 129.12C88.13 130.20 87.94 131.40 87.62 132.54C87.30 133.68 86.73 134.95 86.10 135.96C85.47 136.97 84.71 137.89 83.82 138.62C82.93 139.35 81.79 140.18 80.78 140.37C79.77 140.56 78.75 140.24 77.74 139.76C76.73 139.28 75.65 138.37 74.70 137.48C73.75 136.59 72.80 135.45 72.04 134.44C71.28 133.43 70.58 132.41 70.14 131.40C69.70 130.39 69.32 129.25 69.38 128.36Z" fill="#d4d4d4" stroke="#555" stroke-width="0.5"/>
<path d="M70.82 128.54C70.87 127.79 71.25 127.09 71.78 126.62C72.31 126.15 73.17 125.94 74.02 125.72C74.87 125.51 75.89 125.40 76.90 125.34C77.91 125.28 79.03 125.30 80.10 125.34C81.17 125.38 82.39 125.38 83.30 125.60C84.21 125.81 85.01 126.02 85.54 126.62C86.07 127.22 86.39 128.27 86.50 129.18C86.61 130.09 86.45 131.10 86.18 132.06C85.91 133.02 85.43 134.09 84.90 134.94C84.37 135.79 83.73 136.56 82.98 137.18C82.23 137.80 81.27 138.49 80.42 138.65C79.57 138.81 78.71 138.55 77.86 138.14C77.01 137.73 76.10 136.97 75.30 136.22C74.50 135.47 73.70 134.51 73.06 133.66C72.42 132.81 71.83 131.95 71.46 131.10C71.09 130.25 70.77 129.29 70.82 128.54Z" fill="#c2c2c2" stroke="#555" stroke-width="0.5"/>
<ellipse cx="78.50" cy="130.00" rx="9.20" ry="7.50" transform="rotate(0 78.50 130.00)" fill="#aaa" stroke="#333" stroke-width="0.45"/>
<ellipse cx="78.50" cy="130.00" rx="7.54" ry="6.15" transform="rotate(0 78.50 130.00)" fill="#939393" stroke="#333" stroke-width="0.45"/>
<ellipse cx="78.50" cy="130.00" rx="6.19" ry="5.04" transform="rotate(0 78.50 130.00)" fill="#7a7a7a" stroke="#333" stroke-width="0.45"/>
<ellipse cx="78.50" cy="130.00" rx="5.07" ry="4.14" transform="rotate(0 78.50 130.00)" fill="#5e5e5e" stroke="#333" stroke-width="0.45"/>
<ellipse cx="78.50" cy="130.00" rx="4.16" ry="3.39" transform="rotate(0 78.50 130.00)" fill="#404040" stroke="#333" stroke-width="0.45"/>
<ellipse cx="78.50" cy="130.00" rx="3.41" ry="2.78" transform="rotate(0 78.50 130.00)" fill="#2a2a2a" stroke="#333" stroke-width="0.45"/>
<path d="M71 126 C74 123.8 80 123.6 85 124.6" fill="none" stroke="#111" stroke-width="1.3"/>
<ellipse cx="76.5" cy="133.6" rx="1.2" ry="1.5" fill="#ddd"/>
<path d="M151.3 147.2h0.9v0.9h-0.9zM151.5 154.2h0.9v0.9h-0.9zM167.5 172.2h0.9v0.9h-0.9zM149.2 153.0h0.9v0.9h-0.9zM162.5 154.2h0.9v0.9h-0.9zM149.4 160.3h0.9v0.9h-0.9zM158.2 164.7h0.9v0.9h-0.9zM149.1 161.5h0.9v0.9h-0.9zM172.1 159.2h0.9v0.9h-0.9zM149.9 160.5h0.9v0.9h-0.9zM166.8 163.3h0.9v0.9h-0.9zM145.8 160.5h0.9v0.9h-0.9zM150.7 164.9h0.9v0.9h-0.9zM160.5 174.2h0.9v0.9h-0.9zM162.9 166.1h0.9v0.9h-0.9zM162.8 162.6h0.9v0.9h-0.9zM169.1 166.6h0.9v0.9h-0.9zM155.3 166.2h0.9v0.9h-0.9zM165.9 141.9h0.9v0.9h-0.9zM161.5 150.3h0.9v0.9h-0.9zM145.6 156.5h0.9v0.9h-0.9zM169.5 126.9h0.9v0.9h-0.9zM157.3 122.7h0.9v0.9h-0.9zM165.7 124.9h0.9v0.9h-0.9zM163.3 147.4h0.9v0.9h-0.9zM168.2 127.4h0.9v0.9h-0.9zM145.7 144.7h0.9v0.9h-0.9zM163.6 124.5h0.9v0.9h-0.9zM147.1 145.8h0.9v0.9h-0.9zM170.3 135.8h0.9v0.9h-0.9zM163.0 148.4h0.9v0.9h-0.9zM147.0 126.3h0.9v0.9h-0.9zM171.1 130.2h0.9v0.9h-0.9zM151.6 122.5h0.9v0.9h-0.9zM160.6 122.4h0.9v0.9h-0.9zM144.3 138.8h0.9v0.9h-0.9zM143.8 132.6h0.9v0.9h-0.9zM162.9 123.5h0.9v0.9h-0.9zM143.4 128.1h0.9v0.9h-0.9zM143.5 139.8h0.9v0.9h-0.9zM149.6 147.5h0.9v0.9h-0.9zM159.9 149.5h0.9v0.9h-0.9zM171.2 137.9h0.9v0.9h-0.9zM143.0 132.1h0.9v0.9h-0.9zM165.3 146.4h0.9v0.9h-0.9zM169.2 141.0h0.9v0.9h-0.9zM142.6 136.9h0.9v0.9h-0.9zM154.5 122.8h0.9v0.9h-0.9zM169.9 127.5h0.9v0.9h-0.9zM143.5 141.1h0.9v0.9h-0.9zM166.5 125.0h0.9v0.9h-0.9zM166.1 144.1h0.9v0.9h-0.9zM163.7 146.7h0.9v0.9h-0.9zM152.3 147.9h0.9v0.9h-0.9zM156.8 123.3h0.9v0.9h-0.9zM168.3 128.0h0.9v0.9h-0.9zM179.1 159.1h0.9v0.9h-0.9zM178.6 143.2h0.9v0.9h-0.9zM179.7 136.0h0.9v0.9h-0.9zM176.9 154.9h0.9v0.9h-0.9zM180.3 148.5h0.9v0.9h-0.9zM178.4 129.6h0.9v0.9h-0.9zM177.7 165.8h0.9v0.9h-0.9zM177.4 128.6h0.9v0.9h-0.9zM174.8 127.2h0.9v0.9h-0.9zM176.5 165.5h0.9v0.9h-0.9zM177.9 152.8h0.9v0.9h-0.9zM178.4 154.0h0.9v0.9h-0.9zM177.4 143.7h0.9v0.9h-0.9zM175.7 171.3h0.9v0.9h-0.9zM179.6 153.9h0.9v0.9h-0.9zM177.6 126.5h0.9v0.9h-0.9zM178.0 161.1h0.9v0.9h-0.9zM179.3 143.1h0.9v0.9h-0.9zM179.1 129.1h0.9v0.9h-0.9zM179.4 151.6h0.9v0.9h-0.9zM178.9 145.2h0.9v0.9h-0.9zM178.8 154.1h0.9v0.9h-0.9zM177.1 158.4h0.9v0.9h-0.9zM169.9 158.6h0.9v0.9h-0.9zM171.4 129.1h0.9v0.9h-0.9zM171.5 151.1h0.9v0.9h-0.9zM170.9 153.3h0.9v0.9h-0.9zM171.3 134.0h0.9v0.9h-0.9zM170.0 146.9h0.9v0.9h-0.9zM171.9 144.4h0.9v0.9h-0.9zM169.2 158.6h0.9v0.9h-0.9zM169.7 151.9h0.9v0.9h-0.9zM169.9 152.6h0.9v0.9h-0.9zM169.9 150.8h0.9v0.9h-0.9zM170.2 170.9h0.9v0.9h-0.9zM169.6 128.1h0.9v0.9h-0.9zM169.4 127.4h0.9v0.9h-0.9zM146.4 153.0h0.9v0.9h-0.9zM195.0 139.0h0.9v0.9h-0.9zM162.8 157.7h0.9v0.9h-0.9zM141.2 117.9h0.9v0.9h-0.9zM171.1 125.8h0.9v0.9h-0.9zM177.5 118.6h0.9v0.9h-0.9zM168.2 172.3h0.9v0.9h-0.9zM186.9 143.7h0.9v0.9h-0.9zM178.6 154.3h0.9v0.9h-0.9zM162.0 171.4h0.9v0.9h-0.9zM142.2 111.3h0.9v0.9h-0.9zM181.8 130.9h0.9v0.9h-0.9zM190.3 129.6h0.9v0.9h-0.9zM152.0 145.9h0.9v0.9h-0.9zM178.2 135.8h0.9v0.9h-0.9zM189.7 143.7h0.9v0.9h-0.9zM196.3 167.3h0.9v0.9h-0.9zM159.7 172.5h0.9v0.9h-0.9zM150.4 149.6h0.9v0.9h-0.9z" fill="#888"/>
<path d="M166.4 158.6h0.9v0.9h-0.9zM155.2 162.1h0.9v0.9h-0.9zM163.1 166.8h0.9v0.9h-0.9zM160.4 161.3h0.9v0.9h-0.9zM159.5 168.9h0.9v0.9h-0.9zM161.1 159.0h0.9v0.9h-0.9zM159.8 166.0h0.9v0.9h-0.9zM158.3 164.9h0.9v0.9h-0.9zM171.0 156.0h0.9v0.9h-0.9zM138.9 165.5h0.9v0.9h-0.9zM152.2 160.7h0.9v0.9h-0.9zM145.1 168.4h0.9v0.9h-0.9zM157.0 165.2h0.9v0.9h-0.9zM175.5 153.4h0.9v0.9h-0.9zM148.7 145.4h0.9v0.9h-0.9zM170.6 168.3h0.9v0.9h-0.9zM153.2 159.7h0.9v0.9h-0.9zM164.0 157.5h0.9v0.9h-0.9zM166.3 157.5h0.9v0.9h-0.9zM157.8 169.7h0.9v0.9h-0.9zM175.2 158.1h0.9v0.9h-0.9zM169.6 166.9h0.9v0.9h-0.9zM162.1 155.7h0.9v0.9h-0.9zM171.4 155.2h0.9v0.9h-0.9zM151.5 168.2h0.9v0.9h-0.9zM159.6 159.3h0.9v0.9h-0.9zM165.3 157.6h0.9v0.9h-0.9zM162.4 156.6h0.9v0.9h-0.9zM155.9 160.5h0.9v0.9h-0.9zM169.6 160.7h0.9v0.9h-0.9zM157.1 162.5h0.9v0.9h-0.9zM159.2 169.3h0.9v0.9h-0.9zM156.6 159.7h0.9v0.9h-0.9zM160.1 143.2h0.9v0.9h-0.9zM180.6 154.6h0.9v0.9h-0.9zM161.3 160.0h0.9v0.9h-0.9zM157.4 166.0h0.9v0.9h-0.9zM156.0 141.3h0.9v0.9h-0.9zM167.3 160.8h0.9v0.9h-0.9zM156.4 158.7h0.9v0.9h-0.9zM154.6 149.2h0.9v0.9h-0.9zM171.9 163.9h0.9v0.9h-0.9zM167.4 161.8h0.9v0.9h-0.9zM155.4 139.5h0.9v0.9h-0.9zM159.4 149.5h0.9v0.9h-0.9zM168.4 159.2h0.9v0.9h-0.9zM184.2 162.1h0.9v0.9h-0.9zM149.9 162.3h0.9v0.9h-0.9zM155.4 155.1h0.9v0.9h-0.9zM143.2 131.7h0.9v0.9h-0.9zM169.3 134.1h0.9v0.9h-0.9zM147.2 145.3h0.9v0.9h-0.9zM171.3 134.6h0.9v0.9h-0.9zM170.1 133.0h0.9v0.9h-0.9zM170.0 139.3h0.9v0.9h-0.9zM147.7 147.1h0.9v0.9h-0.9zM157.3 123.6h0.9v0.9h-0.9zM144.3 135.8h0.9v0.9h-0.9zM144.6 140.7h0.9v0.9h-0.9zM144.5 129.2h0.9v0.9h-0.9zM143.4 136.6h0.9v0.9h-0.9zM168.6 126.8h0.9v0.9h-0.9zM167.1 126.0h0.9v0.9h-0.9zM146.3 129.4h0.9v0.9h-0.9zM145.2 143.5h0.9v0.9h-0.9zM152.4 146.5h0.9v0.9h-0.9zM168.3 131.9h0.9v0.9h-0.9zM170.7 139.5h0.9v0.9h-0.9zM161.4 146.6h0.9v0.9h-0.9zM145.3 126.8h0.9v0.9h-0.9zM169.3 129.7h0.9v0.9h-0.9zM161.9 148.7h0.9v0.9h-0.9zM178.0 163.7h0.9v0.9h-0.9zM179.2 170.0h0.9v0.9h-0.9zM176.8 134.7h0.9v0.9h-0.9zM178.8 139.7h0.9v0.9h-0.9zM178.2 161.7h0.9v0.9h-0.9zM178.0 132.3h0.9v0.9h-0.9zM182.0 145.1h0.9v0.9h-0.9zM179.5 152.1h0.9v0.9h-0.9zM175.7 134.5h0.9v0.9h-0.9zM177.1 161.5h0.9v0.9h-0.9zM175.8 168.4h0.9v0.9h-0.9zM178.3 132.8h0.9v0.9h-0.9zM179.0 127.0h0.9v0.9h-0.9zM179.3 172.4h0.9v0.9h-0.9zM177.6 142.4h0.9v0.9h-0.9zM178.0 152.8h0.9v0.9h-0.9zM178.1 152.3h0.9v0.9h-0.9zM178.7 152.7h0.9v0.9h-0.9zM172.1 146.9h0.9v0.9h-0.9zM171.8 151.1h0.9v0.9h-0.9zM168.3 130.8h0.9v0.9h-0.9zM171.8 148.6h0.9v0.9h-0.9zM169.4 129.2h0.9v0.9h-0.9zM169.6 152.0h0.9v0.9h-0.9zM170.3 144.4h0.9v0.9h-0.9zM172.4 172.9h0.9v0.9h-0.9zM170.1 169.8h0.9v0.9h-0.9zM168.8 155.1h0.9v0.9h-0.9zM170.1 126.6h0.9v0.9h-0.9zM170.8 166.8h0.9v0.9h-0.9zM164.7 141.3h0.9v0.9h-0.9zM165.4 155.5h0.9v0.9h-0.9zM142.6 150.0h0.9v0.9h-0.9zM139.0 175.0h0.9v0.9h-0.9zM141.6 169.8h0.9v0.9h-0.9zM153.8 169.2h0.9v0.9h-0.9zM161.0 123.1h0.9v0.9h-0.9zM173.9 144.0h0.9v0.9h-0.9zM187.1 125.3h0.9v0.9h-0.9zM149.0 136.6h0.9v0.9h-0.9zM191.5 153.0h0.9v0.9h-0.9zM159.5 139.4h0.9v0.9h-0.9zM174.9 132.1h0.9v0.9h-0.9zM180.2 148.1h0.9v0.9h-0.9zM158.8 132.7h0.9v0.9h-0.9zM164.6 148.6h0.9v0.9h-0.9zM168.9 116.5h0.9v0.9h-0.9zM183.4 111.8h0.9v0.9h-0.9zM147.9 130.2h0.9v0.9h-0.9zM158.5 160.9h0.9v0.9h-0.9z" fill="#555"/>
<path d="M160.9 155.0h0.9v0.9h-0.9zM149.4 145.0h0.9v0.9h-0.9zM149.6 156.8h0.9v0.9h-0.9zM155.1 163.2h0.9v0.9h-0.9zM160.2 154.9h0.9v0.9h-0.9zM150.3 152.7h0.9v0.9h-0.9zM156.3 154.4h0.9v0.9h-0.9zM159.9 160.8h0.9v0.9h-0.9zM149.8 158.7h0.9v0.9h-0.9zM170.3 157.6h0.9v0.9h-0.9zM150.1 170.2h0.9v0.9h-0.9zM149.7 174.5h0.9v0.9h-0.9zM173.9 162.5h0.9v0.9h-0.9zM157.1 160.1h0.9v0.9h-0.9zM157.6 168.5h0.9v0.9h-0.9zM152.1 165.2h0.9v0.9h-0.9zM167.0 142.5h0.9v0.9h-0.9zM152.5 164.4h0.9v0.9h-0.9zM143.6 165.0h0.9v0.9h-0.9zM152.2 166.9h0.9v0.9h-0.9zM158.3 162.6h0.9v0.9h-0.9zM151.6 160.7h0.9v0.9h-0.9zM158.3 154.8h0.9v0.9h-0.9zM160.3 154.3h0.9v0.9h-0.9zM149.3 145.3h0.9v0.9h-0.9zM154.3 122.6h0.9v0.9h-0.9zM143.7 134.4h0.9v0.9h-0.9zM146.2 128.4h0.9v0.9h-0.9zM144.1 133.6h0.9v0.9h-0.9zM142.8 135.6h0.9v0.9h-0.9zM165.8 124.4h0.9v0.9h-0.9zM171.4 138.2h0.9v0.9h-0.9zM152.2 125.0h0.9v0.9h-0.9zM171.3 138.7h0.9v0.9h-0.9zM167.9 143.6h0.9v0.9h-0.9zM149.5 125.0h0.9v0.9h-0.9zM152.2 148.9h0.9v0.9h-0.9zM160.6 146.2h0.9v0.9h-0.9zM145.5 144.0h0.9v0.9h-0.9zM161.3 123.2h0.9v0.9h-0.9zM156.0 147.3h0.9v0.9h-0.9zM169.5 141.7h0.9v0.9h-0.9zM143.7 131.1h0.9v0.9h-0.9zM152.1 124.7h0.9v0.9h-0.9zM171.5 134.0h0.9v0.9h-0.9zM142.4 131.7h0.9v0.9h-0.9zM156.2 123.7h0.9v0.9h-0.9zM143.6 139.1h0.9v0.9h-0.9zM143.1 133.2h0.9v0.9h-0.9zM171.8 132.4h0.9v0.9h-0.9zM170.9 138.1h0.9v0.9h-0.9zM170.1 129.6h0.9v0.9h-0.9zM153.3 148.7h0.9v0.9h-0.9zM169.0 134.3h0.9v0.9h-0.9zM147.3 144.4h0.9v0.9h-0.9zM170.4 137.3h0.9v0.9h-0.9zM169.5 143.5h0.9v0.9h-0.9zM168.4 143.9h0.9v0.9h-0.9zM155.4 121.0h0.9v0.9h-0.9zM144.0 141.4h0.9v0.9h-0.9zM161.2 124.1h0.9v0.9h-0.9zM161.9 124.3h0.9v0.9h-0.9zM145.1 136.5h0.9v0.9h-0.9zM167.8 127.3h0.9v0.9h-0.9zM159.5 148.2h0.9v0.9h-0.9zM148.5 125.4h0.9v0.9h-0.9zM149.7 145.3h0.9v0.9h-0.9zM165.2 123.5h0.9v0.9h-0.9zM171.4 134.3h0.9v0.9h-0.9zM171.4 139.5h0.9v0.9h-0.9zM179.9 172.2h0.9v0.9h-0.9zM175.6 170.1h0.9v0.9h-0.9zM178.4 137.5h0.9v0.9h-0.9zM175.8 149.8h0.9v0.9h-0.9zM177.5 141.8h0.9v0.9h-0.9zM175.2 134.2h0.9v0.9h-0.9zM178.7 142.4h0.9v0.9h-0.9zM177.4 161.9h0.9v0.9h-0.9zM178.4 158.9h0.9v0.9h-0.9zM179.7 143.4h0.9v0.9h-0.9zM176.5 147.5h0.9v0.9h-0.9zM176.0 145.6h0.9v0.9h-0.9zM176.2 151.7h0.9v0.9h-0.9zM179.4 158.1h0.9v0.9h-0.9zM177.7 161.8h0.9v0.9h-0.9zM177.8 150.6h0.9v0.9h-0.9zM179.1 165.7h0.9v0.9h-0.9zM180.2 157.5h0.9v0.9h-0.9zM176.9 145.1h0.9v0.9h-0.9zM177.0 146.2h0.9v0.9h-0.9zM180.4 168.6h0.9v0.9h-0.9zM179.2 163.0h0.9v0.9h-0.9zM170.8 160.0h0.9v0.9h-0.9zM170.4 149.0h0.9v0.9h-0.9zM170.6 147.6h0.9v0.9h-0.9zM169.3 172.2h0.9v0.9h-0.9zM170.1 138.7h0.9v0.9h-0.9zM169.3 171.7h0.9v0.9h-0.9zM170.9 143.1h0.9v0.9h-0.9zM170.0 142.7h0.9v0.9h-0.9zM169.3 146.4h0.9v0.9h-0.9zM170.3 158.2h0.9v0.9h-0.9zM169.9 143.2h0.9v0.9h-0.9zM171.5 166.7h0.9v0.9h-0.9zM169.6 168.6h0.9v0.9h-0.9zM170.0 149.5h0.9v0.9h-0.9zM170.3 137.8h0.9v0.9h-0.9zM170.8 165.3h0.9v0.9h-0.9zM170.7 130.8h0.9v0.9h-0.9zM145.8 111.6h0.9v0.9h-0.9zM173.9 150.2h0.9v0.9h-0.9zM160.0 164.9h0.9v0.9h-0.9zM187.4 153.5h0.9v0.9h-0.9zM182.8 118.4h0.9v0.9h-0.9zM181.6 168.2h0.9v0.9h-0.9zM160.8 120.0h0.9v0.9h-0.9zM148.3 174.8h0.9v0.9h-0.9zM145.7 128.7h0.9v0.9h-0.9zM194.5 171.7h0.9v0.9h-0.9zM161.0 159.3h0.9v0.9h-0.9zM168.2 174.2h0.9v0.9h-0.9zM138.9 138.6h0.9v0.9h-0.9zM183.0 144.9h0.9v0.9h-0.9zM179.5 112.3h0.9v0.9h-0.9zM165.9 159.5h0.9v0.9h-0.9zM187.8 144.8h0.9v0.9h-0.9zM180.2 134.3h0.9v0.9h-0.9z" fill="#3a3a3a"/>
<path d="M159.2 152.3h0.9v0.9h-0.9zM155.2 160.1h0.9v0.9h-0.9zM158.9 167.2h0.9v0.9h-0.9zM167.8 164.8h0.9v0.9h-0.9zM173.2 159.7h0.9v0.9h-0.9zM148.7 153.7h0.9v0.9h-0.9zM154.3 158.8h0.9v0.9h-0.9zM150.9 164.6h0.9v0.9h-0.9zM157.7 156.6h0.9v0.9h-0.9zM171.1 162.6h0.9v0.9h-0.9zM171.7 161.6h0.9v0.9h-0.9zM153.2 174.2h0.9v0.9h-0.9zM161.4 158.3h0.9v0.9h-0.9zM160.1 163.1h0.9v0.9h-0.9zM160.4 171.7h0.9v0.9h-0.9zM165.2 152.3h0.9v0.9h-0.9zM162.4 160.0h0.9v0.9h-0.9zM148.9 159.5h0.9v0.9h-0.9zM168.4 160.7h0.9v0.9h-0.9zM158.0 153.8h0.9v0.9h-0.9zM152.7 162.6h0.9v0.9h-0.9zM147.8 157.2h0.9v0.9h-0.9zM160.5 173.5h0.9v0.9h-0.9zM152.2 158.4h0.9v0.9h-0.9zM163.1 169.6h0.9v0.9h-0.9zM156.5 173.7h0.9v0.9h-0.9zM162.3 159.1h0.9v0.9h-0.9zM172.0 162.2h0.9v0.9h-0.9zM170.1 161.9h0.9v0.9h-0.9zM154.2 167.3h0.9v0.9h-0.9zM167.4 146.1h0.9v0.9h-0.9zM146.0 163.3h0.9v0.9h-0.9zM147.1 144.1h0.9v0.9h-0.9zM171.2 138.4h0.9v0.9h-0.9zM167.8 127.3h0.9v0.9h-0.9zM143.5 135.5h0.9v0.9h-0.9zM142.7 139.2h0.9v0.9h-0.9zM167.3 129.2h0.9v0.9h-0.9zM148.9 125.9h0.9v0.9h-0.9zM150.1 145.4h0.9v0.9h-0.9zM170.9 140.7h0.9v0.9h-0.9zM152.6 148.2h0.9v0.9h-0.9zM162.7 148.0h0.9v0.9h-0.9zM148.1 143.8h0.9v0.9h-0.9zM170.5 136.2h0.9v0.9h-0.9zM168.1 127.5h0.9v0.9h-0.9zM146.3 141.7h0.9v0.9h-0.9zM147.5 124.7h0.9v0.9h-0.9zM144.7 129.2h0.9v0.9h-0.9zM164.4 146.5h0.9v0.9h-0.9zM148.2 146.2h0.9v0.9h-0.9zM153.8 149.3h0.9v0.9h-0.9zM159.3 147.5h0.9v0.9h-0.9zM152.0 149.5h0.9v0.9h-0.9zM142.5 134.3h0.9v0.9h-0.9zM168.1 143.0h0.9v0.9h-0.9zM144.8 142.6h0.9v0.9h-0.9zM153.0 122.4h0.9v0.9h-0.9zM164.7 147.5h0.9v0.9h-0.9zM155.6 121.8h0.9v0.9h-0.9zM157.6 121.7h0.9v0.9h-0.9zM142.5 134.5h0.9v0.9h-0.9zM160.3 122.9h0.9v0.9h-0.9zM145.7 128.2h0.9v0.9h-0.9zM169.1 130.2h0.9v0.9h-0.9zM149.9 125.6h0.9v0.9h-0.9zM150.1 124.6h0.9v0.9h-0.9zM154.1 150.3h0.9v0.9h-0.9zM167.5 126.7h0.9v0.9h-0.9zM168.4 128.6h0.9v0.9h-0.9zM179.1 135.3h0.9v0.9h-0.9zM175.6 155.1h0.9v0.9h-0.9zM177.9 131.0h0.9v0.9h-0.9zM176.8 147.2h0.9v0.9h-0.9zM178.5 165.0h0.9v0.9h-0.9zM179.1 140.9h0.9v0.9h-0.9zM177.7 168.3h0.9v0.9h-0.9zM177.6 143.3h0.9v0.9h-0.9zM175.2 158.5h0.9v0.9h-0.9zM177.1 138.5h0.9v0.9h-0.9zM181.0 171.7h0.9v0.9h-0.9zM176.8 168.2h0.9v0.9h-0.9zM179.5 134.0h0.9v0.9h-0.9zM178.4 155.1h0.9v0.9h-0.9zM176.1 167.2h0.9v0.9h-0.9zM178.7 130.1h0.9v0.9h-0.9zM178.5 146.1h0.9v0.9h-0.9zM179.6 138.1h0.9v0.9h-0.9zM176.1 128.8h0.9v0.9h-0.9zM177.6 158.5h0.9v0.9h-0.9zM169.8 140.0h0.9v0.9h-0.9zM171.2 161.2h0.9v0.9h-0.9zM170.5 128.5h0.9v0.9h-0.9zM169.7 139.6h0.9v0.9h-0.9zM169.8 129.8h0.9v0.9h-0.9zM171.1 139.2h0.9v0.9h-0.9zM170.6 153.0h0.9v0.9h-0.9zM171.6 151.5h0.9v0.9h-0.9zM170.2 143.2h0.9v0.9h-0.9zM171.9 153.9h0.9v0.9h-0.9zM169.8 154.5h0.9v0.9h-0.9zM169.9 168.2h0.9v0.9h-0.9zM172.6 128.2h0.9v0.9h-0.9zM138.4 129.1h0.9v0.9h-0.9zM185.6 128.1h0.9v0.9h-0.9zM181.4 164.3h0.9v0.9h-0.9zM167.3 133.2h0.9v0.9h-0.9zM167.3 131.8h0.9v0.9h-0.9zM132.6 156.9h0.9v0.9h-0.9zM166.6 158.2h0.9v0.9h-0.9zM143.9 158.0h0.9v0.9h-0.9zM180.0 159.2h0.9v0.9h-0.9zM137.0 157.7h0.9v0.9h-0.9zM157.5 162.4h0.9v0.9h-0.9zM148.0 164.9h0.9v0.9h-0.9zM135.9 136.1h0.9v0.9h-0.9zM143.9 145.8h0.9v0.9h-0.9zM146.8 164.2h0.9v0.9h-0.9zM173.6 137.9h0.9v0.9h-0.9zM141.4 134.0h0.9v0.9h-0.9zM163.7 156.9h0.9v0.9h-0.9zM136.0 118.0h0.9v0.9h-0.9zM162.4 158.0h0.9v0.9h-0.9zM143.4 114.3h0.9v0.9h-0.9z" fill="#aaa"/>
<path d="M139.9 167.8h0.9v0.9h-0.9zM164.0 163.4h0.9v0.9h-0.9zM173.3 159.7h0.9v0.9h-0.9zM167.7 164.9h0.9v0.9h-0.9zM159.6 175.0h0.9v0.9h-0.9zM164.4 161.3h0.9v0.9h-0.9zM145.3 160.4h0.9v0.9h-0.9zM149.2 144.3h0.9v0.9h-0.9zM161.6 160.6h0.9v0.9h-0.9zM150.3 172.8h0.9v0.9h-0.9zM161.2 162.0h0.9v0.9h-0.9zM157.5 154.8h0.9v0.9h-0.9zM148.7 153.9h0.9v0.9h-0.9zM157.2 169.8h0.9v0.9h-0.9zM156.3 158.2h0.9v0.9h-0.9zM156.1 158.0h0.9v0.9h-0.9zM153.9 154.3h0.9v0.9h-0.9zM151.3 162.1h0.9v0.9h-0.9zM146.2 151.4h0.9v0.9h-0.9zM161.0 155.2h0.9v0.9h-0.9zM166.5 162.7h0.9v0.9h-0.9zM154.7 153.8h0.9v0.9h-0.9zM171.7 170.2h0.9v0.9h-0.9zM159.6 152.9h0.9v0.9h-0.9zM143.1 129.1h0.9v0.9h-0.9zM167.0 126.4h0.9v0.9h-0.9zM144.1 130.4h0.9v0.9h-0.9zM151.2 124.3h0.9v0.9h-0.9zM171.1 135.2h0.9v0.9h-0.9zM166.8 127.9h0.9v0.9h-0.9zM155.0 122.5h0.9v0.9h-0.9zM148.9 126.0h0.9v0.9h-0.9zM148.0 143.3h0.9v0.9h-0.9zM148.9 126.1h0.9v0.9h-0.9zM143.7 132.2h0.9v0.9h-0.9zM156.1 121.7h0.9v0.9h-0.9zM148.0 145.6h0.9v0.9h-0.9zM145.5 129.6h0.9v0.9h-0.9zM168.2 128.6h0.9v0.9h-0.9zM166.0 144.7h0.9v0.9h-0.9zM164.7 124.8h0.9v0.9h-0.9zM163.5 147.0h0.9v0.9h-0.9zM148.6 145.8h0.9v0.9h-0.9zM170.1 139.0h0.9v0.9h-0.9zM149.2 122.4h0.9v0.9h-0.9zM169.1 142.5h0.9v0.9h-0.9zM148.5 126.1h0.9v0.9h-0.9zM146.1 142.3h0.9v0.9h-0.9zM150.3 144.8h0.9v0.9h-0.9zM162.1 147.0h0.9v0.9h-0.9zM158.7 148.4h0.9v0.9h-0.9zM169.3 142.9h0.9v0.9h-0.9zM141.7 136.6h0.9v0.9h-0.9zM156.9 148.5h0.9v0.9h-0.9zM169.8 130.5h0.9v0.9h-0.9zM154.6 123.3h0.9v0.9h-0.9zM165.0 147.2h0.9v0.9h-0.9zM156.2 123.2h0.9v0.9h-0.9zM168.9 139.6h0.9v0.9h-0.9zM156.7 148.9h0.9v0.9h-0.9zM145.0 140.3h0.9v0.9h-0.9zM156.6 148.0h0.9v0.9h-0.9zM151.2 121.5h0.9v0.9h-0.9zM155.1 149.7h0.9v0.9h-0.9zM142.8 141.9h0.9v0.9h-0.9zM163.7 126.7h0.9v0.9h-0.9zM170.4 137.4h0.9v0.9h-0.9zM170.1 131.2h0.9v0.9h-0.9zM148.6 125.8h0.9v0.9h-0.9zM169.2 131.5h0.9v0.9h-0.9zM169.5 138.8h0.9v0.9h-0.9zM157.3 122.5h0.9v0.9h-0.9zM178.4 158.7h0.9v0.9h-0.9zM178.7 132.6h0.9v0.9h-0.9zM179.2 148.3h0.9v0.9h-0.9zM179.4 156.2h0.9v0.9h-0.9zM176.7 128.5h0.9v0.9h-0.9zM176.6 126.1h0.9v0.9h-0.9zM179.7 128.0h0.9v0.9h-0.9zM177.8 158.6h0.9v0.9h-0.9zM178.4 130.5h0.9v0.9h-0.9zM177.3 159.6h0.9v0.9h-0.9zM176.0 170.6h0.9v0.9h-0.9zM177.2 137.5h0.9v0.9h-0.9zM176.7 153.4h0.9v0.9h-0.9zM178.6 133.5h0.9v0.9h-0.9zM176.8 165.0h0.9v0.9h-0.9zM178.7 159.6h0.9v0.9h-0.9zM181.1 135.1h0.9v0.9h-0.9zM178.4 164.3h0.9v0.9h-0.9zM177.2 126.6h0.9v0.9h-0.9zM177.7 139.5h0.9v0.9h-0.9zM176.5 145.0h0.9v0.9h-0.9zM176.2 139.4h0.9v0.9h-0.9zM179.0 142.7h0.9v0.9h-0.9zM176.1 141.0h0.9v0.9h-0.9zM180.5 161.4h0.9v0.9h-0.9zM178.7 142.1h0.9v0.9h-0.9zM177.2 131.1h0.9v0.9h-0.9zM171.2 159.5h0.9v0.9h-0.9zM170.0 164.0h0.9v0.9h-0.9zM170.3 156.5h0.9v0.9h-0.9zM171.3 166.2h0.9v0.9h-0.9zM171.2 138.3h0.9v0.9h-0.9zM169.5 134.3h0.9v0.9h-0.9zM172.7 170.8h0.9v0.9h-0.9zM171.7 156.1h0.9v0.9h-0.9zM172.0 156.5h0.9v0.9h-0.9zM172.1 141.1h0.9v0.9h-0.9zM172.2 157.9h0.9v0.9h-0.9zM170.4 165.5h0.9v0.9h-0.9zM169.3 147.9h0.9v0.9h-0.9zM170.6 144.8h0.9v0.9h-0.9zM170.5 141.1h0.9v0.9h-0.9zM163.2 148.1h0.9v0.9h-0.9zM137.8 129.5h0.9v0.9h-0.9zM184.8 111.3h0.9v0.9h-0.9zM144.0 154.8h0.9v0.9h-0.9zM156.9 156.7h0.9v0.9h-0.9zM178.3 137.1h0.9v0.9h-0.9zM134.7 148.8h0.9v0.9h-0.9zM186.3 153.6h0.9v0.9h-0.9zM151.0 113.7h0.9v0.9h-0.9zM156.7 119.0h0.9v0.9h-0.9zM195.2 160.8h0.9v0.9h-0.9zM164.5 142.5h0.9v0.9h-0.9zM180.1 128.0h0.9v0.9h-0.9zM158.9 141.2h0.9v0.9h-0.9zM187.2 147.0h0.9v0.9h-0.9zM160.6 161.3h0.9v0.9h-0.9zM169.4 172.0h0.9v0.9h-0.9zM147.7 161.7h0.9v0.9h-0.9zM148.6 157.6h0.9v0.9h-0.9zM168.7 159.4h0.9v0.9h-0.9zM147.0 152.2h0.9v0.9h-0.9z" fill="#222"/>
<path d="M144.50 128.50C144.50 127.00 145.08 125.82 146.00 125.00C146.92 124.18 148.33 123.87 150.00 123.60C151.67 123.33 154.08 123.33 156.00 123.40C157.92 123.47 159.83 123.65 161.50 124.00C163.17 124.35 164.78 124.67 166.00 125.50C167.22 126.33 168.23 127.42 168.80 129.00C169.37 130.58 169.37 133.00 169.40 135.00C169.43 137.00 169.30 139.08 169.00 141.00C168.70 142.92 168.18 145.20 167.60 146.50C167.02 147.80 166.43 148.55 165.50 148.80C164.57 149.05 163.25 148.55 162.00 148.00C160.75 147.45 159.50 146.50 158.00 145.50C156.50 144.50 154.50 143.17 153.00 142.00C151.50 140.83 150.17 139.83 149.00 138.50C147.83 137.17 146.75 135.67 146.00 134.00C145.25 132.33 144.50 130.00 144.50 128.50Z" fill="#f2f2f2" stroke="#222" stroke-width="1.0"/>
<path d="M146.00 128.80C146.00 127.48 146.51 126.44 147.32 125.72C148.13 125.00 149.37 124.72 150.84 124.49C152.31 124.25 154.43 124.25 156.12 124.31C157.81 124.37 159.49 124.53 160.96 124.84C162.43 125.15 163.85 125.43 164.92 126.16C165.99 126.89 166.89 127.85 167.38 129.24C167.88 130.63 167.88 132.76 167.91 134.52C167.94 136.28 167.82 138.11 167.56 139.80C167.30 141.49 166.84 143.50 166.33 144.64C165.81 145.78 165.30 146.44 164.48 146.66C163.66 146.88 162.50 146.44 161.40 145.96C160.30 145.48 159.20 144.64 157.88 143.76C156.56 142.88 154.80 141.71 153.48 140.68C152.16 139.65 150.99 138.77 149.96 137.60C148.93 136.43 147.98 135.11 147.32 133.64C146.66 132.17 146.00 130.12 146.00 128.80Z" fill="#e2e2e2" stroke="#555" stroke-width="0.5"/>
<path d="M147.50 129.10C147.50 127.96 147.94 127.06 148.64 126.44C149.34 125.82 150.41 125.58 151.68 125.38C152.95 125.17 154.78 125.17 156.24 125.22C157.70 125.27 159.15 125.41 160.42 125.68C161.69 125.95 162.92 126.19 163.84 126.82C164.76 127.45 165.54 128.28 165.97 129.48C166.40 130.68 166.40 132.52 166.42 134.04C166.45 135.56 166.35 137.14 166.12 138.60C165.89 140.06 165.50 141.79 165.06 142.78C164.61 143.77 164.17 144.34 163.46 144.53C162.75 144.72 161.75 144.34 160.80 143.92C159.85 143.50 158.90 142.78 157.76 142.02C156.62 141.26 155.10 140.25 153.96 139.36C152.82 138.47 151.81 137.71 150.92 136.70C150.03 135.69 149.21 134.55 148.64 133.28C148.07 132.01 147.50 130.24 147.50 129.10Z" fill="#d0d0d0" stroke="#555" stroke-width="0.5"/>
<path d="M149.00 129.40C149.00 128.44 149.37 127.68 149.96 127.16C150.55 126.64 151.45 126.43 152.52 126.26C153.59 126.09 155.13 126.09 156.36 126.14C157.59 126.18 158.81 126.30 159.88 126.52C160.95 126.74 161.98 126.95 162.76 127.48C163.54 128.01 164.19 128.71 164.55 129.72C164.91 130.73 164.91 132.28 164.94 133.56C164.96 134.84 164.87 136.17 164.68 137.40C164.49 138.63 164.16 140.09 163.78 140.92C163.41 141.75 163.04 142.23 162.44 142.39C161.84 142.55 161.00 142.23 160.20 141.88C159.40 141.53 158.60 140.92 157.64 140.28C156.68 139.64 155.40 138.79 154.44 138.04C153.48 137.29 152.63 136.65 151.88 135.80C151.13 134.95 150.44 133.99 149.96 132.92C149.48 131.85 149.00 130.36 149.00 129.40Z" fill="#bcbcbc" stroke="#555" stroke-width="0.5"/>
<ellipse cx="155.50" cy="131.00" rx="9.00" ry="7.00" transform="rotate(0 155.50 131.00)" fill="#a4a4a4" stroke="#333" stroke-width="0.45"/>
<ellipse cx="155.50" cy="131.00" rx="7.20" ry="5.60" transform="rotate(0 155.50 131.00)" fill="#8a8a8a" stroke="#333" stroke-width="0.45"/>
<ellipse cx="155.50" cy="131.00" rx="5.76" ry="4.48" transform="rotate(0 155.50 131.00)" fill="#6c6c6c" stroke="#333" stroke-width="0.45"/>
<ellipse cx="155.50" cy="131.00" rx="4.61" ry="3.58" transform="rotate(0 155.50 131.00)" fill="#4e4e4e" stroke="#333" stroke-width="0.45"/>
<ellipse cx="155.50" cy="131.00" rx="3.69" ry="2.87" transform="rotate(0 155.50 131.00)" fill="#333" stroke="#333" stroke-width="0.45"/>
<path d="M148 127 C151 124.5 156 124 162 124.8" fill="none" stroke="#111" stroke-width="1.2"/>
<ellipse cx="156.8" cy="131.5" rx="1.2" ry="1.4" fill="#ccc"/>
<path d="M161.5 146.5 C162 144.5 165 144 166.5 145.5 C167.5 147 166 149 164 149 C162.5 149 161.3 148 161.5 146.5Z" fill="#f4f4f4" stroke="#222" stroke-width="0.7"/>
<path d="M170.30 127.50C170.62 125.95 171.47 125.95 172.30 125.70C173.13 125.45 174.53 125.45 175.30 126.00C176.07 126.55 176.57 126.67 176.90 129.00C177.23 131.33 177.20 135.67 177.30 140.00C177.40 144.33 177.55 150.83 177.50 155.00C177.45 159.17 177.32 162.28 177.00 165.00C176.68 167.72 176.17 170.05 175.60 171.30C175.03 172.55 174.25 172.72 173.60 172.50C172.95 172.28 172.15 172.08 171.70 170.00C171.25 167.92 171.08 164.17 170.90 160.00C170.72 155.83 170.68 149.17 170.60 145.00C170.52 140.83 170.45 137.92 170.40 135.00C170.35 132.08 169.98 129.05 170.30 127.50Z" fill="#f2f2f2" stroke="#333" stroke-width="0.8"/>
<path d="M170.9 128 C170.6 140 170.8 158 171.7 170" fill="none" stroke="#111" stroke-width="1.3"/>
<path d="M172.8 131 C174 128.8 175.4 130 175.5 133 C175.8 145 175.8 157 175 166 C174.4 168 173.4 167.5 173.2 165 C172.8 155 172.6 142 172.8 131Z" fill="#e4e4e4" stroke="#777" stroke-width="0.5"/>
<path d="M246.5 172.2h0.9v0.9h-0.9zM240.3 167.3h0.9v0.9h-0.9zM232.4 165.5h0.9v0.9h-0.9zM246.3 169.7h0.9v0.9h-0.9zM243.9 171.7h0.9v0.9h-0.9zM243.3 155.5h0.9v0.9h-0.9zM237.4 159.0h0.9v0.9h-0.9zM246.0 171.5h0.9v0.9h-0.9zM238.0 157.5h0.9v0.9h-0.9zM228.2 160.5h0.9v0.9h-0.9zM236.8 160.7h0.9v0.9h-0.9zM235.4 159.4h0.9v0.9h-0.9zM233.0 160.7h0.9v0.9h-0.9zM231.3 168.3h0.9v0.9h-0.9zM237.5 165.8h0.9v0.9h-0.9zM233.1 164.8h0.9v0.9h-0.9zM242.3 154.4h0.9v0.9h-0.9zM235.5 159.0h0.9v0.9h-0.9zM236.6 165.8h0.9v0.9h-0.9zM230.5 162.5h0.9v0.9h-0.9zM247.2 154.0h0.9v0.9h-0.9zM246.8 154.4h0.9v0.9h-0.9zM245.0 152.6h0.9v0.9h-0.9zM243.7 155.7h0.9v0.9h-0.9zM235.2 171.5h0.9v0.9h-0.9zM245.6 154.4h0.9v0.9h-0.9zM236.3 158.6h0.9v0.9h-0.9zM239.8 168.3h0.9v0.9h-0.9zM246.7 172.7h0.9v0.9h-0.9zM237.1 165.6h0.9v0.9h-0.9zM233.0 165.5h0.9v0.9h-0.9zM247.3 152.8h0.9v0.9h-0.9zM243.0 170.7h0.9v0.9h-0.9zM232.2 170.2h0.9v0.9h-0.9zM245.7 172.6h0.9v0.9h-0.9zM241.1 169.4h0.9v0.9h-0.9zM232.9 159.5h0.9v0.9h-0.9zM235.9 166.7h0.9v0.9h-0.9zM235.9 166.5h0.9v0.9h-0.9zM235.9 165.4h0.9v0.9h-0.9zM245.4 152.6h0.9v0.9h-0.9zM236.2 160.8h0.9v0.9h-0.9zM237.6 164.7h0.9v0.9h-0.9zM240.0 167.3h0.9v0.9h-0.9zM234.8 163.3h0.9v0.9h-0.9zM233.2 167.1h0.9v0.9h-0.9zM240.0 157.8h0.9v0.9h-0.9zM233.5 166.4h0.9v0.9h-0.9zM245.3 152.6h0.9v0.9h-0.9zM224.9 161.5h0.9v0.9h-0.9zM234.7 155.8h0.9v0.9h-0.9zM231.3 169.1h0.9v0.9h-0.9zM249.5 172.2h0.9v0.9h-0.9zM227.0 171.6h0.9v0.9h-0.9zM235.4 158.3h0.9v0.9h-0.9zM232.1 155.4h0.9v0.9h-0.9zM242.8 168.5h0.9v0.9h-0.9zM227.2 165.8h0.9v0.9h-0.9zM241.7 157.3h0.9v0.9h-0.9zM237.0 166.2h0.9v0.9h-0.9zM226.5 162.6h0.9v0.9h-0.9zM225.3 160.4h0.9v0.9h-0.9zM231.8 162.5h0.9v0.9h-0.9zM235.6 168.3h0.9v0.9h-0.9zM234.5 162.0h0.9v0.9h-0.9zM244.7 171.1h0.9v0.9h-0.9zM239.9 158.9h0.9v0.9h-0.9zM227.1 168.0h0.9v0.9h-0.9zM228.8 168.8h0.9v0.9h-0.9zM224.6 164.9h0.9v0.9h-0.9zM229.8 161.7h0.9v0.9h-0.9zM238.3 159.0h0.9v0.9h-0.9zM237.4 159.5h0.9v0.9h-0.9zM237.8 156.7h0.9v0.9h-0.9zM250.8 140.7h0.9v0.9h-0.9zM247.2 144.2h0.9v0.9h-0.9zM235.4 132.1h0.9v0.9h-0.9zM234.5 138.2h0.9v0.9h-0.9zM247.8 124.0h0.9v0.9h-0.9zM250.2 139.0h0.9v0.9h-0.9zM252.3 126.6h0.9v0.9h-0.9zM234.6 132.2h0.9v0.9h-0.9zM252.7 139.9h0.9v0.9h-0.9zM241.1 144.5h0.9v0.9h-0.9zM252.8 136.6h0.9v0.9h-0.9zM250.2 143.1h0.9v0.9h-0.9zM238.5 125.9h0.9v0.9h-0.9zM245.6 146.2h0.9v0.9h-0.9zM236.4 128.2h0.9v0.9h-0.9zM235.8 131.8h0.9v0.9h-0.9zM235.5 130.2h0.9v0.9h-0.9zM237.6 141.1h0.9v0.9h-0.9zM234.6 138.1h0.9v0.9h-0.9zM239.2 124.9h0.9v0.9h-0.9zM246.4 123.7h0.9v0.9h-0.9zM250.2 141.3h0.9v0.9h-0.9zM245.7 146.9h0.9v0.9h-0.9zM240.1 144.7h0.9v0.9h-0.9zM248.4 122.9h0.9v0.9h-0.9zM248.9 143.3h0.9v0.9h-0.9zM240.3 144.8h0.9v0.9h-0.9zM256.0 139.0h0.9v0.9h-0.9zM259.3 165.1h0.9v0.9h-0.9zM259.7 128.8h0.9v0.9h-0.9zM256.6 145.1h0.9v0.9h-0.9zM259.7 147.2h0.9v0.9h-0.9zM255.5 174.4h0.9v0.9h-0.9zM256.0 147.5h0.9v0.9h-0.9zM258.0 158.5h0.9v0.9h-0.9zM256.2 161.0h0.9v0.9h-0.9zM259.7 129.6h0.9v0.9h-0.9zM261.7 171.1h0.9v0.9h-0.9zM256.8 139.0h0.9v0.9h-0.9zM259.6 174.5h0.9v0.9h-0.9zM254.5 169.4h0.9v0.9h-0.9zM262.7 131.3h0.9v0.9h-0.9zM252.5 111.1h0.9v0.9h-0.9zM215.1 138.2h0.9v0.9h-0.9zM225.8 160.4h0.9v0.9h-0.9zM229.6 153.0h0.9v0.9h-0.9zM255.2 124.0h0.9v0.9h-0.9zM275.2 173.2h0.9v0.9h-0.9zM267.8 154.8h0.9v0.9h-0.9zM246.4 120.5h0.9v0.9h-0.9zM226.0 163.1h0.9v0.9h-0.9zM215.3 172.9h0.9v0.9h-0.9zM261.0 160.2h0.9v0.9h-0.9zM277.9 151.8h0.9v0.9h-0.9zM225.0 150.6h0.9v0.9h-0.9zM222.0 155.2h0.9v0.9h-0.9zM238.4 149.7h0.9v0.9h-0.9zM238.2 113.8h0.9v0.9h-0.9zM222.0 119.9h0.9v0.9h-0.9z" fill="#999"/>
<path d="M236.6 157.5h0.9v0.9h-0.9zM224.1 164.2h0.9v0.9h-0.9zM244.7 154.0h0.9v0.9h-0.9zM230.3 162.2h0.9v0.9h-0.9zM230.3 166.0h0.9v0.9h-0.9zM245.3 171.5h0.9v0.9h-0.9zM239.6 167.4h0.9v0.9h-0.9zM230.9 161.5h0.9v0.9h-0.9zM244.2 170.1h0.9v0.9h-0.9zM243.3 154.6h0.9v0.9h-0.9zM235.2 166.7h0.9v0.9h-0.9zM231.2 163.7h0.9v0.9h-0.9zM227.0 156.9h0.9v0.9h-0.9zM228.0 167.9h0.9v0.9h-0.9zM242.7 154.5h0.9v0.9h-0.9zM235.4 162.1h0.9v0.9h-0.9zM240.7 157.2h0.9v0.9h-0.9zM248.0 172.4h0.9v0.9h-0.9zM242.3 153.9h0.9v0.9h-0.9zM237.5 160.5h0.9v0.9h-0.9zM231.4 167.3h0.9v0.9h-0.9zM236.2 161.5h0.9v0.9h-0.9zM244.6 154.9h0.9v0.9h-0.9zM244.9 153.7h0.9v0.9h-0.9zM236.1 164.2h0.9v0.9h-0.9zM240.2 157.5h0.9v0.9h-0.9zM236.5 156.7h0.9v0.9h-0.9zM226.8 165.5h0.9v0.9h-0.9zM250.0 175.1h0.9v0.9h-0.9zM249.3 153.3h0.9v0.9h-0.9zM232.8 166.9h0.9v0.9h-0.9zM243.6 156.4h0.9v0.9h-0.9zM242.4 156.6h0.9v0.9h-0.9zM231.4 160.7h0.9v0.9h-0.9zM245.8 170.0h0.9v0.9h-0.9zM232.4 159.1h0.9v0.9h-0.9zM242.0 167.2h0.9v0.9h-0.9zM245.2 171.8h0.9v0.9h-0.9zM236.8 166.7h0.9v0.9h-0.9zM236.5 164.4h0.9v0.9h-0.9zM246.8 172.9h0.9v0.9h-0.9zM246.2 170.3h0.9v0.9h-0.9zM232.1 162.5h0.9v0.9h-0.9zM238.4 167.6h0.9v0.9h-0.9zM232.7 164.4h0.9v0.9h-0.9zM240.1 158.9h0.9v0.9h-0.9zM238.7 157.5h0.9v0.9h-0.9zM235.7 165.6h0.9v0.9h-0.9zM236.1 167.7h0.9v0.9h-0.9zM242.0 169.5h0.9v0.9h-0.9zM232.1 153.4h0.9v0.9h-0.9zM233.9 154.9h0.9v0.9h-0.9zM245.2 155.8h0.9v0.9h-0.9zM232.5 164.8h0.9v0.9h-0.9zM243.0 153.5h0.9v0.9h-0.9zM228.7 163.9h0.9v0.9h-0.9zM244.1 154.6h0.9v0.9h-0.9zM240.9 155.7h0.9v0.9h-0.9zM245.8 171.5h0.9v0.9h-0.9zM233.8 164.9h0.9v0.9h-0.9zM248.1 152.3h0.9v0.9h-0.9zM233.9 162.6h0.9v0.9h-0.9zM230.9 159.7h0.9v0.9h-0.9zM234.8 163.4h0.9v0.9h-0.9zM236.2 159.3h0.9v0.9h-0.9zM246.3 171.8h0.9v0.9h-0.9zM251.1 174.1h0.9v0.9h-0.9zM233.3 170.7h0.9v0.9h-0.9zM228.7 153.4h0.9v0.9h-0.9zM248.0 172.2h0.9v0.9h-0.9zM234.0 162.6h0.9v0.9h-0.9zM230.3 163.5h0.9v0.9h-0.9zM234.9 163.1h0.9v0.9h-0.9zM239.8 158.2h0.9v0.9h-0.9zM244.4 155.3h0.9v0.9h-0.9zM238.4 164.9h0.9v0.9h-0.9zM219.8 161.9h0.9v0.9h-0.9zM230.0 163.8h0.9v0.9h-0.9zM242.1 167.8h0.9v0.9h-0.9zM227.7 161.4h0.9v0.9h-0.9zM235.4 166.8h0.9v0.9h-0.9zM235.2 155.5h0.9v0.9h-0.9zM249.6 149.6h0.9v0.9h-0.9zM239.6 169.7h0.9v0.9h-0.9zM226.9 158.7h0.9v0.9h-0.9zM231.5 160.1h0.9v0.9h-0.9zM233.1 164.7h0.9v0.9h-0.9zM234.5 153.4h0.9v0.9h-0.9zM247.9 173.1h0.9v0.9h-0.9zM230.6 164.5h0.9v0.9h-0.9zM240.5 157.4h0.9v0.9h-0.9zM229.1 157.6h0.9v0.9h-0.9zM242.9 168.9h0.9v0.9h-0.9zM252.9 130.5h0.9v0.9h-0.9zM234.9 131.0h0.9v0.9h-0.9zM240.2 123.8h0.9v0.9h-0.9zM253.2 139.4h0.9v0.9h-0.9zM235.4 130.9h0.9v0.9h-0.9zM244.7 145.0h0.9v0.9h-0.9zM235.7 127.3h0.9v0.9h-0.9zM250.9 141.6h0.9v0.9h-0.9zM242.9 146.7h0.9v0.9h-0.9zM241.3 144.9h0.9v0.9h-0.9zM237.3 125.6h0.9v0.9h-0.9zM250.9 125.8h0.9v0.9h-0.9zM234.1 131.6h0.9v0.9h-0.9zM253.4 132.3h0.9v0.9h-0.9zM234.6 130.1h0.9v0.9h-0.9zM241.7 121.7h0.9v0.9h-0.9zM243.6 123.2h0.9v0.9h-0.9zM249.4 143.3h0.9v0.9h-0.9zM257.5 142.7h0.9v0.9h-0.9zM258.6 173.9h0.9v0.9h-0.9zM260.8 158.3h0.9v0.9h-0.9zM262.2 127.7h0.9v0.9h-0.9zM255.6 134.9h0.9v0.9h-0.9zM258.7 170.7h0.9v0.9h-0.9zM260.7 151.6h0.9v0.9h-0.9zM258.9 162.3h0.9v0.9h-0.9zM255.1 137.7h0.9v0.9h-0.9zM260.9 142.4h0.9v0.9h-0.9zM252.1 153.5h0.9v0.9h-0.9zM254.5 132.7h0.9v0.9h-0.9zM257.2 139.8h0.9v0.9h-0.9zM262.0 172.7h0.9v0.9h-0.9zM257.0 154.9h0.9v0.9h-0.9zM257.6 173.6h0.9v0.9h-0.9zM254.3 151.7h0.9v0.9h-0.9zM252.7 145.1h0.9v0.9h-0.9zM261.9 136.2h0.9v0.9h-0.9zM256.8 153.0h0.9v0.9h-0.9zM254.9 167.9h0.9v0.9h-0.9zM260.9 129.5h0.9v0.9h-0.9zM262.1 158.6h0.9v0.9h-0.9zM261.5 149.6h0.9v0.9h-0.9zM257.0 135.1h0.9v0.9h-0.9zM261.7 160.4h0.9v0.9h-0.9zM242.3 127.1h0.9v0.9h-0.9zM249.6 145.3h0.9v0.9h-0.9zM218.7 125.3h0.9v0.9h-0.9zM234.3 157.5h0.9v0.9h-0.9zM260.5 114.6h0.9v0.9h-0.9zM275.4 168.2h0.9v0.9h-0.9zM264.3 148.8h0.9v0.9h-0.9zM268.0 149.2h0.9v0.9h-0.9zM213.7 117.1h0.9v0.9h-0.9zM252.1 168.2h0.9v0.9h-0.9zM262.2 116.1h0.9v0.9h-0.9zM247.9 146.9h0.9v0.9h-0.9zM251.0 114.0h0.9v0.9h-0.9zM223.4 128.9h0.9v0.9h-0.9zM216.5 110.7h0.9v0.9h-0.9zM219.6 152.1h0.9v0.9h-0.9zM222.2 153.5h0.9v0.9h-0.9zM258.6 148.9h0.9v0.9h-0.9zM238.5 164.7h0.9v0.9h-0.9zM249.2 171.3h0.9v0.9h-0.9z" fill="#666"/>
<path d="M241.9 156.4h0.9v0.9h-0.9zM249.7 149.9h0.9v0.9h-0.9zM247.0 154.6h0.9v0.9h-0.9zM250.6 151.9h0.9v0.9h-0.9zM226.6 159.6h0.9v0.9h-0.9zM234.7 153.8h0.9v0.9h-0.9zM232.0 157.0h0.9v0.9h-0.9zM248.1 172.6h0.9v0.9h-0.9zM242.1 155.7h0.9v0.9h-0.9zM237.3 157.1h0.9v0.9h-0.9zM247.4 172.9h0.9v0.9h-0.9zM234.0 161.5h0.9v0.9h-0.9zM241.2 157.3h0.9v0.9h-0.9zM238.3 158.9h0.9v0.9h-0.9zM227.7 167.7h0.9v0.9h-0.9zM232.0 159.3h0.9v0.9h-0.9zM230.8 158.2h0.9v0.9h-0.9zM242.4 168.8h0.9v0.9h-0.9zM240.1 167.9h0.9v0.9h-0.9zM231.6 168.7h0.9v0.9h-0.9zM246.0 172.0h0.9v0.9h-0.9zM247.4 151.9h0.9v0.9h-0.9zM233.6 167.2h0.9v0.9h-0.9zM233.2 161.8h0.9v0.9h-0.9zM231.6 163.4h0.9v0.9h-0.9zM247.0 173.7h0.9v0.9h-0.9zM243.9 170.8h0.9v0.9h-0.9zM238.3 160.0h0.9v0.9h-0.9zM234.3 159.3h0.9v0.9h-0.9zM232.6 163.9h0.9v0.9h-0.9zM232.5 158.9h0.9v0.9h-0.9zM233.1 164.1h0.9v0.9h-0.9zM242.8 169.7h0.9v0.9h-0.9zM243.7 171.1h0.9v0.9h-0.9zM241.8 168.0h0.9v0.9h-0.9zM239.3 167.7h0.9v0.9h-0.9zM230.0 159.8h0.9v0.9h-0.9zM226.5 159.4h0.9v0.9h-0.9zM237.4 167.6h0.9v0.9h-0.9zM229.8 158.9h0.9v0.9h-0.9zM238.4 156.8h0.9v0.9h-0.9zM228.9 164.7h0.9v0.9h-0.9zM223.4 163.6h0.9v0.9h-0.9zM241.9 168.9h0.9v0.9h-0.9zM230.3 163.8h0.9v0.9h-0.9zM230.4 160.5h0.9v0.9h-0.9zM245.8 169.3h0.9v0.9h-0.9zM237.2 159.9h0.9v0.9h-0.9zM233.9 165.7h0.9v0.9h-0.9zM250.2 172.9h0.9v0.9h-0.9zM246.9 155.0h0.9v0.9h-0.9zM231.3 157.0h0.9v0.9h-0.9zM248.3 153.2h0.9v0.9h-0.9zM228.8 157.0h0.9v0.9h-0.9zM225.1 165.5h0.9v0.9h-0.9zM235.1 163.7h0.9v0.9h-0.9zM250.8 150.2h0.9v0.9h-0.9zM240.9 156.1h0.9v0.9h-0.9zM240.6 168.6h0.9v0.9h-0.9zM232.5 163.0h0.9v0.9h-0.9zM231.2 154.6h0.9v0.9h-0.9zM228.6 164.9h0.9v0.9h-0.9zM234.7 161.8h0.9v0.9h-0.9zM235.0 160.0h0.9v0.9h-0.9zM246.3 155.2h0.9v0.9h-0.9zM242.0 155.5h0.9v0.9h-0.9zM235.2 163.2h0.9v0.9h-0.9zM237.1 164.6h0.9v0.9h-0.9zM249.7 153.2h0.9v0.9h-0.9zM236.1 165.9h0.9v0.9h-0.9zM237.4 164.2h0.9v0.9h-0.9zM252.8 131.9h0.9v0.9h-0.9zM245.7 145.7h0.9v0.9h-0.9zM236.7 129.3h0.9v0.9h-0.9zM253.0 136.1h0.9v0.9h-0.9zM236.5 142.2h0.9v0.9h-0.9zM250.4 142.8h0.9v0.9h-0.9zM252.2 128.4h0.9v0.9h-0.9zM237.4 126.2h0.9v0.9h-0.9zM249.4 140.9h0.9v0.9h-0.9zM235.2 129.8h0.9v0.9h-0.9zM252.9 137.9h0.9v0.9h-0.9zM249.3 125.6h0.9v0.9h-0.9zM252.5 131.4h0.9v0.9h-0.9zM235.5 132.6h0.9v0.9h-0.9zM244.0 123.9h0.9v0.9h-0.9zM252.6 134.7h0.9v0.9h-0.9zM250.7 142.8h0.9v0.9h-0.9zM235.7 137.1h0.9v0.9h-0.9zM245.3 144.9h0.9v0.9h-0.9zM238.0 142.4h0.9v0.9h-0.9zM245.4 145.2h0.9v0.9h-0.9zM252.5 133.0h0.9v0.9h-0.9zM253.4 134.6h0.9v0.9h-0.9zM235.8 128.7h0.9v0.9h-0.9zM243.3 144.9h0.9v0.9h-0.9zM244.9 145.9h0.9v0.9h-0.9zM251.3 140.1h0.9v0.9h-0.9zM259.7 145.9h0.9v0.9h-0.9zM257.8 162.7h0.9v0.9h-0.9zM259.6 136.8h0.9v0.9h-0.9zM258.5 128.6h0.9v0.9h-0.9zM256.1 136.2h0.9v0.9h-0.9zM261.4 167.5h0.9v0.9h-0.9zM255.4 153.3h0.9v0.9h-0.9zM251.9 174.5h0.9v0.9h-0.9zM257.4 129.7h0.9v0.9h-0.9zM254.3 170.5h0.9v0.9h-0.9zM259.6 135.4h0.9v0.9h-0.9zM263.6 136.3h0.9v0.9h-0.9zM257.9 147.3h0.9v0.9h-0.9zM256.3 133.9h0.9v0.9h-0.9zM260.0 168.8h0.9v0.9h-0.9zM259.1 152.4h0.9v0.9h-0.9zM250.6 134.3h0.9v0.9h-0.9zM260.3 141.1h0.9v0.9h-0.9zM259.7 134.5h0.9v0.9h-0.9zM256.2 137.9h0.9v0.9h-0.9zM237.4 172.6h0.9v0.9h-0.9zM222.7 124.9h0.9v0.9h-0.9zM251.7 130.8h0.9v0.9h-0.9zM267.3 161.9h0.9v0.9h-0.9zM241.3 124.8h0.9v0.9h-0.9zM238.2 162.2h0.9v0.9h-0.9zM247.0 167.9h0.9v0.9h-0.9zM256.2 166.8h0.9v0.9h-0.9zM232.4 154.3h0.9v0.9h-0.9zM256.7 110.8h0.9v0.9h-0.9zM250.9 145.2h0.9v0.9h-0.9zM274.7 151.3h0.9v0.9h-0.9zM218.0 145.5h0.9v0.9h-0.9zM221.2 145.7h0.9v0.9h-0.9zM244.1 120.2h0.9v0.9h-0.9zM229.7 118.0h0.9v0.9h-0.9zM254.7 166.5h0.9v0.9h-0.9zM264.4 157.7h0.9v0.9h-0.9zM232.2 140.8h0.9v0.9h-0.9zM270.1 144.8h0.9v0.9h-0.9zM219.1 143.4h0.9v0.9h-0.9zM263.1 119.2h0.9v0.9h-0.9zM213.9 158.7h0.9v0.9h-0.9z" fill="#444"/>
<path d="M248.2 171.6h0.9v0.9h-0.9zM234.3 156.7h0.9v0.9h-0.9zM245.1 171.2h0.9v0.9h-0.9zM232.3 163.8h0.9v0.9h-0.9zM236.0 159.2h0.9v0.9h-0.9zM238.0 166.1h0.9v0.9h-0.9zM235.8 165.2h0.9v0.9h-0.9zM236.3 160.2h0.9v0.9h-0.9zM226.4 160.9h0.9v0.9h-0.9zM241.0 157.6h0.9v0.9h-0.9zM240.3 158.5h0.9v0.9h-0.9zM235.9 158.5h0.9v0.9h-0.9zM231.4 165.9h0.9v0.9h-0.9zM246.4 154.6h0.9v0.9h-0.9zM251.9 174.5h0.9v0.9h-0.9zM236.2 164.2h0.9v0.9h-0.9zM234.2 163.1h0.9v0.9h-0.9zM232.0 168.9h0.9v0.9h-0.9zM234.3 163.1h0.9v0.9h-0.9zM232.1 162.6h0.9v0.9h-0.9zM231.9 161.4h0.9v0.9h-0.9zM244.9 170.3h0.9v0.9h-0.9zM228.3 165.4h0.9v0.9h-0.9zM232.7 160.4h0.9v0.9h-0.9zM237.5 170.9h0.9v0.9h-0.9zM237.5 166.2h0.9v0.9h-0.9zM232.3 168.0h0.9v0.9h-0.9zM249.7 151.5h0.9v0.9h-0.9zM246.3 173.3h0.9v0.9h-0.9zM234.7 162.2h0.9v0.9h-0.9zM245.1 149.9h0.9v0.9h-0.9zM250.0 152.0h0.9v0.9h-0.9zM246.0 170.1h0.9v0.9h-0.9zM230.7 162.4h0.9v0.9h-0.9zM235.9 161.6h0.9v0.9h-0.9zM234.8 165.7h0.9v0.9h-0.9zM229.2 160.5h0.9v0.9h-0.9zM231.9 169.6h0.9v0.9h-0.9zM230.8 154.0h0.9v0.9h-0.9zM246.8 170.7h0.9v0.9h-0.9zM228.2 166.2h0.9v0.9h-0.9zM238.2 158.3h0.9v0.9h-0.9zM245.1 174.7h0.9v0.9h-0.9zM235.4 160.7h0.9v0.9h-0.9zM237.4 164.5h0.9v0.9h-0.9zM229.9 160.4h0.9v0.9h-0.9zM237.3 166.5h0.9v0.9h-0.9zM229.8 164.9h0.9v0.9h-0.9zM248.0 171.1h0.9v0.9h-0.9zM243.7 170.9h0.9v0.9h-0.9zM235.9 159.5h0.9v0.9h-0.9zM232.4 167.0h0.9v0.9h-0.9zM236.9 159.6h0.9v0.9h-0.9zM242.8 171.2h0.9v0.9h-0.9zM241.1 168.2h0.9v0.9h-0.9zM242.8 156.3h0.9v0.9h-0.9zM232.4 162.6h0.9v0.9h-0.9zM242.4 170.9h0.9v0.9h-0.9zM232.8 162.7h0.9v0.9h-0.9zM235.6 157.5h0.9v0.9h-0.9zM240.5 154.4h0.9v0.9h-0.9zM222.7 161.7h0.9v0.9h-0.9zM249.4 153.8h0.9v0.9h-0.9zM234.3 164.1h0.9v0.9h-0.9zM234.0 166.6h0.9v0.9h-0.9zM234.6 165.4h0.9v0.9h-0.9zM243.1 157.2h0.9v0.9h-0.9zM232.6 161.7h0.9v0.9h-0.9zM249.0 153.4h0.9v0.9h-0.9zM233.1 159.7h0.9v0.9h-0.9zM231.2 159.8h0.9v0.9h-0.9zM233.0 171.4h0.9v0.9h-0.9zM248.7 148.9h0.9v0.9h-0.9zM223.8 156.7h0.9v0.9h-0.9zM233.9 164.2h0.9v0.9h-0.9zM249.6 171.5h0.9v0.9h-0.9zM239.6 157.9h0.9v0.9h-0.9zM226.0 161.1h0.9v0.9h-0.9zM243.7 170.8h0.9v0.9h-0.9zM235.3 161.6h0.9v0.9h-0.9zM250.7 172.9h0.9v0.9h-0.9zM226.2 161.5h0.9v0.9h-0.9zM231.2 160.1h0.9v0.9h-0.9zM222.7 160.7h0.9v0.9h-0.9zM242.0 154.5h0.9v0.9h-0.9zM245.2 171.2h0.9v0.9h-0.9zM235.8 124.7h0.9v0.9h-0.9zM248.2 124.6h0.9v0.9h-0.9zM246.5 122.9h0.9v0.9h-0.9zM242.2 145.3h0.9v0.9h-0.9zM235.3 132.4h0.9v0.9h-0.9zM246.1 123.7h0.9v0.9h-0.9zM254.3 134.8h0.9v0.9h-0.9zM238.4 123.5h0.9v0.9h-0.9zM243.5 145.1h0.9v0.9h-0.9zM239.1 125.1h0.9v0.9h-0.9zM235.1 135.5h0.9v0.9h-0.9zM250.2 140.6h0.9v0.9h-0.9zM252.8 138.8h0.9v0.9h-0.9zM237.3 126.9h0.9v0.9h-0.9zM237.4 127.8h0.9v0.9h-0.9zM235.8 137.9h0.9v0.9h-0.9zM252.1 129.0h0.9v0.9h-0.9zM241.5 125.9h0.9v0.9h-0.9zM252.1 138.2h0.9v0.9h-0.9zM252.6 133.9h0.9v0.9h-0.9zM253.3 132.2h0.9v0.9h-0.9zM250.3 126.9h0.9v0.9h-0.9zM248.7 144.4h0.9v0.9h-0.9zM256.5 163.1h0.9v0.9h-0.9zM258.1 168.8h0.9v0.9h-0.9zM253.4 149.2h0.9v0.9h-0.9zM259.3 162.3h0.9v0.9h-0.9zM257.8 130.7h0.9v0.9h-0.9zM255.3 155.6h0.9v0.9h-0.9zM259.1 163.0h0.9v0.9h-0.9zM252.2 162.2h0.9v0.9h-0.9zM257.7 152.0h0.9v0.9h-0.9zM252.5 148.2h0.9v0.9h-0.9zM261.8 154.4h0.9v0.9h-0.9zM259.8 153.4h0.9v0.9h-0.9zM260.0 135.6h0.9v0.9h-0.9zM256.7 132.0h0.9v0.9h-0.9zM254.1 149.2h0.9v0.9h-0.9zM257.5 160.5h0.9v0.9h-0.9zM259.3 139.0h0.9v0.9h-0.9zM256.9 137.4h0.9v0.9h-0.9zM257.9 163.8h0.9v0.9h-0.9zM262.2 165.7h0.9v0.9h-0.9zM222.8 166.4h0.9v0.9h-0.9zM254.2 172.3h0.9v0.9h-0.9zM244.5 129.9h0.9v0.9h-0.9zM254.0 131.7h0.9v0.9h-0.9zM216.2 169.2h0.9v0.9h-0.9zM226.1 145.7h0.9v0.9h-0.9zM258.2 136.5h0.9v0.9h-0.9zM239.3 135.0h0.9v0.9h-0.9zM231.1 119.0h0.9v0.9h-0.9zM241.6 160.0h0.9v0.9h-0.9zM230.6 147.1h0.9v0.9h-0.9zM257.5 152.2h0.9v0.9h-0.9zM229.1 129.5h0.9v0.9h-0.9zM223.7 163.4h0.9v0.9h-0.9zM256.9 117.1h0.9v0.9h-0.9zM222.6 112.8h0.9v0.9h-0.9zM240.0 131.2h0.9v0.9h-0.9zM221.2 122.8h0.9v0.9h-0.9zM220.4 154.5h0.9v0.9h-0.9z" fill="#bbb"/>
<path d="M230.4 160.1h0.9v0.9h-0.9zM249.2 174.1h0.9v0.9h-0.9zM240.5 167.4h0.9v0.9h-0.9zM246.6 154.4h0.9v0.9h-0.9zM243.7 155.6h0.9v0.9h-0.9zM240.9 156.3h0.9v0.9h-0.9zM239.0 167.1h0.9v0.9h-0.9zM240.4 167.0h0.9v0.9h-0.9zM234.8 154.6h0.9v0.9h-0.9zM243.9 153.2h0.9v0.9h-0.9zM241.4 167.1h0.9v0.9h-0.9zM231.1 160.4h0.9v0.9h-0.9zM244.5 169.9h0.9v0.9h-0.9zM234.1 169.2h0.9v0.9h-0.9zM229.4 164.9h0.9v0.9h-0.9zM233.2 160.5h0.9v0.9h-0.9zM248.7 153.4h0.9v0.9h-0.9zM244.7 170.7h0.9v0.9h-0.9zM248.2 172.6h0.9v0.9h-0.9zM238.8 158.0h0.9v0.9h-0.9zM237.2 159.6h0.9v0.9h-0.9zM237.4 166.7h0.9v0.9h-0.9zM234.4 167.0h0.9v0.9h-0.9zM236.6 155.7h0.9v0.9h-0.9zM235.1 163.2h0.9v0.9h-0.9zM229.8 162.8h0.9v0.9h-0.9zM223.6 165.6h0.9v0.9h-0.9zM247.1 171.9h0.9v0.9h-0.9zM239.8 157.4h0.9v0.9h-0.9zM238.9 155.5h0.9v0.9h-0.9zM237.0 167.7h0.9v0.9h-0.9zM237.1 154.8h0.9v0.9h-0.9zM236.0 163.4h0.9v0.9h-0.9zM234.6 162.1h0.9v0.9h-0.9zM240.7 156.5h0.9v0.9h-0.9zM237.0 166.2h0.9v0.9h-0.9zM243.2 167.9h0.9v0.9h-0.9zM231.4 162.3h0.9v0.9h-0.9zM246.9 170.1h0.9v0.9h-0.9zM248.5 172.6h0.9v0.9h-0.9zM233.5 158.6h0.9v0.9h-0.9zM239.1 166.9h0.9v0.9h-0.9zM230.3 158.6h0.9v0.9h-0.9zM248.7 152.8h0.9v0.9h-0.9zM239.0 155.9h0.9v0.9h-0.9zM240.5 166.8h0.9v0.9h-0.9zM233.9 167.4h0.9v0.9h-0.9zM243.2 152.8h0.9v0.9h-0.9zM233.2 160.3h0.9v0.9h-0.9zM245.2 155.4h0.9v0.9h-0.9zM236.8 159.2h0.9v0.9h-0.9zM245.4 169.2h0.9v0.9h-0.9zM239.4 159.2h0.9v0.9h-0.9zM241.8 166.9h0.9v0.9h-0.9zM236.5 169.0h0.9v0.9h-0.9zM241.2 169.0h0.9v0.9h-0.9zM230.1 156.1h0.9v0.9h-0.9zM244.4 155.4h0.9v0.9h-0.9zM243.6 170.0h0.9v0.9h-0.9zM238.4 157.2h0.9v0.9h-0.9zM245.9 153.1h0.9v0.9h-0.9zM229.0 172.1h0.9v0.9h-0.9zM231.8 163.7h0.9v0.9h-0.9zM233.2 164.1h0.9v0.9h-0.9zM237.2 164.4h0.9v0.9h-0.9zM227.3 163.1h0.9v0.9h-0.9zM234.3 168.8h0.9v0.9h-0.9zM249.9 152.2h0.9v0.9h-0.9zM239.1 156.5h0.9v0.9h-0.9zM234.4 162.5h0.9v0.9h-0.9zM244.9 154.0h0.9v0.9h-0.9zM238.3 156.1h0.9v0.9h-0.9zM240.2 156.8h0.9v0.9h-0.9zM249.1 175.1h0.9v0.9h-0.9zM236.8 166.6h0.9v0.9h-0.9zM247.1 154.7h0.9v0.9h-0.9zM234.7 157.5h0.9v0.9h-0.9zM251.3 140.6h0.9v0.9h-0.9zM234.5 134.5h0.9v0.9h-0.9zM234.0 131.2h0.9v0.9h-0.9zM235.6 134.2h0.9v0.9h-0.9zM252.1 129.4h0.9v0.9h-0.9zM252.5 128.1h0.9v0.9h-0.9zM252.8 129.5h0.9v0.9h-0.9zM253.3 134.8h0.9v0.9h-0.9zM245.8 145.3h0.9v0.9h-0.9zM244.4 121.4h0.9v0.9h-0.9zM248.4 124.1h0.9v0.9h-0.9zM246.4 145.4h0.9v0.9h-0.9zM251.9 132.9h0.9v0.9h-0.9zM235.6 127.8h0.9v0.9h-0.9zM239.9 144.2h0.9v0.9h-0.9zM234.1 135.3h0.9v0.9h-0.9zM235.9 129.5h0.9v0.9h-0.9zM253.1 129.1h0.9v0.9h-0.9zM237.4 142.4h0.9v0.9h-0.9zM238.3 125.7h0.9v0.9h-0.9zM238.6 141.7h0.9v0.9h-0.9zM243.1 123.0h0.9v0.9h-0.9zM251.9 125.9h0.9v0.9h-0.9zM251.9 129.7h0.9v0.9h-0.9zM234.8 133.5h0.9v0.9h-0.9zM258.6 173.8h0.9v0.9h-0.9zM260.0 140.7h0.9v0.9h-0.9zM260.0 141.4h0.9v0.9h-0.9zM254.4 158.0h0.9v0.9h-0.9zM258.5 130.6h0.9v0.9h-0.9zM257.0 170.9h0.9v0.9h-0.9zM254.7 150.1h0.9v0.9h-0.9zM262.0 152.8h0.9v0.9h-0.9zM259.6 168.7h0.9v0.9h-0.9zM255.1 150.9h0.9v0.9h-0.9zM257.0 129.2h0.9v0.9h-0.9zM258.9 160.3h0.9v0.9h-0.9zM256.7 157.4h0.9v0.9h-0.9zM260.1 127.7h0.9v0.9h-0.9zM255.4 169.0h0.9v0.9h-0.9zM256.4 135.0h0.9v0.9h-0.9zM253.3 171.4h0.9v0.9h-0.9zM260.6 165.8h0.9v0.9h-0.9zM252.5 166.8h0.9v0.9h-0.9zM256.7 130.3h0.9v0.9h-0.9zM255.8 131.9h0.9v0.9h-0.9zM263.1 163.9h0.9v0.9h-0.9zM248.6 173.0h0.9v0.9h-0.9zM277.8 138.9h0.9v0.9h-0.9zM241.1 164.0h0.9v0.9h-0.9zM245.5 113.1h0.9v0.9h-0.9zM256.4 144.4h0.9v0.9h-0.9zM262.9 133.6h0.9v0.9h-0.9zM276.7 164.5h0.9v0.9h-0.9zM270.7 128.0h0.9v0.9h-0.9zM245.2 146.5h0.9v0.9h-0.9zM265.5 115.5h0.9v0.9h-0.9zM225.3 138.6h0.9v0.9h-0.9zM229.2 114.6h0.9v0.9h-0.9zM277.7 114.2h0.9v0.9h-0.9zM225.5 164.4h0.9v0.9h-0.9zM242.9 154.0h0.9v0.9h-0.9zM216.8 146.3h0.9v0.9h-0.9zM265.1 125.7h0.9v0.9h-0.9zM213.5 170.8h0.9v0.9h-0.9z" fill="#777"/>
<path d="M250.5 153.8 L236 162.4 L250.5 171.6" fill="none" stroke="#333" stroke-width="0.8"/>
<path d="M252.00 134.00C252.00 135.25 251.78 136.60 251.39 137.75C251.00 138.91 250.38 140.05 249.66 140.93C248.94 141.81 248.00 142.58 247.06 143.05C246.12 143.53 245.02 143.80 244.00 143.80C242.98 143.80 241.88 143.53 240.94 143.05C240.00 142.58 239.06 141.81 238.34 140.93C237.62 140.05 237.00 138.91 236.61 137.75C236.22 136.60 236.00 135.25 236.00 134.00C236.00 132.75 236.22 131.40 236.61 130.25C237.00 129.09 237.62 127.95 238.34 127.07C239.06 126.19 240.00 125.42 240.94 124.95C241.88 124.47 242.98 124.20 244.00 124.20C245.02 124.20 246.12 124.47 247.06 124.95C248.00 125.42 248.94 126.19 249.66 127.07C250.38 127.95 251.00 129.09 251.39 130.25C251.78 131.40 252.00 132.75 252.00 134.00Z" fill="#eeeeee" stroke="#444" stroke-width="0.7"/>
<path d="M250.65 133.82C250.65 134.85 250.47 135.95 250.15 136.90C249.83 137.84 249.32 138.78 248.73 139.50C248.14 140.23 247.37 140.85 246.60 141.24C245.83 141.64 244.93 141.86 244.09 141.86C243.25 141.86 242.35 141.64 241.58 141.24C240.81 140.85 240.04 140.23 239.45 139.50C238.86 138.78 238.35 137.84 238.03 136.90C237.71 135.95 237.53 134.85 237.53 133.82C237.53 132.79 237.71 131.69 238.03 130.74C238.35 129.80 238.86 128.86 239.45 128.14C240.04 127.41 240.81 126.79 241.58 126.40C242.35 126.00 243.25 125.78 244.09 125.78C244.93 125.78 245.83 126.00 246.60 126.40C247.37 126.79 248.14 127.41 248.73 128.14C249.32 128.86 249.83 129.80 250.15 130.74C250.47 131.69 250.65 132.79 250.65 133.82Z" fill="#e2e2e2" stroke="#666" stroke-width="0.5"/>
<path d="M249.30 133.64C249.30 134.44 249.16 135.30 248.91 136.04C248.66 136.78 248.26 137.51 247.80 138.07C247.34 138.64 246.74 139.13 246.14 139.43C245.54 139.74 244.83 139.91 244.18 139.91C243.53 139.91 242.82 139.74 242.22 139.43C241.62 139.13 241.02 138.64 240.56 138.07C240.10 137.51 239.70 136.78 239.45 136.04C239.20 135.30 239.06 134.44 239.06 133.64C239.06 132.84 239.20 131.98 239.45 131.24C239.70 130.50 240.10 129.77 240.56 129.21C241.02 128.64 241.62 128.15 242.22 127.85C242.82 127.54 243.53 127.37 244.18 127.37C244.83 127.37 245.54 127.54 246.14 127.85C246.74 128.15 247.34 128.64 247.80 129.21C248.26 129.77 248.66 130.50 248.91 131.24C249.16 131.98 249.30 132.84 249.30 133.64Z" fill="#d4d4d4" stroke="#666" stroke-width="0.5"/>
<path d="M247.95 133.46C247.95 134.04 247.85 134.65 247.67 135.19C247.49 135.72 247.20 136.24 246.87 136.65C246.54 137.05 246.11 137.40 245.68 137.62C245.24 137.84 244.74 137.97 244.27 137.97C243.80 137.97 243.30 137.84 242.86 137.62C242.43 137.40 242.00 137.05 241.67 136.65C241.34 136.24 241.05 135.72 240.87 135.19C240.69 134.65 240.59 134.04 240.59 133.46C240.59 132.88 240.69 132.27 240.87 131.73C241.05 131.20 241.34 130.68 241.67 130.27C242.00 129.87 242.43 129.52 242.86 129.30C243.30 129.08 243.80 128.95 244.27 128.95C244.74 128.95 245.24 129.08 245.68 129.30C246.11 129.52 246.54 129.87 246.87 130.27C247.20 130.68 247.49 131.20 247.67 131.73C247.85 132.27 247.95 132.88 247.95 133.46Z" fill="#c6c6c6" stroke="#666" stroke-width="0.5"/>
<path d="M250.30 131.00C250.47 129.05 251.10 128.83 251.80 128.30C252.50 127.77 253.63 127.60 254.50 127.80C255.37 128.00 256.37 128.30 257.00 129.50C257.63 130.70 257.88 132.42 258.30 135.00C258.72 137.58 259.13 141.67 259.50 145.00C259.87 148.33 260.25 152.00 260.50 155.00C260.75 158.00 261.12 160.75 261.00 163.00C260.88 165.25 260.55 167.40 259.80 168.50C259.05 169.60 257.50 169.85 256.50 169.60C255.50 169.35 254.45 168.60 253.80 167.00C253.15 165.40 252.93 162.83 252.60 160.00C252.27 157.17 252.10 153.33 251.80 150.00C251.50 146.67 251.05 143.17 250.80 140.00C250.55 136.83 250.13 132.95 250.30 131.00Z" fill="#ececec" stroke="#111" stroke-width="1.1"/>
<path d="M251.40 132.80C251.53 131.05 252.02 130.85 252.57 130.37C253.12 129.89 254.00 129.74 254.68 129.92C255.35 130.10 256.13 130.37 256.63 131.45C257.12 132.53 257.31 134.07 257.64 136.40C257.96 138.73 258.29 142.40 258.58 145.40C258.86 148.40 259.16 151.70 259.36 154.40C259.55 157.10 259.84 159.57 259.75 161.60C259.65 163.62 259.39 165.56 258.81 166.55C258.23 167.54 257.02 167.76 256.24 167.54C255.46 167.31 254.64 166.64 254.13 165.20C253.62 163.76 253.45 161.45 253.19 158.90C252.93 156.35 252.80 152.90 252.57 149.90C252.34 146.90 251.99 143.75 251.79 140.90C251.60 138.05 251.27 134.56 251.40 132.80Z" fill="#d8d8d8" stroke="#333" stroke-width="0.5"/>
<path d="M252.40 134.96C252.50 133.44 252.86 133.27 253.27 132.85C253.68 132.44 254.33 132.31 254.84 132.46C255.34 132.62 255.92 132.85 256.29 133.79C256.65 134.73 256.80 136.06 257.04 138.08C257.28 140.10 257.52 143.28 257.74 145.88C257.95 148.48 258.17 151.34 258.32 153.68C258.46 156.02 258.67 158.16 258.61 159.92C258.54 161.67 258.35 163.35 257.91 164.21C257.48 165.07 256.58 165.26 256.00 165.07C255.42 164.87 254.81 164.29 254.43 163.04C254.05 161.79 253.93 159.79 253.73 157.58C253.54 155.37 253.44 152.38 253.27 149.78C253.10 147.18 252.84 144.45 252.69 141.98C252.54 139.51 252.30 136.48 252.40 134.96Z" fill="#b8b8b8" stroke="#333" stroke-width="0.5"/>
<path d="M253.20 137.48C253.27 136.23 253.54 136.09 253.83 135.75C254.12 135.41 254.60 135.30 254.96 135.43C255.33 135.56 255.75 135.75 256.01 136.52C256.28 137.29 256.38 138.39 256.56 140.04C256.74 141.69 256.91 144.31 257.06 146.44C257.22 148.57 257.38 150.92 257.48 152.84C257.59 154.76 257.74 156.52 257.69 157.96C257.65 159.40 257.50 160.78 257.19 161.48C256.88 162.18 256.22 162.34 255.80 162.18C255.38 162.02 254.94 161.54 254.67 160.52C254.40 159.50 254.31 157.85 254.17 156.04C254.03 154.23 253.96 151.77 253.83 149.64C253.70 147.51 253.52 145.27 253.41 143.24C253.31 141.21 253.13 138.73 253.20 137.48Z" fill="#8a8a8a" stroke="#222" stroke-width="0.5"/>
<ellipse cx="256.6" cy="159.5" rx="1.4" ry="4.5" fill="#1a1a1a"/>
<ellipse cx="254.5" cy="136.5" rx="1.2" ry="3.5" fill="#1a1a1a"/>
</g>
<rect x="50.5" y="34.5" width="67.00" height="67.10" fill="none" stroke="#222" stroke-width="1.2"/>
<line x1="89.50" y1="34.50" x2="89.50" y2="101.60" stroke="#2a2a2a" stroke-width="1.2"/>
<line x1="50.50" y1="74.80" x2="117.50" y2="74.80" stroke="#2a2a2a" stroke-width="1.2"/>
<line x1="49.30" y1="41.96" x2="50.50" y2="41.96" stroke="#555" stroke-width="0.8"/>
<line x1="57.94" y1="101.60" x2="57.94" y2="102.80" stroke="#555" stroke-width="0.8"/>
<line x1="49.30" y1="49.41" x2="50.50" y2="49.41" stroke="#555" stroke-width="0.8"/>
<line x1="65.39" y1="101.60" x2="65.39" y2="102.80" stroke="#555" stroke-width="0.8"/>
<line x1="49.30" y1="56.87" x2="50.50" y2="56.87" stroke="#555" stroke-width="0.8"/>
<line x1="72.83" y1="101.60" x2="72.83" y2="102.80" stroke="#555" stroke-width="0.8"/>
<line x1="49.30" y1="64.32" x2="50.50" y2="64.32" stroke="#555" stroke-width="0.8"/>
<line x1="80.28" y1="101.60" x2="80.28" y2="102.80" stroke="#555" stroke-width="0.8"/>
<line x1="49.30" y1="71.78" x2="50.50" y2="71.78" stroke="#555" stroke-width="0.8"/>
<line x1="87.72" y1="101.60" x2="87.72" y2="102.80" stroke="#555" stroke-width="0.8"/>
<line x1="49.30" y1="79.23" x2="50.50" y2="79.23" stroke="#555" stroke-width="0.8"/>
<line x1="95.17" y1="101.60" x2="95.17" y2="102.80" stroke="#555" stroke-width="0.8"/>
<line x1="49.30" y1="86.69" x2="50.50" y2="86.69" stroke="#555" stroke-width="0.8"/>
<line x1="102.61" y1="101.60" x2="102.61" y2="102.80" stroke="#555" stroke-width="0.8"/>
<line x1="49.30" y1="94.14" x2="50.50" y2="94.14" stroke="#555" stroke-width="0.8"/>
<line x1="110.06" y1="101.60" x2="110.06" y2="102.80" stroke="#555" stroke-width="0.8"/>
<text x="51.40" y="42.60" font-size="10.2" fill="#111">84</text>
<text x="116.80" y="42.60" font-size="10.2" text-anchor="end" fill="#111">12</text>
<text x="51.40" y="100.90" font-size="10.2" fill="#111">1</text>
<text x="116.80" y="100.90" font-size="10.2" text-anchor="end" fill="#111">3</text>
<rect x="131.5" y="34.5" width="67.00" height="67.10" fill="none" stroke="#222" stroke-width="1.2"/>
<line x1="170.00" y1="34.50" x2="170.00" y2="101.60" stroke="#2a2a2a" stroke-width="1.2"/>
<line x1="131.50" y1="74.80" x2="198.50" y2="74.80" stroke="#2a2a2a" stroke-width="1.2"/>
<line x1="130.30" y1="41.96" x2="131.50" y2="41.96" stroke="#555" stroke-width="0.8"/>
<line x1="138.94" y1="101.60" x2="138.94" y2="102.80" stroke="#555" stroke-width="0.8"/>
<line x1="130.30" y1="49.41" x2="131.50" y2="49.41" stroke="#555" stroke-width="0.8"/>
<line x1="146.39" y1="101.60" x2="146.39" y2="102.80" stroke="#555" stroke-width="0.8"/>
<line x1="130.30" y1="56.87" x2="131.50" y2="56.87" stroke="#555" stroke-width="0.8"/>
<line x1="153.83" y1="101.60" x2="153.83" y2="102.80" stroke="#555" stroke-width="0.8"/>
<line x1="130.30" y1="64.32" x2="131.50" y2="64.32" stroke="#555" stroke-width="0.8"/>
<line x1="161.28" y1="101.60" x2="161.28" y2="102.80" stroke="#555" stroke-width="0.8"/>
<line x1="130.30" y1="71.78" x2="131.50" y2="71.78" stroke="#555" stroke-width="0.8"/>
<line x1="168.72" y1="101.60" x2="168.72" y2="102.80" stroke="#555" stroke-width="0.8"/>
<line x1="130.30" y1="79.23" x2="131.50" y2="79.23" stroke="#555" stroke-width="0.8"/>
<line x1="176.17" y1="101.60" x2="176.17" y2="102.80" stroke="#555" stroke-width="0.8"/>
<line x1="130.30" y1="86.69" x2="131.50" y2="86.69" stroke="#555" stroke-width="0.8"/>
<line x1="183.61" y1="101.60" x2="183.61" y2="102.80" stroke="#555" stroke-width="0.8"/>
<line x1="130.30" y1="94.14" x2="131.50" y2="94.14" stroke="#555" stroke-width="0.8"/>
<line x1="191.06" y1="101.60" x2="191.06" y2="102.80" stroke="#555" stroke-width="0.8"/>
<text x="132.40" y="42.60" font-size="10.2" fill="#111">2</text>
<text x="197.80" y="42.60" font-size="10.2" text-anchor="end" fill="#111">5</text>
<text x="132.40" y="100.90" font-size="10.2" fill="#111">2</text>
<text x="197.80" y="100.90" font-size="10.2" text-anchor="end" fill="#111">91</text>
<rect x="212.5" y="34.5" width="67.50" height="67.10" fill="none" stroke="#222" stroke-width="1.2"/>
<line x1="251.00" y1="34.50" x2="251.00" y2="101.60" stroke="#2a2a2a" stroke-width="1.2"/>
<line x1="212.50" y1="74.80" x2="280.00" y2="74.80" stroke="#2a2a2a" stroke-width="1.2"/>
<line x1="211.30" y1="41.96" x2="212.50" y2="41.96" stroke="#555" stroke-width="0.8"/>
<line x1="220.00" y1="101.60" x2="220.00" y2="102.80" stroke="#555" stroke-width="0.8"/>
<line x1="211.30" y1="49.41" x2="212.50" y2="49.41" stroke="#555" stroke-width="0.8"/>
<line x1="227.50" y1="101.60" x2="227.50" y2="102.80" stroke="#555" stroke-width="0.8"/>
<line x1="211.30" y1="56.87" x2="212.50" y2="56.87" stroke="#555" stroke-width="0.8"/>
<line x1="235.00" y1="101.60" x2="235.00" y2="102.80" stroke="#555" stroke-width="0.8"/>
<line x1="211.30" y1="64.32" x2="212.50" y2="64.32" stroke="#555" stroke-width="0.8"/>
<line x1="242.50" y1="101.60" x2="242.50" y2="102.80" stroke="#555" stroke-width="0.8"/>
<line x1="211.30" y1="71.78" x2="212.50" y2="71.78" stroke="#555" stroke-width="0.8"/>
<line x1="250.00" y1="101.60" x2="250.00" y2="102.80" stroke="#555" stroke-width="0.8"/>
<line x1="211.30" y1="79.23" x2="212.50" y2="79.23" stroke="#555" stroke-width="0.8"/>
<line x1="257.50" y1="101.60" x2="257.50" y2="102.80" stroke="#555" stroke-width="0.8"/>
<line x1="211.30" y1="86.69" x2="212.50" y2="86.69" stroke="#555" stroke-width="0.8"/>
<line x1="265.00" y1="101.60" x2="265.00" y2="102.80" stroke="#555" stroke-width="0.8"/>
<line x1="211.30" y1="94.14" x2="212.50" y2="94.14" stroke="#555" stroke-width="0.8"/>
<line x1="272.50" y1="101.60" x2="272.50" y2="102.80" stroke="#555" stroke-width="0.8"/>
<text x="213.40" y="42.60" font-size="10.2" fill="#111">0</text>
<text x="279.30" y="42.60" font-size="10.2" text-anchor="end" fill="#111">1</text>
<text x="213.40" y="100.90" font-size="10.2" fill="#111">4</text>
<text x="279.30" y="100.90" font-size="10.2" text-anchor="end" fill="#111">95</text>
<rect x="50.5" y="109.6" width="67.00" height="67.20" fill="none" stroke="#222" stroke-width="1.2"/>
<line x1="89.50" y1="109.60" x2="89.50" y2="176.80" stroke="#2a2a2a" stroke-width="1.2"/>
<line x1="50.50" y1="149.20" x2="117.50" y2="149.20" stroke="#2a2a2a" stroke-width="1.2"/>
<line x1="49.30" y1="117.07" x2="50.50" y2="117.07" stroke="#555" stroke-width="0.8"/>
<line x1="57.94" y1="176.80" x2="57.94" y2="178.00" stroke="#555" stroke-width="0.8"/>
<line x1="49.30" y1="124.53" x2="50.50" y2="124.53" stroke="#555" stroke-width="0.8"/>
<line x1="65.39" y1="176.80" x2="65.39" y2="178.00" stroke="#555" stroke-width="0.8"/>
<line x1="49.30" y1="132.00" x2="50.50" y2="132.00" stroke="#555" stroke-width="0.8"/>
<line x1="72.83" y1="176.80" x2="72.83" y2="178.00" stroke="#555" stroke-width="0.8"/>
<line x1="49.30" y1="139.47" x2="50.50" y2="139.47" stroke="#555" stroke-width="0.8"/>
<line x1="80.28" y1="176.80" x2="80.28" y2="178.00" stroke="#555" stroke-width="0.8"/>
<line x1="49.30" y1="146.93" x2="50.50" y2="146.93" stroke="#555" stroke-width="0.8"/>
<line x1="87.72" y1="176.80" x2="87.72" y2="178.00" stroke="#555" stroke-width="0.8"/>
<line x1="49.30" y1="154.40" x2="50.50" y2="154.40" stroke="#555" stroke-width="0.8"/>
<line x1="95.17" y1="176.80" x2="95.17" y2="178.00" stroke="#555" stroke-width="0.8"/>
<line x1="49.30" y1="161.87" x2="50.50" y2="161.87" stroke="#555" stroke-width="0.8"/>
<line x1="102.61" y1="176.80" x2="102.61" y2="178.00" stroke="#555" stroke-width="0.8"/>
<line x1="49.30" y1="169.33" x2="50.50" y2="169.33" stroke="#555" stroke-width="0.8"/>
<line x1="110.06" y1="176.80" x2="110.06" y2="178.00" stroke="#555" stroke-width="0.8"/>
<text x="51.40" y="117.70" font-size="10.2" fill="#111">95</text>
<text x="116.80" y="117.70" font-size="10.2" text-anchor="end" fill="#111">3</text>
<text x="51.40" y="176.10" font-size="10.2" fill="#111">1</text>
<text x="116.80" y="176.10" font-size="10.2" text-anchor="end" fill="#111">1</text>
<rect x="131.5" y="109.6" width="67.00" height="67.20" fill="none" stroke="#222" stroke-width="1.2"/>
<line x1="170.00" y1="109.60" x2="170.00" y2="176.80" stroke="#2a2a2a" stroke-width="1.2"/>
<line x1="131.50" y1="149.20" x2="198.50" y2="149.20" stroke="#2a2a2a" stroke-width="1.2"/>
<line x1="130.30" y1="117.07" x2="131.50" y2="117.07" stroke="#555" stroke-width="0.8"/>
<line x1="138.94" y1="176.80" x2="138.94" y2="178.00" stroke="#555" stroke-width="0.8"/>
<line x1="130.30" y1="124.53" x2="131.50" y2="124.53" stroke="#555" stroke-width="0.8"/>
<line x1="146.39" y1="176.80" x2="146.39" y2="178.00" stroke="#555" stroke-width="0.8"/>
<line x1="130.30" y1="132.00" x2="131.50" y2="132.00" stroke="#555" stroke-width="0.8"/>
<line x1="153.83" y1="176.80" x2="153.83" y2="178.00" stroke="#555" stroke-width="0.8"/>
<line x1="130.30" y1="139.47" x2="131.50" y2="139.47" stroke="#555" stroke-width="0.8"/>
<line x1="161.28" y1="176.80" x2="161.28" y2="178.00" stroke="#555" stroke-width="0.8"/>
<line x1="130.30" y1="146.93" x2="131.50" y2="146.93" stroke="#555" stroke-width="0.8"/>
<line x1="168.72" y1="176.80" x2="168.72" y2="178.00" stroke="#555" stroke-width="0.8"/>
<line x1="130.30" y1="154.40" x2="131.50" y2="154.40" stroke="#555" stroke-width="0.8"/>
<line x1="176.17" y1="176.80" x2="176.17" y2="178.00" stroke="#555" stroke-width="0.8"/>
<line x1="130.30" y1="161.87" x2="131.50" y2="161.87" stroke="#555" stroke-width="0.8"/>
<line x1="183.61" y1="176.80" x2="183.61" y2="178.00" stroke="#555" stroke-width="0.8"/>
<line x1="130.30" y1="169.33" x2="131.50" y2="169.33" stroke="#555" stroke-width="0.8"/>
<line x1="191.06" y1="176.80" x2="191.06" y2="178.00" stroke="#555" stroke-width="0.8"/>
<text x="132.40" y="117.70" font-size="10.2" fill="#111">89</text>
<text x="197.80" y="117.70" font-size="10.2" text-anchor="end" fill="#111">5</text>
<text x="132.40" y="176.10" font-size="10.2" fill="#111">1</text>
<text x="197.80" y="176.10" font-size="10.2" text-anchor="end" fill="#111">5</text>
<rect x="212.5" y="109.6" width="67.50" height="67.20" fill="none" stroke="#222" stroke-width="1.2"/>
<line x1="251.00" y1="109.60" x2="251.00" y2="176.80" stroke="#2a2a2a" stroke-width="1.2"/>
<line x1="212.50" y1="149.20" x2="280.00" y2="149.20" stroke="#2a2a2a" stroke-width="1.2"/>
<line x1="211.30" y1="117.07" x2="212.50" y2="117.07" stroke="#555" stroke-width="0.8"/>
<line x1="220.00" y1="176.80" x2="220.00" y2="178.00" stroke="#555" stroke-width="0.8"/>
<line x1="211.30" y1="124.53" x2="212.50" y2="124.53" stroke="#555" stroke-width="0.8"/>
<line x1="227.50" y1="176.80" x2="227.50" y2="178.00" stroke="#555" stroke-width="0.8"/>
<line x1="211.30" y1="132.00" x2="212.50" y2="132.00" stroke="#555" stroke-width="0.8"/>
<line x1="235.00" y1="176.80" x2="235.00" y2="178.00" stroke="#555" stroke-width="0.8"/>
<line x1="211.30" y1="139.47" x2="212.50" y2="139.47" stroke="#555" stroke-width="0.8"/>
<line x1="242.50" y1="176.80" x2="242.50" y2="178.00" stroke="#555" stroke-width="0.8"/>
<line x1="211.30" y1="146.93" x2="212.50" y2="146.93" stroke="#555" stroke-width="0.8"/>
<line x1="250.00" y1="176.80" x2="250.00" y2="178.00" stroke="#555" stroke-width="0.8"/>
<line x1="211.30" y1="154.40" x2="212.50" y2="154.40" stroke="#555" stroke-width="0.8"/>
<line x1="257.50" y1="176.80" x2="257.50" y2="178.00" stroke="#555" stroke-width="0.8"/>
<line x1="211.30" y1="161.87" x2="212.50" y2="161.87" stroke="#555" stroke-width="0.8"/>
<line x1="265.00" y1="176.80" x2="265.00" y2="178.00" stroke="#555" stroke-width="0.8"/>
<line x1="211.30" y1="169.33" x2="212.50" y2="169.33" stroke="#555" stroke-width="0.8"/>
<line x1="272.50" y1="176.80" x2="272.50" y2="178.00" stroke="#555" stroke-width="0.8"/>
<text x="213.40" y="117.70" font-size="10.2" fill="#111">18</text>
<text x="279.30" y="117.70" font-size="10.2" text-anchor="end" fill="#111">31</text>
<text x="213.40" y="176.10" font-size="10.2" fill="#111">5</text>
<text x="279.30" y="176.10" font-size="10.2" text-anchor="end" fill="#111">45</text>
<text x="4.60" y="222.10" font-size="15" font-weight="bold" fill="#111">B</text>
<text x="86.20" y="222.00" font-size="15.8" text-anchor="middle" font-style="italic" fill="#111">S. aureus</text>
<text x="14.20" y="267.90" font-size="13" text-anchor="middle" transform="rotate(-90 14.20 267.90)" fill="#111">MFI CD11b</text>
<line x1="35.00" y1="302.60" x2="134.00" y2="302.60" stroke="#222" stroke-width="1.2"/>
<line x1="35.00" y1="302.60" x2="35.00" y2="236.40" stroke="#222" stroke-width="1.2"/>
<line x1="32.80" y1="302.60" x2="35.00" y2="302.60" stroke="#333" stroke-width="0.9"/>
<text x="32.70" y="305.60" font-size="8.3" text-anchor="end" fill="#222">0</text>
<line x1="32.80" y1="289.36" x2="35.00" y2="289.36" stroke="#333" stroke-width="0.9"/>
<text x="32.70" y="292.36" font-size="8.3" text-anchor="end" fill="#222">100</text>
<line x1="32.80" y1="276.12" x2="35.00" y2="276.12" stroke="#333" stroke-width="0.9"/>
<text x="32.70" y="279.12" font-size="8.3" text-anchor="end" fill="#222">200</text>
<line x1="32.80" y1="262.88" x2="35.00" y2="262.88" stroke="#333" stroke-width="0.9"/>
<text x="32.70" y="265.88" font-size="8.3" text-anchor="end" fill="#222">300</text>
<line x1="32.80" y1="249.64" x2="35.00" y2="249.64" stroke="#333" stroke-width="0.9"/>
<text x="32.70" y="252.64" font-size="8.3" text-anchor="end" fill="#222">400</text>
<line x1="32.80" y1="236.40" x2="35.00" y2="236.40" stroke="#333" stroke-width="0.9"/>
<text x="32.70" y="239.40" font-size="8.3" text-anchor="end" fill="#222">500</text>
<line x1="35.00" y1="302.60" x2="35.00" y2="304.80" stroke="#333" stroke-width="0.9"/>
<text x="35.00" y="312.90" font-size="8.3" text-anchor="middle" fill="#222">0</text>
<line x1="50.33" y1="302.60" x2="50.33" y2="304.80" stroke="#333" stroke-width="0.9"/>
<text x="50.33" y="312.90" font-size="8.3" text-anchor="middle" fill="#222">10</text>
<line x1="65.67" y1="302.60" x2="65.67" y2="304.80" stroke="#333" stroke-width="0.9"/>
<text x="65.67" y="312.90" font-size="8.3" text-anchor="middle" fill="#222">20</text>
<line x1="81.00" y1="302.60" x2="81.00" y2="304.80" stroke="#333" stroke-width="0.9"/>
<text x="81.00" y="312.90" font-size="8.3" text-anchor="middle" fill="#222">30</text>
<line x1="96.33" y1="302.60" x2="96.33" y2="304.80" stroke="#333" stroke-width="0.9"/>
<text x="96.33" y="312.90" font-size="8.3" text-anchor="middle" fill="#222">40</text>
<line x1="111.67" y1="302.60" x2="111.67" y2="304.80" stroke="#333" stroke-width="0.9"/>
<text x="111.67" y="312.90" font-size="8.3" text-anchor="middle" fill="#222">50</text>
<line x1="127.00" y1="302.60" x2="127.00" y2="304.80" stroke="#333" stroke-width="0.9"/>
<text x="127.00" y="312.90" font-size="8.3" text-anchor="middle" fill="#222">60</text>
<polyline points="35.00,286.05 50.33,264.20 81.00,245.67 127.00,245.67" fill="none" stroke="#222" stroke-width="1"/>
<rect x="32.10" y="283.15" width="5.8" height="5.8" fill="#fff" stroke="#111" stroke-width="1.0"/>
<rect x="47.43" y="261.30" width="5.8" height="5.8" fill="#fff" stroke="#111" stroke-width="1.0"/>
<rect x="78.10" y="242.77" width="5.8" height="5.8" fill="#fff" stroke="#111" stroke-width="1.0"/>
<rect x="124.10" y="242.77" width="5.8" height="5.8" fill="#fff" stroke="#111" stroke-width="1.0"/>
<polyline points="35.00,294.39 50.33,293.60 81.00,291.21 127.00,292.54" fill="none" stroke="#222" stroke-width="1"/>
<path d="M35.00 290.95L38.30 296.69L31.70 296.69Z" fill="#111"/>
<path d="M50.33 290.15L53.63 295.89L47.03 295.89Z" fill="#111"/>
<path d="M81.00 287.77L84.30 293.51L77.70 293.51Z" fill="#111"/>
<path d="M127.00 289.09L130.30 294.83L123.70 294.83Z" fill="#111"/>
<text x="50.33" y="289.60" font-size="7.6" text-anchor="middle" font-weight="bold" fill="#333">#</text>
<text x="81.00" y="287.21" font-size="7.6" text-anchor="middle" font-weight="bold" fill="#333">#</text>
<text x="127.00" y="288.54" font-size="7.6" text-anchor="middle" font-weight="bold" fill="#333">#</text>
<line x1="37.20" y1="234.30" x2="45.00" y2="234.30" stroke="#222" stroke-width="1.1"/>
<rect x="39.30" y="232.50" width="3.6" height="3.6" fill="#fff" stroke="#111" stroke-width="1.1"/>
<text x="48.30" y="237.70" font-size="9.6" fill="#111">WT</text>
<line x1="37.20" y1="244.60" x2="45.00" y2="244.60" stroke="#222" stroke-width="1.1"/>
<path d="M41.10 240.55L44.40 246.30L37.80 246.30Z" fill="#111"/>
<text x="48.30" y="248.00" font-size="9.6" font-style="italic" fill="#111">syk<tspan font-size="5.76" dy="-3.65">-/-</tspan></text>
<text x="85.70" y="327.00" font-size="12.8" text-anchor="middle" fill="#111">Time (min)</text>
<text x="145.50" y="222.10" font-size="15" font-weight="bold" fill="#111">C</text>
<text x="233.10" y="222.00" font-size="15.8" text-anchor="middle" font-style="italic" fill="#111">E. coli</text>
<text x="155.40" y="267.90" font-size="13" text-anchor="middle" transform="rotate(-90 155.40 267.90)" fill="#111">MFI CD11b</text>
<line x1="176.20" y1="303.60" x2="276.00" y2="303.60" stroke="#222" stroke-width="1.2"/>
<line x1="176.20" y1="303.60" x2="176.20" y2="237.00" stroke="#222" stroke-width="1.2"/>
<line x1="174.00" y1="298.48" x2="176.20" y2="298.48" stroke="#333" stroke-width="0.9"/>
<text x="173.90" y="301.48" font-size="8.3" text-anchor="end" fill="#222">50</text>
<line x1="174.00" y1="288.23" x2="176.20" y2="288.23" stroke="#333" stroke-width="0.9"/>
<text x="173.90" y="291.23" font-size="8.3" text-anchor="end" fill="#222">150</text>
<line x1="174.00" y1="277.98" x2="176.20" y2="277.98" stroke="#333" stroke-width="0.9"/>
<text x="173.90" y="280.98" font-size="8.3" text-anchor="end" fill="#222">250</text>
<line x1="174.00" y1="267.74" x2="176.20" y2="267.74" stroke="#333" stroke-width="0.9"/>
<text x="173.90" y="270.74" font-size="8.3" text-anchor="end" fill="#222">350</text>
<line x1="174.00" y1="257.49" x2="176.20" y2="257.49" stroke="#333" stroke-width="0.9"/>
<text x="173.90" y="260.49" font-size="8.3" text-anchor="end" fill="#222">450</text>
<line x1="174.00" y1="247.25" x2="176.20" y2="247.25" stroke="#333" stroke-width="0.9"/>
<text x="173.90" y="250.25" font-size="8.3" text-anchor="end" fill="#222">550</text>
<line x1="174.00" y1="237.00" x2="176.20" y2="237.00" stroke="#333" stroke-width="0.9"/>
<text x="173.90" y="240.00" font-size="8.3" text-anchor="end" fill="#222">650</text>
<line x1="176.20" y1="303.60" x2="176.20" y2="305.80" stroke="#333" stroke-width="0.9"/>
<text x="176.20" y="313.90" font-size="8.3" text-anchor="middle" fill="#222">0</text>
<line x1="191.57" y1="303.60" x2="191.57" y2="305.80" stroke="#333" stroke-width="0.9"/>
<text x="191.57" y="313.90" font-size="8.3" text-anchor="middle" fill="#222">10</text>
<line x1="206.93" y1="303.60" x2="206.93" y2="305.80" stroke="#333" stroke-width="0.9"/>
<text x="206.93" y="313.90" font-size="8.3" text-anchor="middle" fill="#222">20</text>
<line x1="222.30" y1="303.60" x2="222.30" y2="305.80" stroke="#333" stroke-width="0.9"/>
<text x="222.30" y="313.90" font-size="8.3" text-anchor="middle" fill="#222">30</text>
<line x1="237.67" y1="303.60" x2="237.67" y2="305.80" stroke="#333" stroke-width="0.9"/>
<text x="237.67" y="313.90" font-size="8.3" text-anchor="middle" fill="#222">40</text>
<line x1="253.03" y1="303.60" x2="253.03" y2="305.80" stroke="#333" stroke-width="0.9"/>
<text x="253.03" y="313.90" font-size="8.3" text-anchor="middle" fill="#222">50</text>
<line x1="268.40" y1="303.60" x2="268.40" y2="305.80" stroke="#333" stroke-width="0.9"/>
<text x="268.40" y="313.90" font-size="8.3" text-anchor="middle" fill="#222">60</text>
<polyline points="176.20,297.96 191.57,289.05 222.30,253.70 268.40,248.78" fill="none" stroke="#222" stroke-width="1"/>
<line x1="268.40" y1="242.02" x2="268.40" y2="255.55" stroke="#222" stroke-width="1"/>
<line x1="265.90" y1="242.02" x2="270.90" y2="242.02" stroke="#222" stroke-width="1"/>
<line x1="265.90" y1="255.55" x2="270.90" y2="255.55" stroke="#222" stroke-width="1"/>
<rect x="173.30" y="295.06" width="5.8" height="5.8" fill="#fff" stroke="#111" stroke-width="1.0"/>
<rect x="188.67" y="286.15" width="5.8" height="5.8" fill="#fff" stroke="#111" stroke-width="1.0"/>
<rect x="219.40" y="250.80" width="5.8" height="5.8" fill="#fff" stroke="#111" stroke-width="1.0"/>
<rect x="265.50" y="245.88" width="5.8" height="5.8" fill="#fff" stroke="#111" stroke-width="1.0"/>
<polyline points="176.20,297.96 191.57,291.00 222.30,268.05 268.40,269.99" fill="none" stroke="#222" stroke-width="1"/>
<path d="M176.20 294.52L179.50 300.26L172.90 300.26Z" fill="#111"/>
<path d="M191.57 287.55L194.87 293.29L188.27 293.29Z" fill="#111"/>
<path d="M222.30 264.60L225.60 270.34L219.00 270.34Z" fill="#111"/>
<path d="M268.40 266.55L271.70 272.29L265.10 272.29Z" fill="#111"/>
<text x="222.30" y="267.45" font-size="11" text-anchor="middle" fill="#222">**</text>
<text x="268.40" y="265.99" font-size="7.6" text-anchor="middle" font-weight="bold" fill="#333">#</text>
<line x1="179.80" y1="236.80" x2="187.60" y2="236.80" stroke="#222" stroke-width="1.1"/>
<rect x="181.90" y="235.00" width="3.6" height="3.6" fill="#fff" stroke="#111" stroke-width="1.1"/>
<text x="190.90" y="240.20" font-size="9.6" fill="#111">WT</text>
<line x1="179.80" y1="246.30" x2="187.60" y2="246.30" stroke="#222" stroke-width="1.1"/>
<path d="M183.70 242.25L187.00 248.00L180.40 248.00Z" fill="#111"/>
<text x="190.90" y="249.70" font-size="9.6" font-style="italic" fill="#111">syk<tspan font-size="5.76" dy="-3.65">-/-</tspan></text>
<text x="226.50" y="327.50" font-size="12.8" text-anchor="middle" fill="#111">Time (min)</text>
<text x="4.80" y="358.30" font-size="15" font-weight="bold" fill="#111">D</text>
<text x="13.10" y="412.90" font-size="13.6" text-anchor="middle" transform="rotate(-90 13.10 412.90)" fill="#111">% CD62L Shed</text>
<line x1="35.70" y1="448.50" x2="138.00" y2="448.50" stroke="#222" stroke-width="1.2"/>
<line x1="35.70" y1="448.50" x2="35.70" y2="379.20" stroke="#222" stroke-width="1.2"/>
<line x1="33.50" y1="448.50" x2="35.70" y2="448.50" stroke="#333" stroke-width="0.9"/>
<text x="33.40" y="451.50" font-size="8.3" text-anchor="end" fill="#222">0</text>
<line x1="33.50" y1="431.18" x2="35.70" y2="431.18" stroke="#333" stroke-width="0.9"/>
<text x="33.40" y="434.18" font-size="8.3" text-anchor="end" fill="#222">25</text>
<line x1="33.50" y1="413.85" x2="35.70" y2="413.85" stroke="#333" stroke-width="0.9"/>
<text x="33.40" y="416.85" font-size="8.3" text-anchor="end" fill="#222">50</text>
<line x1="33.50" y1="396.52" x2="35.70" y2="396.52" stroke="#333" stroke-width="0.9"/>
<text x="33.40" y="399.52" font-size="8.3" text-anchor="end" fill="#222">75</text>
<line x1="33.50" y1="379.20" x2="35.70" y2="379.20" stroke="#333" stroke-width="0.9"/>
<text x="33.40" y="382.20" font-size="8.3" text-anchor="end" fill="#222">100</text>
<line x1="35.70" y1="448.50" x2="35.70" y2="450.70" stroke="#333" stroke-width="0.9"/>
<text x="35.70" y="458.80" font-size="8.3" text-anchor="middle" fill="#222">0</text>
<line x1="51.75" y1="448.50" x2="51.75" y2="450.70" stroke="#333" stroke-width="0.9"/>
<text x="51.75" y="458.80" font-size="8.3" text-anchor="middle" fill="#222">10</text>
<line x1="67.80" y1="448.50" x2="67.80" y2="450.70" stroke="#333" stroke-width="0.9"/>
<text x="67.80" y="458.80" font-size="8.3" text-anchor="middle" fill="#222">20</text>
<line x1="83.85" y1="448.50" x2="83.85" y2="450.70" stroke="#333" stroke-width="0.9"/>
<text x="83.85" y="458.80" font-size="8.3" text-anchor="middle" fill="#222">30</text>
<line x1="99.90" y1="448.50" x2="99.90" y2="450.70" stroke="#333" stroke-width="0.9"/>
<text x="99.90" y="458.80" font-size="8.3" text-anchor="middle" fill="#222">40</text>
<line x1="115.95" y1="448.50" x2="115.95" y2="450.70" stroke="#333" stroke-width="0.9"/>
<text x="115.95" y="458.80" font-size="8.3" text-anchor="middle" fill="#222">50</text>
<line x1="132.00" y1="448.50" x2="132.00" y2="450.70" stroke="#333" stroke-width="0.9"/>
<text x="132.00" y="458.80" font-size="8.3" text-anchor="middle" fill="#222">60</text>
<polyline points="35.70,447.11 51.75,436.44 83.85,409.83 132.00,390.08" fill="none" stroke="#222" stroke-width="1"/>
<rect x="32.80" y="444.21" width="5.8" height="5.8" fill="#fff" stroke="#111" stroke-width="1.0"/>
<rect x="48.85" y="433.54" width="5.8" height="5.8" fill="#fff" stroke="#111" stroke-width="1.0"/>
<rect x="80.95" y="406.93" width="5.8" height="5.8" fill="#fff" stroke="#111" stroke-width="1.0"/>
<rect x="129.10" y="387.18" width="5.8" height="5.8" fill="#fff" stroke="#111" stroke-width="1.0"/>
<polyline points="35.70,447.81 51.75,447.81 83.85,445.73 132.00,445.73" fill="none" stroke="#222" stroke-width="1"/>
<path d="M35.70 444.36L39.00 450.10L32.40 450.10Z" fill="#111"/>
<path d="M51.75 444.36L55.05 450.10L48.45 450.10Z" fill="#111"/>
<path d="M83.85 442.28L87.15 448.02L80.55 448.02Z" fill="#111"/>
<path d="M132.00 442.28L135.30 448.02L128.70 448.02Z" fill="#111"/>
<text x="51.75" y="442.42" font-size="7.6" text-anchor="middle" font-weight="bold" fill="#333">#</text>
<text x="83.85" y="440.34" font-size="7.6" text-anchor="middle" font-weight="bold" fill="#333">#</text>
<text x="132.00" y="440.34" font-size="7.6" text-anchor="middle" font-weight="bold" fill="#333">#</text>
<line x1="38.20" y1="376.90" x2="46.00" y2="376.90" stroke="#222" stroke-width="1.1"/>
<rect x="40.30" y="375.10" width="3.6" height="3.6" fill="#fff" stroke="#111" stroke-width="1.1"/>
<text x="49.30" y="380.30" font-size="9.6" fill="#111">WT</text>
<line x1="38.20" y1="387.30" x2="46.00" y2="387.30" stroke="#222" stroke-width="1.1"/>
<path d="M42.10 383.25L45.40 389.00L38.80 389.00Z" fill="#111"/>
<text x="49.30" y="390.70" font-size="9.6" font-style="italic" fill="#111">syk<tspan font-size="5.76" dy="-3.65">-/-</tspan></text>
<text x="88.90" y="473.80" font-size="13.6" text-anchor="middle" fill="#111">Time (min)</text>
<text x="144.40" y="357.40" font-size="15" font-weight="bold" fill="#111">E</text>
<text x="155.50" y="412.00" font-size="13.6" text-anchor="middle" transform="rotate(-90 155.50 412.00)" fill="#111">% CD62L Shed</text>
<line x1="176.20" y1="448.80" x2="278.00" y2="448.80" stroke="#222" stroke-width="1.2"/>
<line x1="176.20" y1="448.80" x2="176.20" y2="379.40" stroke="#222" stroke-width="1.2"/>
<line x1="174.00" y1="448.80" x2="176.20" y2="448.80" stroke="#333" stroke-width="0.9"/>
<text x="173.90" y="451.80" font-size="8.3" text-anchor="end" fill="#222">0</text>
<line x1="174.00" y1="431.45" x2="176.20" y2="431.45" stroke="#333" stroke-width="0.9"/>
<text x="173.90" y="434.45" font-size="8.3" text-anchor="end" fill="#222">25</text>
<line x1="174.00" y1="414.10" x2="176.20" y2="414.10" stroke="#333" stroke-width="0.9"/>
<text x="173.90" y="417.10" font-size="8.3" text-anchor="end" fill="#222">50</text>
<line x1="174.00" y1="396.75" x2="176.20" y2="396.75" stroke="#333" stroke-width="0.9"/>
<text x="173.90" y="399.75" font-size="8.3" text-anchor="end" fill="#222">75</text>
<line x1="174.00" y1="379.40" x2="176.20" y2="379.40" stroke="#333" stroke-width="0.9"/>
<text x="173.90" y="382.40" font-size="8.3" text-anchor="end" fill="#222">100</text>
<line x1="176.20" y1="448.80" x2="176.20" y2="451.00" stroke="#333" stroke-width="0.9"/>
<text x="176.20" y="459.10" font-size="8.3" text-anchor="middle" fill="#222">0</text>
<line x1="192.22" y1="448.80" x2="192.22" y2="451.00" stroke="#333" stroke-width="0.9"/>
<text x="192.22" y="459.10" font-size="8.3" text-anchor="middle" fill="#222">10</text>
<line x1="208.23" y1="448.80" x2="208.23" y2="451.00" stroke="#333" stroke-width="0.9"/>
<text x="208.23" y="459.10" font-size="8.3" text-anchor="middle" fill="#222">20</text>
<line x1="224.25" y1="448.80" x2="224.25" y2="451.00" stroke="#333" stroke-width="0.9"/>
<text x="224.25" y="459.10" font-size="8.3" text-anchor="middle" fill="#222">30</text>
<line x1="240.27" y1="448.80" x2="240.27" y2="451.00" stroke="#333" stroke-width="0.9"/>
<text x="240.27" y="459.10" font-size="8.3" text-anchor="middle" fill="#222">40</text>
<line x1="256.28" y1="448.80" x2="256.28" y2="451.00" stroke="#333" stroke-width="0.9"/>
<text x="256.28" y="459.10" font-size="8.3" text-anchor="middle" fill="#222">50</text>
<line x1="272.30" y1="448.80" x2="272.30" y2="451.00" stroke="#333" stroke-width="0.9"/>
<text x="272.30" y="459.10" font-size="8.3" text-anchor="middle" fill="#222">60</text>
<polyline points="176.20,447.41 192.22,441.17 224.25,391.20 272.30,384.26" fill="none" stroke="#222" stroke-width="1"/>
<rect x="173.30" y="444.51" width="5.8" height="5.8" fill="#fff" stroke="#111" stroke-width="1.0"/>
<rect x="189.32" y="438.27" width="5.8" height="5.8" fill="#fff" stroke="#111" stroke-width="1.0"/>
<rect x="221.35" y="388.30" width="5.8" height="5.8" fill="#fff" stroke="#111" stroke-width="1.0"/>
<rect x="269.40" y="381.36" width="5.8" height="5.8" fill="#fff" stroke="#111" stroke-width="1.0"/>
<polyline points="176.20,447.41 192.22,442.55 224.25,417.57 272.30,423.12" fill="none" stroke="#222" stroke-width="1"/>
<path d="M176.20 443.97L179.50 449.71L172.90 449.71Z" fill="#111"/>
<path d="M192.22 439.11L195.52 444.85L188.92 444.85Z" fill="#111"/>
<path d="M224.25 414.12L227.55 419.87L220.95 419.87Z" fill="#111"/>
<path d="M272.30 419.68L275.60 425.42L269.00 425.42Z" fill="#111"/>
<text x="224.25" y="412.18" font-size="7.6" text-anchor="middle" font-weight="bold" fill="#333">#</text>
<text x="272.30" y="417.73" font-size="7.6" text-anchor="middle" font-weight="bold" fill="#333">#</text>
<line x1="180.60" y1="376.70" x2="188.40" y2="376.70" stroke="#222" stroke-width="1.1"/>
<rect x="182.70" y="374.90" width="3.6" height="3.6" fill="#fff" stroke="#111" stroke-width="1.1"/>
<text x="191.70" y="380.10" font-size="9.6" fill="#111">WT</text>
<line x1="180.60" y1="386.80" x2="188.40" y2="386.80" stroke="#222" stroke-width="1.1"/>
<path d="M184.50 382.75L187.80 388.50L181.20 388.50Z" fill="#111"/>
<text x="191.70" y="390.20" font-size="9.6" font-style="italic" fill="#111">syk<tspan font-size="5.76" dy="-3.65">-/-</tspan></text>
<text x="228.70" y="474.20" font-size="13.3" text-anchor="middle" fill="#111">Time (min)</text>
<text x="5.00" y="503.70" font-size="15" font-weight="bold" fill="#111">F</text>
<text x="13.10" y="560.50" font-size="13.6" text-anchor="middle" transform="rotate(-90 13.10 560.50)" fill="#111">% CD62L Shed</text>
<line x1="33.50" y1="597.90" x2="136.00" y2="597.90" stroke="#222" stroke-width="1.2"/>
<line x1="33.50" y1="597.90" x2="33.50" y2="528.00" stroke="#222" stroke-width="1.2"/>
<line x1="31.30" y1="597.90" x2="33.50" y2="597.90" stroke="#333" stroke-width="0.9"/>
<text x="31.20" y="600.90" font-size="8.3" text-anchor="end" fill="#222">0</text>
<line x1="31.30" y1="580.42" x2="33.50" y2="580.42" stroke="#333" stroke-width="0.9"/>
<text x="31.20" y="583.42" font-size="8.3" text-anchor="end" fill="#222">25</text>
<line x1="31.30" y1="562.95" x2="33.50" y2="562.95" stroke="#333" stroke-width="0.9"/>
<text x="31.20" y="565.95" font-size="8.3" text-anchor="end" fill="#222">50</text>
<line x1="31.30" y1="545.48" x2="33.50" y2="545.48" stroke="#333" stroke-width="0.9"/>
<text x="31.20" y="548.48" font-size="8.3" text-anchor="end" fill="#222">75</text>
<line x1="31.30" y1="528.00" x2="33.50" y2="528.00" stroke="#333" stroke-width="0.9"/>
<text x="31.20" y="531.00" font-size="8.3" text-anchor="end" fill="#222">100</text>
<line x1="33.50" y1="597.90" x2="33.50" y2="600.10" stroke="#333" stroke-width="0.9"/>
<text x="33.50" y="608.20" font-size="8.3" text-anchor="middle" fill="#222">0</text>
<line x1="49.58" y1="597.90" x2="49.58" y2="600.10" stroke="#333" stroke-width="0.9"/>
<text x="49.58" y="608.20" font-size="8.3" text-anchor="middle" fill="#222">10</text>
<line x1="65.67" y1="597.90" x2="65.67" y2="600.10" stroke="#333" stroke-width="0.9"/>
<text x="65.67" y="608.20" font-size="8.3" text-anchor="middle" fill="#222">20</text>
<line x1="81.75" y1="597.90" x2="81.75" y2="600.10" stroke="#333" stroke-width="0.9"/>
<text x="81.75" y="608.20" font-size="8.3" text-anchor="middle" fill="#222">30</text>
<line x1="97.83" y1="597.90" x2="97.83" y2="600.10" stroke="#333" stroke-width="0.9"/>
<text x="97.83" y="608.20" font-size="8.3" text-anchor="middle" fill="#222">40</text>
<line x1="113.92" y1="597.90" x2="113.92" y2="600.10" stroke="#333" stroke-width="0.9"/>
<text x="113.92" y="608.20" font-size="8.3" text-anchor="middle" fill="#222">50</text>
<line x1="130.00" y1="597.90" x2="130.00" y2="600.10" stroke="#333" stroke-width="0.9"/>
<text x="130.00" y="608.20" font-size="8.3" text-anchor="middle" fill="#222">60</text>
<polyline points="33.50,594.40 49.58,572.04 81.75,541.28 130.00,533.59" fill="none" stroke="#222" stroke-width="1"/>
<rect x="30.60" y="591.50" width="5.8" height="5.8" fill="#fff" stroke="#111" stroke-width="1.0"/>
<rect x="46.68" y="569.14" width="5.8" height="5.8" fill="#fff" stroke="#111" stroke-width="1.0"/>
<rect x="78.85" y="538.38" width="5.8" height="5.8" fill="#fff" stroke="#111" stroke-width="1.0"/>
<rect x="127.10" y="530.69" width="5.8" height="5.8" fill="#fff" stroke="#111" stroke-width="1.0"/>
<polyline points="33.50,594.40 49.58,581.82 81.75,565.05 130.00,559.46" fill="none" stroke="#777" stroke-width="1"/>
<path d="M33.50 597.85L36.80 592.11L30.20 592.11Z" fill="#8a8a8a" stroke="#666" stroke-width="0.5"/>
<path d="M49.58 585.27L52.88 579.53L46.28 579.53Z" fill="#8a8a8a" stroke="#666" stroke-width="0.5"/>
<path d="M81.75 568.49L85.05 562.75L78.45 562.75Z" fill="#8a8a8a" stroke="#666" stroke-width="0.5"/>
<path d="M130.00 562.90L133.30 557.16L126.70 557.16Z" fill="#8a8a8a" stroke="#666" stroke-width="0.5"/>
<polyline points="33.50,588.81 49.58,580.42 81.75,565.05 130.00,559.46" fill="none" stroke="#222" stroke-width="1"/>
<line x1="81.75" y1="560.85" x2="81.75" y2="569.24" stroke="#222" stroke-width="1"/>
<line x1="79.25" y1="560.85" x2="84.25" y2="560.85" stroke="#222" stroke-width="1"/>
<line x1="79.25" y1="569.24" x2="84.25" y2="569.24" stroke="#222" stroke-width="1"/>
<line x1="130.00" y1="556.66" x2="130.00" y2="562.25" stroke="#222" stroke-width="1"/>
<line x1="127.50" y1="556.66" x2="132.50" y2="556.66" stroke="#222" stroke-width="1"/>
<line x1="127.50" y1="562.25" x2="132.50" y2="562.25" stroke="#222" stroke-width="1"/>
<path d="M33.50 585.31L37.00 588.81L33.50 592.31L30.00 588.81Z" fill="#111"/>
<path d="M49.58 576.92L53.08 580.42L49.58 583.92L46.08 580.42Z" fill="#111"/>
<path d="M81.75 561.55L85.25 565.05L81.75 568.55L78.25 565.05Z" fill="#111"/>
<path d="M130.00 555.96L133.50 559.46L130.00 562.96L126.50 559.46Z" fill="#111"/>
<text x="81.75" y="556.85" font-size="7.6" text-anchor="middle" font-weight="bold" fill="#333">#</text>
<text x="130.00" y="552.66" font-size="7.6" text-anchor="middle" font-weight="bold" fill="#333">#</text>
<line x1="36.50" y1="513.10" x2="44.30" y2="513.10" stroke="#222" stroke-width="1.1"/>
<rect x="38.60" y="511.30" width="3.6" height="3.6" fill="#fff" stroke="#111" stroke-width="1.1"/>
<text x="47.60" y="516.50" font-size="9.6" fill="#111">WT</text>
<line x1="36.50" y1="524.60" x2="44.30" y2="524.60" stroke="#888" stroke-width="1.1"/>
<path d="M40.40 527.12L43.10 522.42L37.70 522.42Z" fill="#999" stroke="#666" stroke-width="0.5"/>
<text x="47.60" y="528.00" font-size="9.6" font-style="italic" fill="#111">CD11b<tspan font-size="5.76" dy="-3.65">-/-</tspan></text>
<line x1="36.50" y1="534.60" x2="44.30" y2="534.60" stroke="#222" stroke-width="1.1"/>
<path d="M40.40 530.90L44.10 534.60L40.40 538.30L36.70 534.60Z" fill="#111"/>
<text x="47.60" y="538.00" font-size="9.6" font-style="italic" fill="#111">CD18<tspan font-size="5.76" dy="-3.65">-/-</tspan></text>
<text x="86.50" y="623.40" font-size="13.3" text-anchor="middle" fill="#111">Time (min)</text>
<text x="143.80" y="504.00" font-size="15" font-weight="bold" fill="#111">G</text>
<text x="155.50" y="560.00" font-size="13.6" text-anchor="middle" transform="rotate(-90 155.50 560.00)" fill="#111">% CD62L Shed</text>
<line x1="175.50" y1="597.00" x2="282.00" y2="597.00" stroke="#222" stroke-width="1.2"/>
<line x1="175.50" y1="597.00" x2="175.50" y2="524.80" stroke="#222" stroke-width="1.2"/>
<line x1="173.30" y1="597.00" x2="175.50" y2="597.00" stroke="#333" stroke-width="0.9"/>
<text x="173.20" y="600.00" font-size="8.3" text-anchor="end" fill="#222">0</text>
<line x1="173.30" y1="578.95" x2="175.50" y2="578.95" stroke="#333" stroke-width="0.9"/>
<text x="173.20" y="581.95" font-size="8.3" text-anchor="end" fill="#222">25</text>
<line x1="173.30" y1="560.90" x2="175.50" y2="560.90" stroke="#333" stroke-width="0.9"/>
<text x="173.20" y="563.90" font-size="8.3" text-anchor="end" fill="#222">50</text>
<line x1="173.30" y1="542.85" x2="175.50" y2="542.85" stroke="#333" stroke-width="0.9"/>
<text x="173.20" y="545.85" font-size="8.3" text-anchor="end" fill="#222">75</text>
<line x1="173.30" y1="524.80" x2="175.50" y2="524.80" stroke="#333" stroke-width="0.9"/>
<text x="173.20" y="527.80" font-size="8.3" text-anchor="end" fill="#222">100</text>
<line x1="175.50" y1="597.00" x2="175.50" y2="599.20" stroke="#333" stroke-width="0.9"/>
<text x="175.50" y="607.30" font-size="8.3" text-anchor="middle" fill="#222">0</text>
<line x1="192.20" y1="597.00" x2="192.20" y2="599.20" stroke="#333" stroke-width="0.9"/>
<text x="192.20" y="607.30" font-size="8.3" text-anchor="middle" fill="#222">10</text>
<line x1="208.90" y1="597.00" x2="208.90" y2="599.20" stroke="#333" stroke-width="0.9"/>
<text x="208.90" y="607.30" font-size="8.3" text-anchor="middle" fill="#222">20</text>
<line x1="225.60" y1="597.00" x2="225.60" y2="599.20" stroke="#333" stroke-width="0.9"/>
<text x="225.60" y="607.30" font-size="8.3" text-anchor="middle" fill="#222">30</text>
<line x1="242.30" y1="597.00" x2="242.30" y2="599.20" stroke="#333" stroke-width="0.9"/>
<text x="242.30" y="607.30" font-size="8.3" text-anchor="middle" fill="#222">40</text>
<line x1="259.00" y1="597.00" x2="259.00" y2="599.20" stroke="#333" stroke-width="0.9"/>
<text x="259.00" y="607.30" font-size="8.3" text-anchor="middle" fill="#222">50</text>
<line x1="275.70" y1="597.00" x2="275.70" y2="599.20" stroke="#333" stroke-width="0.9"/>
<text x="275.70" y="607.30" font-size="8.3" text-anchor="middle" fill="#222">60</text>
<polyline points="175.50,595.56 192.20,590.50 225.60,537.80 275.70,529.85" fill="none" stroke="#222" stroke-width="1"/>
<rect x="172.60" y="592.66" width="5.8" height="5.8" fill="#fff" stroke="#111" stroke-width="1.0"/>
<rect x="189.30" y="587.60" width="5.8" height="5.8" fill="#fff" stroke="#111" stroke-width="1.0"/>
<rect x="222.70" y="534.90" width="5.8" height="5.8" fill="#fff" stroke="#111" stroke-width="1.0"/>
<rect x="272.80" y="526.95" width="5.8" height="5.8" fill="#fff" stroke="#111" stroke-width="1.0"/>
<polyline points="175.50,593.39 192.20,586.89 225.60,552.24 275.70,535.63" fill="none" stroke="#777" stroke-width="1"/>
<path d="M175.50 596.84L178.80 591.09L172.20 591.09Z" fill="#8a8a8a" stroke="#666" stroke-width="0.5"/>
<path d="M192.20 590.34L195.50 584.60L188.90 584.60Z" fill="#8a8a8a" stroke="#666" stroke-width="0.5"/>
<path d="M225.60 555.68L228.90 549.94L222.30 549.94Z" fill="#8a8a8a" stroke="#666" stroke-width="0.5"/>
<path d="M275.70 539.08L279.00 533.33L272.40 533.33Z" fill="#8a8a8a" stroke="#666" stroke-width="0.5"/>
<text x="225.60" y="545.35" font-size="7.6" text-anchor="middle" font-weight="bold" fill="#333">#</text>
<polyline points="175.50,592.67 192.20,586.89 225.60,571.73 275.70,573.17" fill="none" stroke="#222" stroke-width="1"/>
<path d="M175.50 589.17L179.00 592.67L175.50 596.17L172.00 592.67Z" fill="#111"/>
<path d="M192.20 583.39L195.70 586.89L192.20 590.39L188.70 586.89Z" fill="#111"/>
<path d="M225.60 568.23L229.10 571.73L225.60 575.23L222.10 571.73Z" fill="#111"/>
<path d="M275.70 569.67L279.20 573.17L275.70 576.67L272.20 573.17Z" fill="#111"/>
<text x="225.60" y="564.84" font-size="7.6" text-anchor="middle" font-weight="bold" fill="#333">#</text>
<line x1="179.70" y1="516.00" x2="187.50" y2="516.00" stroke="#222" stroke-width="1.1"/>
<rect x="181.80" y="514.20" width="3.6" height="3.6" fill="#fff" stroke="#111" stroke-width="1.1"/>
<text x="190.80" y="519.40" font-size="9.6" fill="#111">WT</text>
<line x1="179.70" y1="527.50" x2="187.50" y2="527.50" stroke="#888" stroke-width="1.1"/>
<path d="M183.60 530.02L186.30 525.32L180.90 525.32Z" fill="#999" stroke="#666" stroke-width="0.5"/>
<text x="190.80" y="530.90" font-size="9.6" font-style="italic" fill="#111">CD11b<tspan font-size="5.76" dy="-3.65">-/-</tspan></text>
<line x1="179.70" y1="538.60" x2="187.50" y2="538.60" stroke="#222" stroke-width="1.1"/>
<path d="M183.60 534.90L187.30 538.60L183.60 542.30L179.90 538.60Z" fill="#111"/>
<text x="190.80" y="542.00" font-size="9.6" font-style="italic" fill="#111">CD18<tspan font-size="5.76" dy="-3.65">-/-</tspan></text>
<text x="231.70" y="624.80" font-size="14.0" text-anchor="middle" fill="#111">Time (min)</text>
<defs><pattern id="hatch" patternUnits="userSpaceOnUse" width="2.7" height="2.7" patternTransform="rotate(-45)"><rect width="2.7" height="2.7" fill="#1a1a1a"/><rect width="1.15" height="2.7" fill="#fff"/></pattern><pattern id="hatch2" patternUnits="userSpaceOnUse" width="4" height="4" patternTransform="rotate(-45)"><rect width="4" height="4" fill="#111"/><rect x="1.2" width="1.6" height="4" fill="#fff"/></pattern></defs>
<text x="303.30" y="13.00" font-size="14.2" font-weight="bold" fill="#111">H</text>
<text x="317.50" y="60.80" font-size="14.6" text-anchor="middle" transform="rotate(-90 317.50 60.80)" fill="#111">MFI CD11b</text>
<rect x="344.50" y="88.48" width="5.80" height="8.12" fill="#fff" stroke="#222" stroke-width="0.9"/>
<rect x="352.90" y="89.31" width="5.80" height="7.29" fill="#111" stroke="#222" stroke-width="0.9"/>
<rect x="366.40" y="65.88" width="5.80" height="30.72" fill="#fff" stroke="#222" stroke-width="0.9"/>
<rect x="374.60" y="88.16" width="5.80" height="8.44" fill="#111" stroke="#222" stroke-width="0.9"/>
<rect x="388.50" y="37.97" width="5.80" height="58.63" fill="#fff" stroke="#222" stroke-width="0.9"/>
<rect x="396.50" y="89.62" width="5.80" height="6.98" fill="#111" stroke="#222" stroke-width="0.9"/>
<rect x="410.20" y="46.92" width="5.80" height="49.68" fill="#fff" stroke="#222" stroke-width="0.9"/>
<rect x="418.40" y="81.40" width="5.80" height="15.20" fill="#111" stroke="#222" stroke-width="0.9"/>
<line x1="435.50" y1="40.05" x2="435.50" y2="39.01" stroke="#222" stroke-width="0.9"/>
<line x1="434.00" y1="39.01" x2="437.00" y2="39.01" stroke="#222" stroke-width="0.9"/>
<rect x="432.60" y="40.05" width="5.80" height="56.55" fill="#fff" stroke="#222" stroke-width="0.9"/>
<rect x="440.80" y="68.27" width="5.80" height="28.33" fill="#111" stroke="#222" stroke-width="0.9"/>
<text x="377.50" y="75.34" font-size="7.6" text-anchor="middle" font-weight="bold" fill="#333">#</text>
<text x="399.40" y="75.34" font-size="7.6" text-anchor="middle" font-weight="bold" fill="#333">#</text>
<text x="421.30" y="75.34" font-size="7.6" text-anchor="middle" font-weight="bold" fill="#333">#</text>
<text x="443.80" y="63.24" font-size="7.6" text-anchor="middle" font-weight="bold" fill="#333">#</text>
<line x1="340.50" y1="96.60" x2="450.00" y2="96.60" stroke="#1a1a1a" stroke-width="1.2"/>
<line x1="340.50" y1="96.60" x2="340.50" y2="23.70" stroke="#222" stroke-width="1.2"/>
<line x1="338.30" y1="96.60" x2="340.50" y2="96.60" stroke="#333" stroke-width="0.9"/>
<text x="338.10" y="99.91" font-size="9.2" text-anchor="end" fill="#222">0</text>
<line x1="338.30" y1="86.19" x2="340.50" y2="86.19" stroke="#333" stroke-width="0.9"/>
<text x="338.10" y="89.50" font-size="9.2" text-anchor="end" fill="#222">100</text>
<line x1="338.30" y1="75.77" x2="340.50" y2="75.77" stroke="#333" stroke-width="0.9"/>
<text x="338.10" y="79.08" font-size="9.2" text-anchor="end" fill="#222">200</text>
<line x1="338.30" y1="65.36" x2="340.50" y2="65.36" stroke="#333" stroke-width="0.9"/>
<text x="338.10" y="68.67" font-size="9.2" text-anchor="end" fill="#222">300</text>
<line x1="338.30" y1="54.94" x2="340.50" y2="54.94" stroke="#333" stroke-width="0.9"/>
<text x="338.10" y="58.25" font-size="9.2" text-anchor="end" fill="#222">400</text>
<line x1="338.30" y1="44.53" x2="340.50" y2="44.53" stroke="#333" stroke-width="0.9"/>
<text x="338.10" y="47.84" font-size="9.2" text-anchor="end" fill="#222">500</text>
<line x1="338.30" y1="34.11" x2="340.50" y2="34.11" stroke="#333" stroke-width="0.9"/>
<text x="338.10" y="37.43" font-size="9.2" text-anchor="end" fill="#222">600</text>
<line x1="338.30" y1="23.70" x2="340.50" y2="23.70" stroke="#333" stroke-width="0.9"/>
<text x="338.10" y="27.01" font-size="9.2" text-anchor="end" fill="#222">700</text>
<line x1="352.00" y1="96.60" x2="352.00" y2="98.40" stroke="#333" stroke-width="0.9"/>
<line x1="373.50" y1="96.60" x2="373.50" y2="98.40" stroke="#333" stroke-width="0.9"/>
<line x1="395.30" y1="96.60" x2="395.30" y2="98.40" stroke="#333" stroke-width="0.9"/>
<line x1="417.30" y1="96.60" x2="417.30" y2="98.40" stroke="#333" stroke-width="0.9"/>
<line x1="439.60" y1="96.60" x2="439.60" y2="98.40" stroke="#333" stroke-width="0.9"/>
<text x="305.20" y="135.70" font-size="15.5" font-weight="bold" fill="#111">I</text>
<text x="317.70" y="189.90" font-size="14.3" text-anchor="middle" transform="rotate(-90 317.70 189.90)" fill="#111">% CD62L Shed</text>
<rect x="342.70" y="227.36" width="4.80" height="0.74" fill="#fff" stroke="#222" stroke-width="0.9"/>
<rect x="350.60" y="227.73" width="4.80" height="0.37" fill="#111" stroke="#222" stroke-width="0.9"/>
<rect x="357.90" y="227.36" width="4.80" height="0.74" fill="#9a9a9a" stroke="#222" stroke-width="0.9"/>
<rect x="364.80" y="225.16" width="4.80" height="2.94" fill="url(#hatch)" stroke="#222" stroke-width="0.9"/>
<rect x="376.40" y="208.25" width="4.80" height="19.84" fill="#fff" stroke="#222" stroke-width="0.9"/>
<rect x="384.00" y="224.42" width="4.80" height="3.68" fill="#111" stroke="#222" stroke-width="0.9"/>
<rect x="391.20" y="218.18" width="4.80" height="9.92" fill="#9a9a9a" stroke="#222" stroke-width="0.9"/>
<rect x="398.40" y="216.34" width="4.80" height="11.76" fill="url(#hatch)" stroke="#222" stroke-width="0.9"/>
<rect x="410.00" y="174.44" width="4.80" height="53.66" fill="#fff" stroke="#222" stroke-width="0.9"/>
<rect x="417.30" y="227.00" width="4.80" height="1.10" fill="#111" stroke="#222" stroke-width="0.9"/>
<rect x="424.40" y="220.38" width="4.80" height="7.72" fill="#9a9a9a" stroke="#222" stroke-width="0.9"/>
<rect x="431.50" y="209.28" width="4.80" height="18.82" fill="url(#hatch)" stroke="#222" stroke-width="0.9"/>
<rect x="443.30" y="199.44" width="4.80" height="28.66" fill="#fff" stroke="#222" stroke-width="0.9"/>
<rect x="450.60" y="225.75" width="4.80" height="2.35" fill="#111" stroke="#222" stroke-width="0.9"/>
<rect x="457.70" y="221.04" width="4.80" height="7.06" fill="#9a9a9a" stroke="#222" stroke-width="0.9"/>
<rect x="464.80" y="217.30" width="4.80" height="10.80" fill="url(#hatch)" stroke="#222" stroke-width="0.9"/>
<rect x="476.40" y="165.62" width="4.80" height="62.47" fill="#fff" stroke="#222" stroke-width="0.9"/>
<rect x="483.80" y="224.06" width="4.80" height="4.04" fill="#111" stroke="#222" stroke-width="0.9"/>
<rect x="490.90" y="211.93" width="4.80" height="16.17" fill="#9a9a9a" stroke="#222" stroke-width="0.9"/>
<rect x="498.20" y="208.25" width="4.80" height="19.84" fill="url(#hatch)" stroke="#222" stroke-width="0.9"/>
<text x="385.80" y="218.24" font-size="7.6" text-anchor="middle" font-weight="bold" fill="#333">#</text>
<text x="393.60" y="212.54" font-size="7.6" text-anchor="middle" font-weight="bold" fill="#333">#</text>
<text x="400.50" y="212.54" font-size="7.6" text-anchor="middle" font-weight="bold" fill="#333">#</text>
<text x="420.00" y="223.04" font-size="7.6" text-anchor="middle" font-weight="bold" fill="#333">#</text>
<text x="426.80" y="215.04" font-size="7.6" text-anchor="middle" font-weight="bold" fill="#333">#</text>
<text x="433.80" y="206.54" font-size="7.6" text-anchor="middle" font-weight="bold" fill="#333">#</text>
<text x="452.80" y="221.94" font-size="7.6" text-anchor="middle" font-weight="bold" fill="#333">#</text>
<text x="460.00" y="217.04" font-size="7.6" text-anchor="middle" font-weight="bold" fill="#333">#</text>
<text x="467.00" y="212.24" font-size="7.6" text-anchor="middle" font-weight="bold" fill="#333">#</text>
<text x="486.00" y="218.94" font-size="7.6" text-anchor="middle" font-weight="bold" fill="#333">#</text>
<text x="493.20" y="209.04" font-size="7.6" text-anchor="middle" font-weight="bold" fill="#333">#</text>
<text x="500.50" y="204.54" font-size="7.6" text-anchor="middle" font-weight="bold" fill="#333">#</text>
<line x1="339.50" y1="228.10" x2="507.50" y2="228.10" stroke="#1a1a1a" stroke-width="1.2"/>
<line x1="339.50" y1="228.10" x2="339.50" y2="154.60" stroke="#222" stroke-width="1.2"/>
<line x1="337.30" y1="228.10" x2="339.50" y2="228.10" stroke="#333" stroke-width="0.9"/>
<text x="337.10" y="231.34" font-size="9.0" text-anchor="end" fill="#222">0</text>
<line x1="337.30" y1="209.72" x2="339.50" y2="209.72" stroke="#333" stroke-width="0.9"/>
<text x="337.10" y="212.97" font-size="9.0" text-anchor="end" fill="#222">25</text>
<line x1="337.30" y1="191.35" x2="339.50" y2="191.35" stroke="#333" stroke-width="0.9"/>
<text x="337.10" y="194.59" font-size="9.0" text-anchor="end" fill="#222">50</text>
<line x1="337.30" y1="172.97" x2="339.50" y2="172.97" stroke="#333" stroke-width="0.9"/>
<text x="337.10" y="176.22" font-size="9.0" text-anchor="end" fill="#222">75</text>
<line x1="337.30" y1="154.60" x2="339.50" y2="154.60" stroke="#333" stroke-width="0.9"/>
<text x="337.10" y="157.84" font-size="9.0" text-anchor="end" fill="#222">100</text>
<line x1="356.40" y1="228.10" x2="356.40" y2="229.90" stroke="#333" stroke-width="0.9"/>
<line x1="389.80" y1="228.10" x2="389.80" y2="229.90" stroke="#333" stroke-width="0.9"/>
<line x1="423.20" y1="228.10" x2="423.20" y2="229.90" stroke="#333" stroke-width="0.9"/>
<line x1="456.60" y1="228.10" x2="456.60" y2="229.90" stroke="#333" stroke-width="0.9"/>
<line x1="490.00" y1="228.10" x2="490.00" y2="229.90" stroke="#333" stroke-width="0.9"/>
<text x="302.60" y="406.60" font-size="15.5" font-weight="bold" fill="#111">K</text>
<text x="317.70" y="445.00" font-size="13.5" text-anchor="middle" transform="rotate(-90 317.70 445.00)" fill="#111">Gelatinase</text>
<text x="329.90" y="446.00" font-size="13" text-anchor="middle" transform="rotate(-90 329.90 446.00)" fill="#111">(Fold Change)</text>
<rect x="345.60" y="464.88" width="3.70" height="16.23" fill="#fff" stroke="#222" stroke-width="0.9"/>
<line x1="352.30" y1="472.66" x2="352.30" y2="472.01" stroke="#222" stroke-width="0.9"/>
<line x1="350.80" y1="472.01" x2="353.80" y2="472.01" stroke="#222" stroke-width="0.9"/>
<rect x="350.45" y="472.66" width="3.70" height="8.44" fill="#111" stroke="#222" stroke-width="0.9"/>
<line x1="357.15" y1="472.99" x2="357.15" y2="472.34" stroke="#222" stroke-width="0.9"/>
<line x1="355.65" y1="472.34" x2="358.65" y2="472.34" stroke="#222" stroke-width="0.9"/>
<rect x="355.30" y="472.99" width="3.70" height="8.11" fill="#9a9a9a" stroke="#222" stroke-width="0.9"/>
<line x1="362.00" y1="473.80" x2="362.00" y2="473.15" stroke="#222" stroke-width="0.9"/>
<line x1="360.50" y1="473.15" x2="363.50" y2="473.15" stroke="#222" stroke-width="0.9"/>
<rect x="360.15" y="473.80" width="3.70" height="7.30" fill="url(#hatch)" stroke="#222" stroke-width="0.9"/>
<rect x="368.40" y="441.19" width="3.70" height="39.91" fill="#fff" stroke="#222" stroke-width="0.9"/>
<line x1="375.10" y1="466.01" x2="375.10" y2="465.52" stroke="#222" stroke-width="0.9"/>
<line x1="373.60" y1="465.52" x2="376.60" y2="465.52" stroke="#222" stroke-width="0.9"/>
<rect x="373.25" y="466.01" width="3.70" height="15.09" fill="#111" stroke="#222" stroke-width="0.9"/>
<line x1="379.95" y1="458.71" x2="379.95" y2="457.57" stroke="#222" stroke-width="0.9"/>
<line x1="378.45" y1="457.57" x2="381.45" y2="457.57" stroke="#222" stroke-width="0.9"/>
<rect x="378.10" y="458.71" width="3.70" height="22.39" fill="#9a9a9a" stroke="#222" stroke-width="0.9"/>
<line x1="384.80" y1="457.25" x2="384.80" y2="453.68" stroke="#222" stroke-width="0.9"/>
<line x1="383.30" y1="453.68" x2="386.30" y2="453.68" stroke="#222" stroke-width="0.9"/>
<rect x="382.95" y="457.25" width="3.70" height="23.85" fill="url(#hatch)" stroke="#222" stroke-width="0.9"/>
<rect x="391.30" y="442.16" width="3.70" height="38.94" fill="#fff" stroke="#222" stroke-width="0.9"/>
<line x1="398.00" y1="466.01" x2="398.00" y2="465.52" stroke="#222" stroke-width="0.9"/>
<line x1="396.50" y1="465.52" x2="399.50" y2="465.52" stroke="#222" stroke-width="0.9"/>
<rect x="396.15" y="466.01" width="3.70" height="15.09" fill="#111" stroke="#222" stroke-width="0.9"/>
<line x1="402.85" y1="456.28" x2="402.85" y2="453.84" stroke="#222" stroke-width="0.9"/>
<line x1="401.35" y1="453.84" x2="404.35" y2="453.84" stroke="#222" stroke-width="0.9"/>
<rect x="401.00" y="456.28" width="3.70" height="24.82" fill="#9a9a9a" stroke="#222" stroke-width="0.9"/>
<line x1="407.70" y1="452.87" x2="407.70" y2="449.62" stroke="#222" stroke-width="0.9"/>
<line x1="406.20" y1="449.62" x2="409.20" y2="449.62" stroke="#222" stroke-width="0.9"/>
<rect x="405.85" y="452.87" width="3.70" height="28.23" fill="url(#hatch)" stroke="#222" stroke-width="0.9"/>
<line x1="415.85" y1="431.61" x2="415.85" y2="429.99" stroke="#222" stroke-width="0.9"/>
<line x1="414.35" y1="429.99" x2="417.35" y2="429.99" stroke="#222" stroke-width="0.9"/>
<rect x="414.00" y="431.61" width="3.70" height="49.49" fill="#fff" stroke="#222" stroke-width="0.9"/>
<line x1="420.70" y1="454.33" x2="420.70" y2="453.68" stroke="#222" stroke-width="0.9"/>
<line x1="419.20" y1="453.68" x2="422.20" y2="453.68" stroke="#222" stroke-width="0.9"/>
<rect x="418.85" y="454.33" width="3.70" height="26.77" fill="#111" stroke="#222" stroke-width="0.9"/>
<line x1="425.55" y1="441.84" x2="425.55" y2="435.35" stroke="#222" stroke-width="0.9"/>
<line x1="424.05" y1="435.35" x2="427.05" y2="435.35" stroke="#222" stroke-width="0.9"/>
<rect x="423.70" y="441.84" width="3.70" height="39.26" fill="#9a9a9a" stroke="#222" stroke-width="0.9"/>
<line x1="430.40" y1="457.09" x2="430.40" y2="453.84" stroke="#222" stroke-width="0.9"/>
<line x1="428.90" y1="453.84" x2="431.90" y2="453.84" stroke="#222" stroke-width="0.9"/>
<rect x="428.55" y="457.09" width="3.70" height="24.01" fill="url(#hatch)" stroke="#222" stroke-width="0.9"/>
<line x1="438.75" y1="421.39" x2="438.75" y2="420.42" stroke="#222" stroke-width="0.9"/>
<line x1="437.25" y1="420.42" x2="440.25" y2="420.42" stroke="#222" stroke-width="0.9"/>
<rect x="436.90" y="421.39" width="3.70" height="59.71" fill="#fff" stroke="#222" stroke-width="0.9"/>
<line x1="443.60" y1="461.95" x2="443.60" y2="460.98" stroke="#222" stroke-width="0.9"/>
<line x1="442.10" y1="460.98" x2="445.10" y2="460.98" stroke="#222" stroke-width="0.9"/>
<rect x="441.75" y="461.95" width="3.70" height="19.15" fill="#111" stroke="#222" stroke-width="0.9"/>
<line x1="448.45" y1="449.46" x2="448.45" y2="447.03" stroke="#222" stroke-width="0.9"/>
<line x1="446.95" y1="447.03" x2="449.95" y2="447.03" stroke="#222" stroke-width="0.9"/>
<rect x="446.60" y="449.46" width="3.70" height="31.64" fill="#9a9a9a" stroke="#222" stroke-width="0.9"/>
<line x1="453.30" y1="453.19" x2="453.30" y2="448.33" stroke="#222" stroke-width="0.9"/>
<line x1="451.80" y1="448.33" x2="454.80" y2="448.33" stroke="#222" stroke-width="0.9"/>
<rect x="451.45" y="453.19" width="3.70" height="27.91" fill="url(#hatch)" stroke="#222" stroke-width="0.9"/>
<text x="352.30" y="472.21" font-size="9.5" text-anchor="middle" font-weight="bold" fill="#222">*</text>
<text x="357.20" y="472.21" font-size="9.5" text-anchor="middle" font-weight="bold" fill="#222">*</text>
<text x="362.20" y="472.21" font-size="9.5" text-anchor="middle" font-weight="bold" fill="#222">*</text>
<text x="374.70" y="460.44" font-size="7.6" text-anchor="middle" font-weight="bold" fill="#333">#</text>
<text x="380.00" y="454.14" font-size="7.6" text-anchor="middle" font-weight="bold" fill="#333">#</text>
<text x="384.90" y="452.54" font-size="7.6" text-anchor="middle" font-weight="bold" fill="#333">#</text>
<text x="398.00" y="460.24" font-size="7.6" text-anchor="middle" font-weight="bold" fill="#333">#</text>
<text x="402.90" y="449.74" font-size="7.6" text-anchor="middle" font-weight="bold" fill="#333">#</text>
<text x="407.80" y="447.31" font-size="9.5" text-anchor="middle" font-weight="bold" fill="#222">**</text>
<text x="420.80" y="448.74" font-size="7.6" text-anchor="middle" font-weight="bold" fill="#333">#</text>
<text x="426.10" y="435.21" font-size="9.5" text-anchor="middle" font-weight="bold" fill="#222">**</text>
<text x="431.00" y="447.74" font-size="7.6" text-anchor="middle" font-weight="bold" fill="#333">#</text>
<text x="443.60" y="456.44" font-size="7.6" text-anchor="middle" font-weight="bold" fill="#333">#</text>
<text x="448.60" y="443.24" font-size="7.6" text-anchor="middle" font-weight="bold" fill="#333">#</text>
<text x="453.60" y="446.44" font-size="7.6" text-anchor="middle" font-weight="bold" fill="#333">#</text>
<line x1="343.10" y1="481.10" x2="456.30" y2="481.10" stroke="#1a1a1a" stroke-width="1.2"/>
<line x1="343.10" y1="481.10" x2="343.10" y2="416.20" stroke="#222" stroke-width="1.2"/>
<line x1="340.90" y1="481.10" x2="343.10" y2="481.10" stroke="#333" stroke-width="0.9"/>
<text x="340.70" y="484.20" font-size="8.6" text-anchor="end" fill="#222">0</text>
<line x1="340.90" y1="464.88" x2="343.10" y2="464.88" stroke="#333" stroke-width="0.9"/>
<text x="340.70" y="467.97" font-size="8.6" text-anchor="end" fill="#222">1</text>
<line x1="340.90" y1="448.65" x2="343.10" y2="448.65" stroke="#333" stroke-width="0.9"/>
<text x="340.70" y="451.75" font-size="8.6" text-anchor="end" fill="#222">2</text>
<line x1="340.90" y1="432.43" x2="343.10" y2="432.43" stroke="#333" stroke-width="0.9"/>
<text x="340.70" y="435.52" font-size="8.6" text-anchor="end" fill="#222">3</text>
<line x1="340.90" y1="416.20" x2="343.10" y2="416.20" stroke="#333" stroke-width="0.9"/>
<text x="340.70" y="419.30" font-size="8.6" text-anchor="end" fill="#222">4</text>
<line x1="354.60" y1="481.10" x2="354.60" y2="482.90" stroke="#333" stroke-width="0.9"/>
<line x1="377.40" y1="481.10" x2="377.40" y2="482.90" stroke="#333" stroke-width="0.9"/>
<line x1="400.30" y1="481.10" x2="400.30" y2="482.90" stroke="#333" stroke-width="0.9"/>
<line x1="423.00" y1="481.10" x2="423.00" y2="482.90" stroke="#333" stroke-width="0.9"/>
<line x1="445.90" y1="481.10" x2="445.90" y2="482.90" stroke="#333" stroke-width="0.9"/>
<text x="304.10" y="523.40" font-size="15" font-weight="bold" fill="#111">L</text>
<text x="313.40" y="561.00" font-size="13" text-anchor="middle" transform="rotate(-90 313.40 561.00)" fill="#111">Lactoferrin</text>
<text x="325.50" y="560.10" font-size="12.7" text-anchor="middle" transform="rotate(-90 325.50 560.10)" fill="#111">(ng/mL)</text>
<line x1="347.45" y1="578.25" x2="347.45" y2="576.61" stroke="#222" stroke-width="0.9"/>
<line x1="345.95" y1="576.61" x2="348.95" y2="576.61" stroke="#222" stroke-width="0.9"/>
<rect x="345.60" y="578.25" width="3.70" height="17.55" fill="#fff" stroke="#222" stroke-width="0.9"/>
<rect x="350.45" y="587.27" width="3.70" height="8.53" fill="#111" stroke="#222" stroke-width="0.9"/>
<line x1="357.15" y1="579.73" x2="357.15" y2="576.94" stroke="#222" stroke-width="0.9"/>
<line x1="355.65" y1="576.94" x2="358.65" y2="576.94" stroke="#222" stroke-width="0.9"/>
<rect x="355.30" y="579.73" width="3.70" height="16.07" fill="#9a9a9a" stroke="#222" stroke-width="0.9"/>
<rect x="360.15" y="587.11" width="3.70" height="8.69" fill="url(#hatch)" stroke="#222" stroke-width="0.9"/>
<line x1="370.25" y1="558.57" x2="370.25" y2="555.29" stroke="#222" stroke-width="0.9"/>
<line x1="368.75" y1="555.29" x2="371.75" y2="555.29" stroke="#222" stroke-width="0.9"/>
<rect x="368.40" y="558.57" width="3.70" height="37.23" fill="#fff" stroke="#222" stroke-width="0.9"/>
<rect x="373.25" y="579.07" width="3.70" height="16.73" fill="#111" stroke="#222" stroke-width="0.9"/>
<line x1="379.95" y1="575.79" x2="379.95" y2="574.81" stroke="#222" stroke-width="0.9"/>
<line x1="378.45" y1="574.81" x2="381.45" y2="574.81" stroke="#222" stroke-width="0.9"/>
<rect x="378.10" y="575.79" width="3.70" height="20.01" fill="#9a9a9a" stroke="#222" stroke-width="0.9"/>
<line x1="384.80" y1="574.48" x2="384.80" y2="573.00" stroke="#222" stroke-width="0.9"/>
<line x1="383.30" y1="573.00" x2="386.30" y2="573.00" stroke="#222" stroke-width="0.9"/>
<rect x="382.95" y="574.48" width="3.70" height="21.32" fill="url(#hatch)" stroke="#222" stroke-width="0.9"/>
<line x1="393.15" y1="562.34" x2="393.15" y2="554.96" stroke="#222" stroke-width="0.9"/>
<line x1="391.65" y1="554.96" x2="394.65" y2="554.96" stroke="#222" stroke-width="0.9"/>
<rect x="391.30" y="562.34" width="3.70" height="33.46" fill="#fff" stroke="#222" stroke-width="0.9"/>
<rect x="396.15" y="579.07" width="3.70" height="16.73" fill="#111" stroke="#222" stroke-width="0.9"/>
<line x1="402.85" y1="575.79" x2="402.85" y2="574.81" stroke="#222" stroke-width="0.9"/>
<line x1="401.35" y1="574.81" x2="404.35" y2="574.81" stroke="#222" stroke-width="0.9"/>
<rect x="401.00" y="575.79" width="3.70" height="20.01" fill="#9a9a9a" stroke="#222" stroke-width="0.9"/>
<line x1="407.70" y1="573.66" x2="407.70" y2="572.18" stroke="#222" stroke-width="0.9"/>
<line x1="406.20" y1="572.18" x2="409.20" y2="572.18" stroke="#222" stroke-width="0.9"/>
<rect x="405.85" y="573.66" width="3.70" height="22.14" fill="url(#hatch)" stroke="#222" stroke-width="0.9"/>
<line x1="415.85" y1="549.88" x2="415.85" y2="547.91" stroke="#222" stroke-width="0.9"/>
<line x1="414.35" y1="547.91" x2="417.35" y2="547.91" stroke="#222" stroke-width="0.9"/>
<rect x="414.00" y="549.88" width="3.70" height="45.92" fill="#fff" stroke="#222" stroke-width="0.9"/>
<line x1="420.70" y1="573.82" x2="420.70" y2="573.17" stroke="#222" stroke-width="0.9"/>
<line x1="419.20" y1="573.17" x2="422.20" y2="573.17" stroke="#222" stroke-width="0.9"/>
<rect x="418.85" y="573.82" width="3.70" height="21.98" fill="#111" stroke="#222" stroke-width="0.9"/>
<line x1="425.55" y1="562.34" x2="425.55" y2="559.06" stroke="#222" stroke-width="0.9"/>
<line x1="424.05" y1="559.06" x2="427.05" y2="559.06" stroke="#222" stroke-width="0.9"/>
<rect x="423.70" y="562.34" width="3.70" height="33.46" fill="#9a9a9a" stroke="#222" stroke-width="0.9"/>
<line x1="430.40" y1="577.43" x2="430.40" y2="576.78" stroke="#222" stroke-width="0.9"/>
<line x1="428.90" y1="576.78" x2="431.90" y2="576.78" stroke="#222" stroke-width="0.9"/>
<rect x="428.55" y="577.43" width="3.70" height="18.37" fill="url(#hatch)" stroke="#222" stroke-width="0.9"/>
<rect x="436.90" y="534.79" width="3.70" height="61.01" fill="#fff" stroke="#222" stroke-width="0.9"/>
<line x1="443.60" y1="575.14" x2="443.60" y2="574.32" stroke="#222" stroke-width="0.9"/>
<line x1="442.10" y1="574.32" x2="445.10" y2="574.32" stroke="#222" stroke-width="0.9"/>
<rect x="441.75" y="575.14" width="3.70" height="20.66" fill="#111" stroke="#222" stroke-width="0.9"/>
<line x1="448.45" y1="566.12" x2="448.45" y2="561.20" stroke="#222" stroke-width="0.9"/>
<line x1="446.95" y1="561.20" x2="449.95" y2="561.20" stroke="#222" stroke-width="0.9"/>
<rect x="446.60" y="566.12" width="3.70" height="29.68" fill="#9a9a9a" stroke="#222" stroke-width="0.9"/>
<line x1="453.30" y1="571.86" x2="453.30" y2="569.40" stroke="#222" stroke-width="0.9"/>
<line x1="451.80" y1="569.40" x2="454.80" y2="569.40" stroke="#222" stroke-width="0.9"/>
<rect x="451.45" y="571.86" width="3.70" height="23.94" fill="url(#hatch)" stroke="#222" stroke-width="0.9"/>
<text x="352.50" y="583.94" font-size="7.6" text-anchor="middle" font-weight="bold" fill="#333">#</text>
<text x="362.50" y="585.91" font-size="9.5" text-anchor="middle" font-weight="bold" fill="#222">**</text>
<text x="375.10" y="570.24" font-size="7.6" text-anchor="middle" font-weight="bold" fill="#333">#</text>
<text x="380.10" y="570.24" font-size="7.6" text-anchor="middle" font-weight="bold" fill="#333">#</text>
<text x="385.30" y="570.24" font-size="7.6" text-anchor="middle" font-weight="bold" fill="#333">#</text>
<text x="398.00" y="570.24" font-size="7.6" text-anchor="middle" font-weight="bold" fill="#333">#</text>
<text x="403.00" y="570.24" font-size="7.6" text-anchor="middle" font-weight="bold" fill="#333">#</text>
<text x="408.20" y="570.24" font-size="7.6" text-anchor="middle" font-weight="bold" fill="#333">#</text>
<text x="420.60" y="560.24" font-size="7.6" text-anchor="middle" font-weight="bold" fill="#333">#</text>
<text x="425.80" y="555.24" font-size="7.6" text-anchor="middle" font-weight="bold" fill="#333">#</text>
<text x="431.20" y="560.24" font-size="7.6" text-anchor="middle" font-weight="bold" fill="#333">#</text>
<text x="443.80" y="560.24" font-size="7.6" text-anchor="middle" font-weight="bold" fill="#333">#</text>
<text x="449.50" y="554.04" font-size="7.6" text-anchor="middle" font-weight="bold" fill="#333">#</text>
<text x="455.50" y="559.04" font-size="7.6" text-anchor="middle" font-weight="bold" fill="#333">#</text>
<line x1="342.20" y1="595.80" x2="457.00" y2="595.80" stroke="#1a1a1a" stroke-width="1.2"/>
<line x1="342.20" y1="595.80" x2="342.20" y2="530.20" stroke="#222" stroke-width="1.2"/>
<line x1="340.00" y1="595.80" x2="342.20" y2="595.80" stroke="#333" stroke-width="0.9"/>
<text x="339.80" y="598.90" font-size="8.6" text-anchor="end" fill="#222">0</text>
<line x1="340.00" y1="579.40" x2="342.20" y2="579.40" stroke="#333" stroke-width="0.9"/>
<text x="339.80" y="582.50" font-size="8.6" text-anchor="end" fill="#222">10</text>
<line x1="340.00" y1="563.00" x2="342.20" y2="563.00" stroke="#333" stroke-width="0.9"/>
<text x="339.80" y="566.10" font-size="8.6" text-anchor="end" fill="#222">20</text>
<line x1="340.00" y1="546.60" x2="342.20" y2="546.60" stroke="#333" stroke-width="0.9"/>
<text x="339.80" y="549.70" font-size="8.6" text-anchor="end" fill="#222">30</text>
<line x1="340.00" y1="530.20" x2="342.20" y2="530.20" stroke="#333" stroke-width="0.9"/>
<text x="339.80" y="533.30" font-size="8.6" text-anchor="end" fill="#222">40</text>
<line x1="354.60" y1="595.80" x2="354.60" y2="597.60" stroke="#333" stroke-width="0.9"/>
<line x1="377.40" y1="595.80" x2="377.40" y2="597.60" stroke="#333" stroke-width="0.9"/>
<line x1="400.30" y1="595.80" x2="400.30" y2="597.60" stroke="#333" stroke-width="0.9"/>
<line x1="423.00" y1="595.80" x2="423.00" y2="597.60" stroke="#333" stroke-width="0.9"/>
<line x1="445.90" y1="595.80" x2="445.90" y2="597.60" stroke="#333" stroke-width="0.9"/>
<text x="355.20" y="107.30" font-size="9.0" text-anchor="end" transform="rotate(-45 355.20 107.30)" fill="#111">Media</text>
<text x="376.70" y="107.30" font-size="9.0" text-anchor="end" transform="rotate(-45 376.70 107.30)" fill="#111">op Sa</text>
<text x="398.50" y="107.30" font-size="9.0" text-anchor="end" transform="rotate(-45 398.50 107.30)" fill="#111">HI op Sa</text>
<text x="420.50" y="107.30" font-size="9.0" text-anchor="end" transform="rotate(-45 420.50 107.30)" fill="#111">op Ec</text>
<text x="442.80" y="107.30" font-size="9.0" text-anchor="end" transform="rotate(-45 442.80 107.30)" fill="#111">HI op Ec</text>
<text x="359.00" y="239.40" font-size="9.3" text-anchor="end" transform="rotate(-45 359.00 239.40)" fill="#111">Media</text>
<text x="392.40" y="239.40" font-size="9.3" text-anchor="end" transform="rotate(-45 392.40 239.40)" fill="#111">op Sa</text>
<text x="425.80" y="239.40" font-size="9.3" text-anchor="end" transform="rotate(-45 425.80 239.40)" fill="#111">HI op Sa</text>
<text x="459.20" y="239.40" font-size="9.3" text-anchor="end" transform="rotate(-45 459.20 239.40)" fill="#111">op Ec</text>
<text x="492.60" y="239.40" font-size="9.3" text-anchor="end" transform="rotate(-45 492.60 239.40)" fill="#111">HI op Ec</text>
<text x="356.70" y="490.60" font-size="8.1" text-anchor="end" transform="rotate(-45 356.70 490.60)" fill="#111">Media</text>
<text x="379.50" y="490.60" font-size="8.1" text-anchor="end" transform="rotate(-45 379.50 490.60)" fill="#111">op Sa</text>
<text x="402.40" y="490.60" font-size="8.1" text-anchor="end" transform="rotate(-45 402.40 490.60)" fill="#111">HI op Sa</text>
<text x="425.10" y="490.60" font-size="8.1" text-anchor="end" transform="rotate(-45 425.10 490.60)" fill="#111">op Ec</text>
<text x="448.00" y="490.60" font-size="8.1" text-anchor="end" transform="rotate(-45 448.00 490.60)" fill="#111">HI op Ec</text>
<text x="356.70" y="605.30" font-size="8.1" text-anchor="end" transform="rotate(-45 356.70 605.30)" fill="#111">Media</text>
<text x="379.50" y="605.30" font-size="8.1" text-anchor="end" transform="rotate(-45 379.50 605.30)" fill="#111">op Sa</text>
<text x="402.40" y="605.30" font-size="8.1" text-anchor="end" transform="rotate(-45 402.40 605.30)" fill="#111">HI op Sa</text>
<text x="425.10" y="605.30" font-size="8.1" text-anchor="end" transform="rotate(-45 425.10 605.30)" fill="#111">op Ec</text>
<text x="448.00" y="605.30" font-size="8.1" text-anchor="end" transform="rotate(-45 448.00 605.30)" fill="#111">HI op Ec</text>
<rect x="472.30" y="11.40" width="8" height="4.8" fill="#fff" stroke="#111" stroke-width="1.4"/>
<text x="483.30" y="17.47" font-size="10.2" fill="#111">WT</text>
<rect x="472.30" y="21.60" width="8" height="4.8" fill="#111" stroke="#111" stroke-width="1.4"/>
<text x="483.30" y="27.67" font-size="10.2" font-style="italic" fill="#111">syk<tspan font-size="6.12" dy="-3.88">-/-</tspan></text>
<rect x="472.00" y="119.40" width="8.6" height="5" fill="#fff" stroke="#111" stroke-width="1.4"/>
<text x="483.60" y="125.68" font-size="10.5" fill="#111">WT</text>
<rect x="472.00" y="130.30" width="8.6" height="5" fill="#111" stroke="#111" stroke-width="1.4"/>
<text x="483.60" y="136.58" font-size="10.5" font-style="italic" fill="#111">syk<tspan font-size="6.30" dy="-3.99">-/-</tspan></text>
<rect x="472.00" y="143.00" width="8.6" height="5" fill="#9a9a9a" stroke="#111" stroke-width="1.4"/>
<text x="483.60" y="149.28" font-size="10.5" font-style="italic" fill="#111">CD11b<tspan font-size="6.30" dy="-3.99">-/-</tspan></text>
<rect x="472.00" y="153.60" width="8.6" height="5" fill="url(#hatch2)" stroke="#111" stroke-width="1.4"/>
<text x="483.60" y="159.88" font-size="10.5" font-style="italic" fill="#111">CD18<tspan font-size="6.30" dy="-3.99">-/-</tspan></text>
<rect x="466.00" y="417.00" width="8.6" height="5.2" fill="#fff" stroke="#111" stroke-width="1.4"/>
<text x="477.60" y="423.20" font-size="10.0" fill="#111">WT</text>
<rect x="466.00" y="427.20" width="8.6" height="5.2" fill="#111" stroke="#111" stroke-width="1.4"/>
<text x="477.60" y="433.40" font-size="10.0" font-style="italic" fill="#111">syk<tspan font-size="6.00" dy="-3.80">-/-</tspan></text>
<rect x="466.00" y="438.10" width="8.6" height="5.2" fill="#9a9a9a" stroke="#111" stroke-width="1.4"/>
<text x="477.60" y="444.30" font-size="10.0" font-style="italic" fill="#111">CD11b<tspan font-size="6.00" dy="-3.80">-/-</tspan></text>
<rect x="466.00" y="448.60" width="8.6" height="5.2" fill="url(#hatch2)" stroke="#111" stroke-width="1.4"/>
<text x="477.60" y="454.80" font-size="10.0" font-style="italic" fill="#111">CD18<tspan font-size="6.00" dy="-3.80">-/-</tspan></text>
<rect x="466.00" y="531.80" width="8.6" height="5.2" fill="#fff" stroke="#111" stroke-width="1.4"/>
<text x="477.60" y="538.00" font-size="10.0" fill="#111">WT</text>
<rect x="466.00" y="541.60" width="8.6" height="5.2" fill="#111" stroke="#111" stroke-width="1.4"/>
<text x="477.60" y="547.80" font-size="10.0" font-style="italic" fill="#111">syk<tspan font-size="6.00" dy="-3.80">-/-</tspan></text>
<rect x="466.00" y="552.60" width="8.6" height="5.2" fill="#9a9a9a" stroke="#111" stroke-width="1.4"/>
<text x="477.60" y="558.80" font-size="10.0" font-style="italic" fill="#111">CD11b<tspan font-size="6.00" dy="-3.80">-/-</tspan></text>
<rect x="466.00" y="563.20" width="8.6" height="5.2" fill="url(#hatch2)" stroke="#111" stroke-width="1.4"/>
<text x="477.60" y="569.40" font-size="10.0" font-style="italic" fill="#111">CD18<tspan font-size="6.00" dy="-3.80">-/-</tspan></text>
<text x="302.80" y="283.10" font-size="15.5" font-weight="bold" fill="#111">J</text>
<text x="316.5" y="294.2" font-size="12.9" fill="#111">WT <tspan font-style="italic">S. aureus</tspan></text>
<text x="413.1" y="294.2" font-size="12.8" font-style="italic" fill="#111">syk<tspan font-size="6.6" dy="-4.8">-/-</tspan><tspan dy="4.8" dx="0.6"> S. aureus</tspan></text>
<text x="326.3" y="345.7" font-size="12.9" fill="#111">WT <tspan font-style="italic">E. coli</tspan></text>
<text x="422.5" y="345.7" font-size="12.8" font-style="italic" fill="#111">syk<tspan font-size="6.6" dy="-4.8">-/-</tspan><tspan dy="4.8" dx="0.6"> E. coli</tspan></text>
<rect x="309.6" y="296.6" width="96" height="2" fill="#111"/>
<rect x="408" y="296.6" width="96" height="2" fill="#111"/>
<rect x="309.6" y="347.6" width="96" height="2" fill="#111"/>
<rect x="408" y="347.6" width="96" height="2" fill="#111"/>
<text x="317.80" y="309.20" font-size="11.2" text-anchor="middle" fill="#111">0</text>
<text x="338.00" y="309.20" font-size="11.2" text-anchor="middle" fill="#111">1</text>
<text x="355.60" y="309.20" font-size="11.2" text-anchor="middle" fill="#111">5</text>
<text x="375.60" y="309.20" font-size="11.2" text-anchor="middle" fill="#111">10</text>
<text x="396.20" y="309.20" font-size="11.2" text-anchor="middle" fill="#111">25</text>
<text x="417.50" y="309.20" font-size="11.2" text-anchor="middle" fill="#111">0</text>
<text x="435.50" y="309.20" font-size="11.2" text-anchor="middle" fill="#111">1</text>
<text x="453.00" y="309.20" font-size="11.2" text-anchor="middle" fill="#111">5</text>
<text x="473.00" y="309.20" font-size="11.2" text-anchor="middle" fill="#111">10</text>
<text x="493.00" y="309.20" font-size="11.2" text-anchor="middle" fill="#111">25</text>
<text x="317.80" y="360.60" font-size="11.2" text-anchor="middle" fill="#111">0</text>
<text x="338.00" y="360.60" font-size="11.2" text-anchor="middle" fill="#111">1</text>
<text x="355.60" y="360.60" font-size="11.2" text-anchor="middle" fill="#111">5</text>
<text x="375.60" y="360.60" font-size="11.2" text-anchor="middle" fill="#111">10</text>
<text x="396.20" y="360.60" font-size="11.2" text-anchor="middle" fill="#111">25</text>
<text x="417.50" y="360.60" font-size="11.2" text-anchor="middle" fill="#111">0</text>
<text x="435.50" y="360.60" font-size="11.2" text-anchor="middle" fill="#111">1</text>
<text x="453.00" y="360.60" font-size="11.2" text-anchor="middle" fill="#111">5</text>
<text x="473.00" y="360.60" font-size="11.2" text-anchor="middle" fill="#111">10</text>
<text x="493.00" y="360.60" font-size="11.2" text-anchor="middle" fill="#111">25</text>
<defs><filter id="gblur" x="-20%" y="-40%" width="140%" height="180%"><feGaussianBlur stdDeviation="0.85"/></filter><filter id="gblur2" x="-20%" y="-40%" width="140%" height="180%"><feGaussianBlur stdDeviation="0.5"/></filter></defs>
<rect x="306.6" y="312.5" width="199.2" height="19.80" fill="#262626"/>
<g filter="url(#gblur2)">
<rect x="307.2" y="313.70" width="22.00" height="17.40" fill="#3e3e3e"/>
<rect x="331.6" y="313.70" width="14.70" height="17.40" fill="#505050"/>
<rect x="350.1" y="313.70" width="15.50" height="17.40" fill="#505050"/>
<rect x="369.8" y="313.70" width="14.80" height="17.40" fill="#505050"/>
<rect x="388.9" y="313.70" width="14.80" height="17.40" fill="#505050"/>
<rect x="409" y="313.70" width="18.00" height="17.40" fill="#383838"/>
<rect x="428.5" y="313.70" width="16.50" height="17.40" fill="#383838"/>
<rect x="447.5" y="313.70" width="16.00" height="17.40" fill="#3a3a3a"/>
<rect x="466.5" y="313.70" width="16.00" height="17.40" fill="#3a3a3a"/>
<rect x="485.5" y="313.70" width="17.50" height="17.40" fill="#3a3a3a"/>
</g><g filter="url(#gblur)">
<rect x="309.20" y="318.44" width="18.00" height="4.36" fill="#5a5a5a" rx="1.5"/>
<rect x="332.10" y="312.90" width="13.70" height="4.55" fill="#7a7a7a" rx="1.5"/>
<rect x="331.60" y="322.40" width="14.70" height="8.91" fill="#999" rx="1.5"/>
<rect x="331.20" y="316.06" width="15.50" height="8.32" fill="#fff" rx="1.5"/>
<rect x="350.60" y="312.90" width="14.50" height="4.55" fill="#7a7a7a" rx="1.5"/>
<rect x="350.10" y="322.40" width="15.50" height="8.91" fill="#999" rx="1.5"/>
<rect x="349.70" y="316.06" width="16.30" height="8.32" fill="#fff" rx="1.5"/>
<rect x="370.30" y="312.90" width="13.80" height="4.55" fill="#7a7a7a" rx="1.5"/>
<rect x="369.80" y="322.40" width="14.80" height="8.91" fill="#999" rx="1.5"/>
<rect x="369.40" y="316.06" width="15.60" height="8.32" fill="#fff" rx="1.5"/>
<rect x="389.40" y="312.90" width="13.80" height="4.55" fill="#7a7a7a" rx="1.5"/>
<rect x="388.90" y="322.40" width="14.80" height="8.91" fill="#999" rx="1.5"/>
<rect x="388.50" y="316.06" width="15.60" height="8.32" fill="#fff" rx="1.5"/>
<rect x="410.50" y="321.41" width="15.00" height="4.95" fill="#8a8a8a" rx="1.5"/>
<rect x="430.00" y="321.41" width="13.50" height="4.95" fill="#9a9a9a" rx="1.5"/>
<rect x="448.70" y="320.82" width="13.60" height="5.15" fill="#dcdcdc" rx="1.5"/>
<rect x="448.50" y="325.37" width="14.00" height="3.96" fill="#666" rx="1.5"/>
<rect x="467.70" y="320.82" width="13.60" height="5.15" fill="#d0d0d0" rx="1.5"/>
<rect x="467.50" y="325.37" width="14.00" height="3.96" fill="#666" rx="1.5"/>
<rect x="486.50" y="320.02" width="15.50" height="5.54" fill="#fff" rx="1.5"/>
<rect x="486.50" y="324.78" width="15.50" height="4.55" fill="#888" rx="1.5"/>
</g>
<rect x="306.6" y="362.8" width="199.2" height="20.10" fill="#262626"/>
<g filter="url(#gblur2)">
<rect x="307.2" y="364.00" width="22.00" height="17.70" fill="#3a3a3a"/>
<rect x="331.2" y="364.00" width="15.10" height="17.70" fill="#555"/>
<rect x="350.1" y="364.00" width="15.50" height="17.70" fill="#777"/>
<rect x="369.6" y="364.00" width="15.00" height="17.70" fill="#777"/>
<rect x="388.7" y="364.00" width="15.30" height="17.70" fill="#777"/>
<rect x="408.8" y="364.00" width="17.70" height="17.70" fill="#3a3a3a"/>
<rect x="428.5" y="364.00" width="16.50" height="17.70" fill="#444"/>
<rect x="447.5" y="364.00" width="16.00" height="17.70" fill="#444"/>
<rect x="466.5" y="364.00" width="16.00" height="17.70" fill="#444"/>
<rect x="485.5" y="364.00" width="17.50" height="17.70" fill="#444"/>
</g><g filter="url(#gblur)">
<rect x="309.20" y="372.85" width="18.00" height="8.04" fill="#555" rx="1.5"/>
<rect x="312.20" y="368.03" width="12.00" height="4.22" fill="#e6e6e6" rx="1.5"/>
<rect x="331.70" y="363.81" width="14.10" height="4.02" fill="#aaa" rx="1.5"/>
<rect x="331.50" y="373.86" width="14.50" height="8.64" fill="#999" rx="1.5"/>
<rect x="331.40" y="365.21" width="14.70" height="11.26" fill="#fff" rx="1.5"/>
<rect x="349.30" y="363.20" width="17.10" height="19.30" fill="#f4f4f4" rx="1.5"/>
<rect x="353.10" y="363.20" width="9.50" height="2.61" fill="#bbb" rx="1.5"/>
<rect x="349.60" y="365.81" width="16.50" height="13.06" fill="#fff" rx="1.5"/>
<rect x="368.80" y="363.20" width="16.60" height="19.30" fill="#f4f4f4" rx="1.5"/>
<rect x="372.60" y="363.20" width="9.00" height="2.61" fill="#bbb" rx="1.5"/>
<rect x="369.10" y="365.81" width="16.00" height="13.06" fill="#fff" rx="1.5"/>
<rect x="387.90" y="363.20" width="16.90" height="19.30" fill="#f4f4f4" rx="1.5"/>
<rect x="391.70" y="363.20" width="9.30" height="2.61" fill="#bbb" rx="1.5"/>
<rect x="388.20" y="365.81" width="16.30" height="13.06" fill="#fff" rx="1.5"/>
<rect x="410.80" y="371.84" width="13.70" height="3.42" fill="#aaa" rx="1.5"/>
<rect x="409.80" y="375.26" width="15.70" height="5.63" fill="#555" rx="1.5"/>
<rect x="428.80" y="373.86" width="15.90" height="8.04" fill="#8a8a8a" rx="1.5"/>
<rect x="428.70" y="365.61" width="16.10" height="9.65" fill="#fff" rx="1.5"/>
<rect x="447.80" y="373.86" width="15.40" height="8.04" fill="#8a8a8a" rx="1.5"/>
<rect x="447.70" y="365.61" width="15.60" height="9.65" fill="#fff" rx="1.5"/>
<rect x="466.80" y="373.86" width="15.40" height="8.04" fill="#8a8a8a" rx="1.5"/>
<rect x="466.70" y="365.61" width="15.60" height="9.65" fill="#fff" rx="1.5"/>
<rect x="485.80" y="373.86" width="16.90" height="8.04" fill="#8a8a8a" rx="1.5"/>
<rect x="485.70" y="365.61" width="17.10" height="9.65" fill="#fff" rx="1.5"/>
</g></g></svg></body></html>
